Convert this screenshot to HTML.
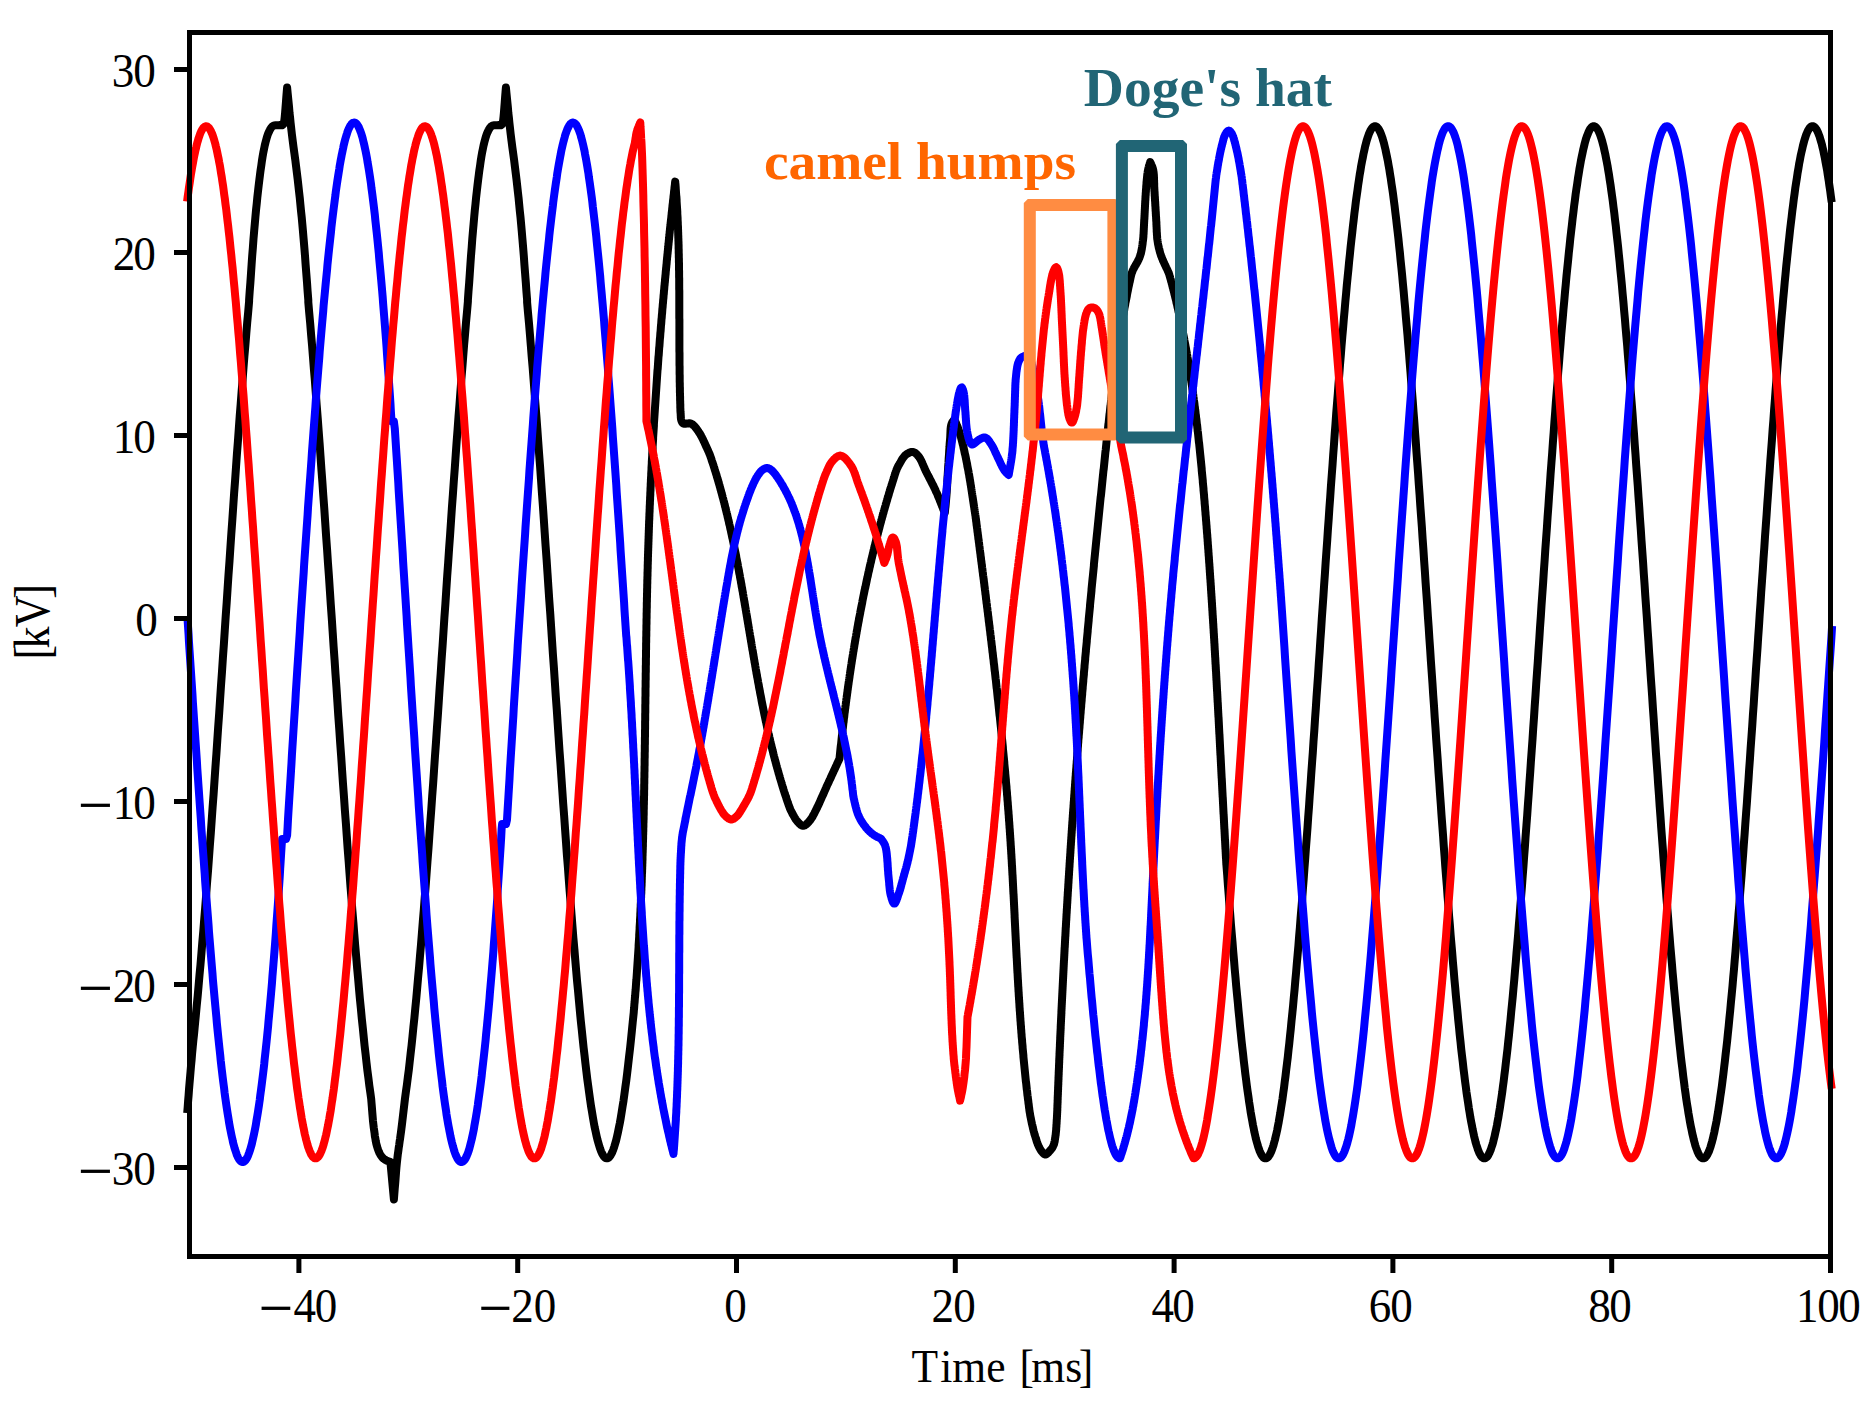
<!DOCTYPE html>
<html lang="en"><head><meta charset="utf-8"><title>Three-phase voltage transient</title>
<style>html,body{margin:0;padding:0;background:#fff}body{width:1875px;height:1412px;overflow:hidden}</style>
</head><body>
<svg width="1875" height="1412" viewBox="0 0 1875 1412" style="display:block">
<rect width="1875" height="1412" fill="#fff"/>
<defs><clipPath id="ax"><rect x="170" y="30" width="1680" height="1229"/></clipPath></defs>
<g clip-path="url(#ax)" fill="none" stroke-width="8.0" stroke-linejoin="round" stroke-linecap="butt">
<path stroke="#000" d="M187.2,1113.0 L187.7,1107.1 L188.1,1101.3 L188.6,1095.4 L189.0,1089.6 L189.5,1083.7 L190.0,1077.9 L190.5,1072.0 L191.0,1066.0 L191.6,1059.8 L192.1,1053.5 L192.7,1047.2 L193.3,1040.9 L194.0,1034.6 L194.6,1028.2 L195.2,1021.9 L195.8,1015.6 L196.7,1005.9 L197.7,995.9 L198.6,985.7 L199.5,975.2 L200.5,964.5 L201.4,953.6 L202.3,942.4 L203.3,931.1 L204.2,919.5 L205.2,907.7 L206.1,895.7 L207.0,883.5 L208.0,871.2 L208.9,858.7 L209.8,846.1 L210.8,833.3 L211.7,820.3 L212.6,807.2 L213.6,794.1 L214.5,780.8 L215.4,767.4 L216.4,753.9 L217.3,740.3 L218.2,726.7 L219.2,713.0 L220.1,699.2 L221.0,685.4 L222.0,671.6 L222.9,657.8 L223.9,643.9 L224.8,630.0 L225.7,616.2 L226.7,602.4 L227.6,588.6 L228.5,574.8 L229.5,561.1 L230.4,547.4 L231.3,533.9 L232.3,520.3 L233.2,506.9 L234.1,493.6 L235.1,480.4 L236.0,467.3 L236.9,454.3 L237.9,441.5 L238.8,428.8 L239.7,416.3 L240.7,403.9 L241.6,391.7 L242.6,379.7 L243.5,367.8 L244.4,356.2 L245.4,344.8 L246.3,333.5 L247.2,322.6 L248.2,311.8 L249.1,301.3 L249.1,300.0 L249.7,291.3 L250.4,282.4 L251.0,273.5 L251.6,264.6 L252.2,255.8 L252.9,247.2 L253.5,238.8 L254.2,230.6 L254.8,223.8 L255.4,217.0 L256.0,210.4 L256.7,203.9 L257.3,197.6 L258.0,191.4 L258.7,185.3 L259.4,179.5 L260.0,174.8 L260.6,170.1 L261.3,165.5 L261.9,161.0 L262.6,156.7 L263.3,152.6 L264.1,148.8 L264.8,145.3 L265.3,143.2 L265.8,141.3 L266.3,139.4 L266.8,137.7 L267.3,136.0 L267.8,134.5 L268.4,133.0 L269.0,131.7 L269.4,130.8 L269.9,129.9 L270.3,129.1 L270.8,128.3 L271.3,127.6 L271.8,127.0 L272.4,126.4 L273.0,126.0 L273.6,125.7 L274.1,125.5 L274.8,125.4 L275.4,125.3 L276.1,125.3 L276.7,125.3 L277.4,125.2 L278.0,125.2 L278.6,125.2 L279.2,125.1 L279.8,125.1 L281.0,125.2 L282.2,125.2 L282.9,124.9 L283.3,124.3 L283.7,123.4 L284.3,120.6 L284.7,117.1 L285.1,112.8 L285.5,107.9 L285.9,102.7 L286.3,97.4 L286.7,92.2 L287.1,87.5 L287.6,92.6 L288.1,97.6 L288.6,102.6 L289.1,107.6 L289.5,112.7 L290.1,117.8 L290.6,123.0 L291.2,128.3 L291.9,134.4 L292.7,140.7 L293.5,147.1 L294.4,153.5 L295.3,160.0 L296.1,166.6 L296.9,173.1 L297.7,179.5 L298.4,185.8 L299.1,192.1 L299.8,198.3 L300.4,204.6 L301.0,210.9 L301.7,217.3 L302.3,223.8 L302.9,230.6 L303.6,238.8 L304.3,247.2 L305.0,255.8 L305.6,264.6 L306.3,273.5 L307.0,282.4 L307.6,291.3 L308.3,300.0 L308.3,302.1 L309.2,312.7 L310.2,323.5 L311.1,334.6 L312.1,345.9 L313.0,357.4 L313.9,369.1 L314.9,381.0 L315.8,393.1 L316.7,405.3 L317.7,417.8 L318.6,430.4 L319.6,443.2 L320.5,456.1 L321.4,469.1 L322.4,482.3 L323.3,495.6 L324.3,508.9 L325.2,522.4 L326.1,536.0 L327.1,549.7 L328.0,563.4 L329.0,577.2 L329.9,591.0 L330.8,604.8 L331.8,618.7 L332.7,632.6 L333.6,646.5 L334.6,660.4 L335.5,674.3 L336.5,688.2 L337.4,702.1 L338.3,715.9 L339.3,729.6 L340.2,743.3 L341.2,756.9 L342.1,770.4 L343.0,783.8 L344.0,797.2 L344.9,810.4 L345.9,823.5 L346.8,836.4 L347.7,849.2 L348.7,861.9 L349.6,874.4 L350.5,886.8 L351.5,898.9 L352.4,910.9 L353.4,922.7 L354.3,934.2 L355.2,945.6 L356.2,956.8 L357.1,967.7 L358.1,978.4 L359.0,988.8 L359.9,999.0 L360.9,1008.9 L361.8,1018.6 L362.8,1027.9 L363.7,1037.0 L364.6,1045.9 L365.6,1054.4 L366.5,1062.6 L367.4,1070.5 L368.4,1078.1 L369.3,1085.4 L370.3,1092.4 L371.2,1099.0 L371.5,1102.7 L371.8,1106.4 L372.1,1110.1 L372.4,1113.9 L372.7,1117.5 L373.0,1121.1 L373.4,1124.6 L373.8,1128.0 L374.2,1130.7 L374.6,1133.5 L374.9,1136.2 L375.4,1138.8 L375.8,1141.3 L376.3,1143.7 L376.9,1145.9 L377.5,1148.0 L378.0,1149.4 L378.5,1150.7 L379.0,1151.9 L379.5,1153.1 L380.1,1154.2 L380.7,1155.2 L381.3,1156.1 L382.0,1157.0 L382.5,1157.6 L383.0,1158.1 L383.6,1158.6 L384.2,1159.0 L384.7,1159.5 L385.3,1159.8 L385.9,1160.2 L386.5,1160.5 L387.0,1160.8 L388.2,1161.2 L389.3,1161.5 L390.4,1161.8 L393.9,1199.5 L394.3,1194.2 L394.7,1188.9 L395.2,1183.5 L395.6,1178.1 L396.0,1172.8 L396.4,1167.7 L396.9,1162.7 L397.4,1158.0 L397.8,1154.5 L398.3,1151.1 L398.7,1147.9 L399.2,1144.8 L399.6,1141.7 L400.1,1138.6 L400.5,1135.4 L401.0,1132.0 L401.5,1128.0 L402.0,1123.9 L402.5,1119.7 L403.0,1115.5 L403.5,1111.2 L404.0,1107.0 L404.5,1102.7 L405.0,1098.5 L405.9,1091.8 L406.9,1084.8 L407.8,1077.5 L408.8,1069.9 L409.7,1061.9 L410.6,1053.7 L411.6,1045.1 L412.5,1036.3 L413.4,1027.2 L414.4,1017.8 L415.3,1008.1 L416.3,998.1 L417.2,987.9 L418.1,977.5 L419.1,966.8 L420.0,955.8 L421.0,944.7 L421.9,933.3 L422.8,921.7 L423.8,909.9 L424.7,897.9 L425.7,885.7 L426.6,873.4 L427.5,860.9 L428.5,848.2 L429.4,835.3 L430.3,822.4 L431.3,809.3 L432.2,796.1 L433.2,782.7 L434.1,769.3 L435.0,755.8 L436.0,742.1 L436.9,728.5 L437.9,714.7 L438.8,700.9 L439.7,687.1 L440.7,673.2 L441.6,659.3 L442.6,645.4 L443.5,631.5 L444.4,617.6 L445.4,603.7 L446.3,589.8 L447.2,576.0 L448.2,562.2 L449.1,548.5 L450.1,534.9 L451.0,521.3 L451.9,507.8 L452.9,494.4 L453.8,481.2 L454.8,468.0 L455.7,455.0 L456.6,442.1 L457.6,429.3 L458.5,416.7 L459.5,404.3 L460.4,392.1 L461.3,380.0 L462.3,368.1 L463.2,356.4 L464.1,344.9 L465.1,333.7 L466.0,322.6 L467.0,311.8 L467.9,301.3 L467.9,300.0 L468.5,291.3 L469.2,282.4 L469.8,273.5 L470.4,264.6 L471.0,255.8 L471.7,247.2 L472.3,238.8 L473.0,230.6 L473.6,223.8 L474.2,217.0 L474.8,210.4 L475.5,203.9 L476.1,197.6 L476.8,191.4 L477.5,185.3 L478.2,179.5 L478.8,174.8 L479.4,170.1 L480.1,165.5 L480.7,161.0 L481.4,156.7 L482.1,152.6 L482.9,148.8 L483.6,145.3 L484.1,143.2 L484.6,141.3 L485.1,139.4 L485.6,137.7 L486.1,136.0 L486.6,134.5 L487.2,133.0 L487.8,131.7 L488.2,130.8 L488.7,129.9 L489.1,129.1 L489.6,128.3 L490.1,127.6 L490.6,127.0 L491.2,126.4 L491.8,126.0 L492.4,125.7 L492.9,125.5 L493.6,125.4 L494.2,125.3 L494.9,125.3 L495.5,125.3 L496.2,125.2 L496.8,125.2 L497.4,125.2 L498.0,125.1 L498.6,125.1 L499.8,125.2 L501.0,125.2 L501.7,124.9 L502.1,124.3 L502.5,123.4 L503.1,120.6 L503.5,117.1 L503.9,112.8 L504.3,107.9 L504.7,102.7 L505.1,97.4 L505.5,92.2 L505.9,87.5 L506.4,92.6 L506.9,97.6 L507.4,102.6 L507.9,107.6 L508.3,112.7 L508.9,117.8 L509.4,123.0 L510.0,128.3 L510.7,134.4 L511.5,140.7 L512.3,147.1 L513.2,153.5 L514.1,160.0 L514.9,166.6 L515.7,173.1 L516.5,179.5 L517.2,185.8 L517.9,192.1 L518.6,198.3 L519.2,204.6 L519.8,210.9 L520.5,217.3 L521.1,223.8 L521.7,230.6 L522.4,238.8 L523.1,247.2 L523.8,255.8 L524.4,264.6 L525.1,273.5 L525.8,282.4 L526.4,291.3 L527.1,300.0 L527.1,302.1 L528.0,312.6 L529.0,323.3 L529.9,334.2 L530.8,345.3 L531.7,356.6 L532.7,368.2 L533.6,379.9 L534.5,391.8 L535.4,403.9 L536.4,416.2 L537.3,428.6 L538.2,441.2 L539.1,453.9 L540.1,466.7 L541.0,479.7 L541.9,492.8 L542.9,506.0 L543.8,519.3 L544.7,532.7 L545.6,546.1 L546.6,559.6 L547.5,573.2 L548.4,586.9 L549.3,600.5 L550.3,614.2 L551.2,627.9 L552.1,641.7 L553.0,655.4 L554.0,669.1 L554.9,682.8 L555.8,696.5 L556.8,710.1 L557.7,723.7 L558.6,737.3 L559.5,750.7 L560.5,764.1 L561.4,777.4 L562.3,790.6 L563.2,803.7 L564.2,816.7 L565.1,829.6 L566.0,842.3 L566.9,854.9 L567.9,867.3 L568.8,879.6 L569.7,891.7 L570.7,903.6 L571.6,915.4 L572.5,926.9 L573.4,938.3 L574.4,949.4 L575.3,960.3 L576.2,971.0 L577.1,981.5 L578.1,991.7 L579.0,1001.7 L579.9,1011.4 L580.8,1020.9 L581.8,1030.1 L582.7,1039.0 L583.6,1047.7 L584.6,1056.0 L585.5,1064.1 L586.4,1071.8 L587.3,1079.3 L588.3,1086.5 L589.2,1093.3 L590.1,1099.8 L591.0,1106.0 L592.0,1111.9 L592.9,1117.4 L593.8,1122.6 L594.7,1127.4 L595.7,1131.9 L596.6,1136.1 L597.5,1139.9 L598.5,1143.4 L599.4,1146.5 L600.3,1149.2 L601.2,1151.6 L602.2,1153.7 L603.1,1155.3 L604.0,1156.6 L604.9,1157.6 L605.9,1158.1 L606.8,1158.3 L607.7,1158.2 L608.6,1157.7 L609.6,1156.8 L610.5,1155.5 L611.4,1153.9 L612.4,1151.9 L613.3,1149.6 L614.2,1146.9 L615.1,1143.9 L616.1,1140.5 L617.0,1136.7 L617.9,1132.6 L618.8,1128.1 L619.8,1123.3 L620.7,1118.2 L621.6,1112.7 L622.5,1106.9 L623.5,1100.8 L624.4,1094.3 L625.3,1087.5 L626.3,1080.4 L627.2,1073.0 L628.1,1065.3 L629.0,1057.3 L630.0,1048.9 L630.9,1040.3 L631.8,1031.5 L632.7,1022.3 L633.7,1012.9 L633.8,1011.4 L633.9,1009.9 L634.1,1008.4 L634.2,1006.9 L634.3,1005.4 L634.4,1003.9 L634.6,1002.4 L634.7,1000.9 L634.8,999.4 L634.9,997.9 L635.1,996.4 L635.2,994.9 L635.3,993.4 L635.4,991.9 L635.6,990.4 L635.7,988.9 L635.8,987.4 L635.9,985.9 L636.0,984.4 L636.1,982.9 L636.2,981.4 L636.4,979.9 L636.5,978.4 L636.6,976.9 L636.7,975.4 L636.8,973.9 L636.9,972.4 L637.0,970.9 L637.1,969.4 L637.2,967.9 L637.3,966.4 L637.4,964.9 L637.5,963.4 L637.6,961.9 L637.7,960.4 L637.8,958.9 L637.9,957.4 L638.0,955.9 L638.1,954.4 L638.2,952.9 L638.3,951.4 L638.4,949.9 L638.5,948.4 L638.6,946.9 L638.6,945.4 L638.7,943.9 L638.8,942.4 L638.9,940.9 L639.0,939.4 L639.1,937.9 L639.2,936.4 L639.2,934.9 L639.3,933.4 L639.4,931.9 L639.5,930.4 L639.6,928.9 L639.6,927.4 L639.7,925.9 L639.8,924.4 L639.9,922.9 L640.0,921.4 L640.0,919.9 L640.1,918.4 L640.2,916.9 L640.3,915.4 L640.3,913.9 L640.4,912.4 L640.5,910.9 L640.5,909.4 L640.6,907.9 L640.7,906.4 L640.7,904.9 L640.8,903.4 L640.9,901.9 L640.9,900.4 L641.0,898.9 L641.1,897.4 L641.1,895.8 L641.2,894.3 L641.3,892.8 L641.3,891.3 L641.4,889.8 L641.4,888.3 L641.5,886.8 L641.6,885.3 L641.6,883.8 L641.7,882.3 L641.7,880.8 L641.8,879.3 L641.8,877.8 L641.9,876.3 L641.9,874.8 L642.0,873.3 L642.1,871.8 L642.1,870.3 L642.2,868.8 L642.2,867.3 L642.3,865.8 L642.3,864.3 L642.4,862.8 L642.4,861.3 L642.5,859.8 L642.5,858.3 L642.5,856.8 L642.6,855.3 L642.6,853.8 L642.7,852.3 L642.7,850.8 L642.8,849.3 L642.8,847.8 L642.9,846.3 L642.9,844.8 L642.9,843.3 L643.0,841.8 L643.0,840.3 L643.1,838.8 L643.1,837.3 L643.1,835.8 L643.2,834.3 L643.2,832.8 L643.3,831.3 L643.3,829.8 L643.3,828.3 L643.4,826.8 L643.4,825.3 L643.4,823.8 L643.5,822.3 L643.5,820.8 L643.6,819.3 L643.6,817.7 L643.6,816.2 L643.7,814.7 L643.7,813.2 L643.7,811.7 L643.7,810.2 L643.8,808.7 L643.8,807.2 L643.8,805.7 L643.9,804.2 L643.9,802.7 L643.9,801.2 L644.0,799.7 L644.0,798.2 L644.0,796.7 L644.1,795.2 L644.1,793.7 L644.1,792.2 L644.1,790.7 L644.2,789.2 L644.2,787.7 L644.2,786.2 L644.2,784.7 L644.3,783.2 L644.3,781.7 L644.3,780.2 L644.3,778.7 L644.4,777.2 L644.4,775.7 L644.4,774.2 L644.4,772.7 L644.5,771.2 L644.5,769.7 L644.5,768.2 L644.5,766.7 L644.6,765.2 L644.6,763.7 L644.6,762.2 L644.6,760.7 L644.6,759.1 L644.7,757.6 L644.7,756.1 L644.7,754.6 L644.7,753.1 L644.8,751.6 L644.8,750.1 L644.8,748.6 L644.8,747.1 L644.8,745.6 L644.9,744.1 L644.9,742.6 L644.9,741.1 L644.9,739.6 L644.9,738.1 L645.0,736.6 L645.0,735.1 L645.0,733.6 L645.0,732.1 L645.0,730.6 L645.1,729.1 L645.1,727.6 L645.1,726.1 L645.1,724.6 L645.1,723.1 L645.1,721.6 L645.2,720.1 L645.2,718.6 L645.2,717.1 L645.2,715.6 L645.2,714.1 L645.3,712.6 L645.3,711.1 L645.3,709.6 L645.3,708.1 L645.3,706.6 L645.3,705.0 L645.4,703.5 L645.4,702.0 L645.4,700.5 L645.4,699.0 L645.4,697.5 L645.5,696.0 L645.5,694.5 L645.5,693.0 L645.5,691.5 L645.5,690.0 L645.5,688.5 L645.6,687.0 L645.6,685.5 L645.6,684.0 L645.6,682.5 L645.6,681.0 L645.7,679.5 L645.7,678.0 L645.7,676.5 L645.7,675.0 L645.7,673.5 L645.8,672.0 L645.8,670.5 L645.8,669.0 L645.8,667.5 L645.8,666.0 L645.9,664.5 L645.9,663.0 L645.9,661.5 L645.9,660.0 L645.9,658.5 L646.0,657.0 L646.0,655.5 L646.0,654.0 L646.0,652.4 L646.0,650.9 L646.1,649.4 L646.1,647.9 L646.1,646.4 L646.1,644.9 L646.1,643.4 L646.2,641.9 L646.2,640.4 L646.2,638.9 L646.2,637.4 L646.3,635.9 L646.3,634.4 L646.3,632.9 L646.3,631.4 L646.4,629.9 L646.4,628.4 L646.4,626.9 L646.4,625.4 L646.5,623.9 L646.5,622.4 L646.5,620.9 L646.5,619.4 L646.6,617.9 L646.6,616.4 L646.6,614.9 L646.6,613.4 L646.7,611.9 L646.7,610.4 L646.7,608.9 L646.8,607.4 L646.8,605.9 L646.8,604.4 L646.8,602.9 L646.9,601.4 L646.9,599.9 L646.9,598.4 L647.0,596.8 L647.0,595.3 L647.0,593.8 L647.1,592.3 L647.1,590.8 L647.1,589.3 L647.2,587.8 L647.2,586.3 L647.2,584.8 L647.3,583.3 L647.3,581.8 L647.3,580.3 L647.4,578.8 L647.4,577.3 L647.5,575.8 L647.5,574.3 L647.5,572.8 L647.6,571.3 L647.6,569.8 L647.7,568.3 L647.7,566.8 L647.7,565.3 L647.8,563.8 L647.8,562.3 L647.9,560.8 L647.9,559.3 L647.9,557.8 L648.0,556.3 L648.0,554.8 L648.1,553.3 L648.1,551.8 L648.2,550.3 L648.2,548.8 L648.3,547.3 L648.3,545.8 L648.4,544.3 L648.4,542.8 L648.5,541.3 L648.5,539.8 L648.6,538.3 L648.6,536.8 L648.7,535.3 L648.7,533.8 L648.8,532.3 L648.8,530.7 L648.9,529.2 L648.9,527.7 L649.0,526.2 L649.0,524.7 L649.1,523.2 L649.1,521.7 L649.2,520.2 L649.3,518.7 L649.3,517.2 L649.4,515.7 L649.4,514.2 L649.5,512.7 L649.6,511.2 L649.6,509.7 L649.7,508.2 L649.7,506.7 L649.8,505.2 L649.9,503.7 L649.9,502.2 L650.0,500.7 L650.1,499.2 L650.1,497.7 L650.2,496.2 L650.3,494.7 L650.3,493.2 L650.4,491.7 L650.5,490.2 L650.5,488.7 L650.6,487.2 L650.7,485.7 L650.7,484.2 L650.8,482.7 L650.9,481.2 L650.9,479.7 L651.0,478.2 L651.1,476.7 L651.2,475.2 L651.2,473.7 L651.3,472.2 L651.4,470.7 L651.5,469.2 L651.5,467.7 L651.6,466.2 L651.7,464.7 L651.8,463.2 L651.8,461.7 L651.9,460.2 L652.0,458.7 L652.1,457.2 L652.2,455.7 L652.2,454.2 L652.3,452.7 L652.4,451.2 L652.5,449.7 L652.6,448.2 L652.6,446.7 L652.7,445.2 L652.8,443.7 L652.9,442.2 L653.0,440.7 L653.1,439.2 L653.1,437.7 L653.2,436.2 L653.3,434.7 L653.4,433.2 L653.5,431.7 L653.6,430.2 L653.7,428.7 L653.8,427.2 L653.9,425.7 L653.9,424.2 L654.0,422.7 L654.1,421.2 L654.2,419.7 L654.3,418.2 L654.4,416.7 L654.5,415.2 L654.6,413.7 L654.7,412.2 L654.8,410.7 L654.9,409.2 L655.0,407.7 L655.1,406.2 L655.2,404.7 L655.3,403.2 L655.4,401.7 L655.5,400.2 L655.6,398.7 L655.7,397.2 L655.8,395.7 L655.9,394.2 L656.0,392.7 L656.1,391.2 L656.2,389.7 L656.3,388.2 L656.4,386.7 L656.5,385.2 L656.6,383.7 L656.7,382.2 L656.8,380.7 L656.9,379.2 L657.0,377.7 L657.1,376.2 L657.2,374.7 L657.3,373.2 L657.4,371.7 L657.5,370.2 L657.7,368.7 L657.8,367.2 L657.9,365.7 L658.0,364.2 L658.1,362.7 L658.2,361.2 L658.3,359.7 L658.4,358.2 L658.5,356.7 L658.7,355.2 L658.8,353.7 L658.9,352.2 L659.0,350.7 L659.1,349.2 L659.2,347.7 L659.4,346.2 L659.5,344.7 L659.6,343.2 L659.7,341.7 L659.8,340.2 L659.9,338.7 L660.1,337.2 L660.2,335.7 L660.3,334.2 L660.4,332.7 L660.6,331.2 L660.7,329.7 L660.8,328.2 L660.9,326.7 L661.0,325.2 L661.2,323.7 L661.3,322.2 L661.4,320.7 L661.5,319.2 L661.7,317.7 L661.8,316.2 L661.9,314.7 L662.1,313.2 L662.2,311.7 L662.3,310.2 L662.4,308.7 L662.6,307.2 L662.7,305.7 L662.8,304.2 L663.0,302.7 L663.1,301.2 L663.2,299.8 L663.4,298.3 L663.5,296.8 L663.6,295.3 L663.8,293.8 L663.9,292.3 L664.0,290.8 L664.2,289.3 L664.3,287.8 L664.4,286.3 L664.6,284.8 L664.7,283.3 L664.9,281.8 L665.0,280.3 L665.1,278.8 L665.3,277.3 L665.4,275.8 L665.6,274.3 L665.7,272.8 L665.8,271.3 L666.0,269.8 L666.1,268.3 L666.3,266.8 L666.4,265.3 L666.6,263.8 L666.7,262.3 L666.8,260.8 L667.0,259.3 L667.1,257.8 L667.3,256.3 L667.4,254.8 L667.6,253.4 L667.7,251.9 L667.9,250.4 L668.0,248.9 L668.2,247.4 L668.3,245.9 L668.5,244.4 L668.6,242.9 L668.8,241.4 L668.9,239.9 L669.1,238.4 L669.2,236.9 L669.4,235.4 L669.5,233.9 L669.7,232.4 L669.8,230.9 L670.0,229.4 L670.1,227.9 L670.3,226.4 L670.5,224.9 L670.6,223.4 L670.8,221.9 L670.9,220.5 L671.1,219.0 L671.3,217.5 L671.4,216.0 L671.6,214.5 L671.7,213.0 L671.9,211.5 L672.1,210.0 L672.2,208.5 L672.4,207.0 L672.5,205.5 L672.7,204.0 L672.9,202.5 L673.0,201.0 L673.2,199.5 L673.4,198.0 L673.5,196.5 L673.7,195.0 L673.9,193.6 L674.0,192.1 L674.2,190.6 L674.4,189.1 L674.5,187.6 L674.7,186.1 L674.9,184.6 L675.0,183.1 L675.2,181.6 L675.3,183.1 L675.5,184.6 L675.6,186.1 L675.7,187.6 L675.8,189.2 L675.9,190.7 L676.0,192.2 L676.1,193.7 L676.2,195.2 L676.4,196.7 L676.5,198.2 L676.6,199.7 L676.6,201.3 L676.7,202.8 L676.8,204.3 L676.9,205.8 L677.0,207.3 L677.1,208.8 L677.2,210.3 L677.3,211.8 L677.3,213.4 L677.4,214.9 L677.5,216.4 L677.6,217.9 L677.6,219.4 L677.7,220.9 L677.8,222.4 L677.8,224.0 L677.9,225.5 L678.0,227.0 L678.0,228.5 L678.1,230.0 L678.1,231.5 L678.2,233.0 L678.2,234.6 L678.3,236.1 L678.3,237.6 L678.4,239.1 L678.4,240.6 L678.5,242.1 L678.5,243.6 L678.6,245.2 L678.6,246.7 L678.6,248.2 L678.7,249.7 L678.7,251.2 L678.7,252.7 L678.8,254.3 L678.8,255.8 L678.8,257.3 L678.9,258.8 L678.9,260.3 L678.9,261.8 L679.0,263.3 L679.0,264.9 L679.0,266.4 L679.0,267.9 L679.0,269.4 L679.1,270.9 L679.1,272.4 L679.1,274.0 L679.1,275.5 L679.1,277.0 L679.2,278.5 L679.2,280.0 L679.2,281.5 L679.2,283.1 L679.2,284.6 L679.2,286.1 L679.2,287.6 L679.2,289.1 L679.3,290.7 L679.3,292.2 L679.3,293.7 L679.3,295.2 L679.3,296.7 L679.3,298.2 L679.3,299.8 L679.3,301.3 L679.3,302.8 L679.3,304.3 L679.3,305.8 L679.3,307.3 L679.3,308.9 L679.3,310.4 L679.3,311.9 L679.3,313.4 L679.3,314.9 L679.3,316.4 L679.3,318.0 L679.4,319.5 L679.4,321.0 L679.4,322.5 L679.4,324.0 L679.4,325.6 L679.4,327.1 L679.4,328.6 L679.4,330.1 L679.4,331.6 L679.4,333.1 L679.4,334.7 L679.4,336.2 L679.4,337.7 L679.4,339.2 L679.4,340.7 L679.4,342.2 L679.4,343.8 L679.4,345.3 L679.4,346.8 L679.4,348.3 L679.4,349.8 L679.4,351.3 L679.5,352.9 L679.5,354.4 L679.5,355.9 L679.5,357.4 L679.5,358.9 L679.5,360.5 L679.5,362.0 L679.5,363.5 L679.5,365.0 L679.6,366.5 L679.6,368.0 L679.6,369.6 L679.6,371.1 L679.6,372.6 L679.6,374.1 L679.7,375.6 L679.7,377.1 L679.7,378.7 L679.7,380.2 L679.7,381.7 L679.8,383.2 L679.8,384.7 L679.8,386.2 L679.9,387.8 L679.9,389.3 L679.9,390.8 L679.9,392.3 L680.0,393.8 L680.0,395.3 L680.1,396.8 L680.1,398.4 L680.1,399.9 L680.2,401.4 L680.2,402.9 L680.3,404.4 L680.3,405.9 L680.3,407.5 L680.4,409.0 L680.4,410.5 L680.5,412.0 L680.6,413.0 L680.7,414.0 L680.7,415.0 L680.8,416.0 L680.8,417.0 L680.9,418.0 L681.0,419.0 L681.2,420.0 L681.5,420.9 L681.9,421.8 L682.4,422.7 L683.1,423.4 L684.0,423.7 L685.0,423.8 L686.0,423.7 L687.0,423.5 L688.0,423.4 L689.0,423.3 L690.0,423.3 L691.0,423.6 L691.8,424.1 L692.7,424.6 L693.4,425.3 L694.2,425.9 L694.8,426.7 L695.5,427.5 L696.1,428.2 L696.7,429.0 L697.3,429.8 L697.9,430.7 L698.4,431.5 L699.0,432.3 L699.5,433.2 L700.1,434.0 L700.6,434.9 L701.0,435.7 L701.5,436.6 L702.0,437.5 L702.4,438.4 L702.9,439.3 L703.3,440.2 L703.7,441.1 L704.2,442.0 L704.6,442.9 L705.0,443.8 L705.4,444.7 L705.8,445.7 L706.2,446.6 L706.7,447.5 L707.1,448.4 L707.5,449.3 L707.9,450.2 L708.3,451.1 L708.7,452.0 L709.1,452.9 L709.5,453.9 L709.9,454.8 L710.2,455.7 L710.5,456.7 L710.9,457.6 L711.2,458.6 L711.5,459.5 L711.8,460.5 L712.1,461.4 L712.5,462.4 L712.8,463.3 L713.1,464.3 L713.4,465.2 L713.7,466.2 L714.0,467.1 L714.3,468.1 L714.6,469.0 L714.9,470.0 L715.2,470.9 L715.5,471.9 L715.8,472.8 L716.1,473.8 L716.4,474.8 L716.7,475.7 L716.9,476.7 L717.2,477.6 L717.5,478.6 L717.8,479.5 L718.1,480.5 L718.4,481.5 L718.6,482.4 L718.9,483.4 L719.2,484.4 L719.5,485.3 L719.7,486.3 L720.0,487.2 L720.3,488.2 L720.5,489.2 L720.8,490.1 L721.1,491.1 L721.3,492.1 L721.6,493.0 L721.9,494.0 L722.1,495.0 L722.4,495.9 L722.6,496.9 L722.9,497.9 L723.2,498.8 L723.4,499.8 L723.7,500.8 L723.9,501.7 L724.2,502.7 L724.4,503.7 L724.7,504.6 L724.9,505.6 L725.1,506.6 L725.4,507.5 L725.6,508.5 L725.9,509.5 L726.1,510.5 L726.3,511.4 L726.6,512.4 L726.8,513.4 L727.1,514.3 L727.3,515.3 L727.5,516.3 L727.7,517.3 L728.0,518.2 L728.2,519.2 L728.4,520.2 L728.7,521.2 L728.9,522.1 L729.1,523.1 L729.3,524.1 L729.6,525.1 L729.8,526.0 L730.0,527.0 L730.2,528.0 L730.4,529.0 L730.7,529.9 L730.9,530.9 L731.1,531.9 L731.3,532.9 L731.5,533.8 L731.7,534.8 L731.9,535.8 L732.1,536.8 L732.3,537.8 L732.6,538.7 L732.8,539.7 L733.0,540.7 L733.2,541.7 L733.4,542.6 L733.6,543.6 L733.8,544.6 L734.0,545.6 L734.2,546.6 L734.4,547.5 L734.6,548.5 L734.8,549.5 L735.0,550.5 L735.2,551.5 L735.4,552.4 L735.6,553.4 L735.8,554.4 L736.0,555.4 L736.2,556.4 L736.3,557.4 L736.5,558.3 L736.7,559.3 L736.9,560.3 L737.1,561.3 L737.3,562.3 L737.5,563.2 L737.7,564.2 L737.9,565.2 L738.0,566.2 L738.2,567.2 L738.4,568.2 L738.6,569.1 L738.8,570.1 L739.0,571.1 L739.1,572.1 L739.3,573.1 L739.5,574.1 L739.7,575.0 L739.9,576.0 L740.0,577.0 L740.2,578.0 L740.4,579.0 L740.6,580.0 L740.8,580.9 L740.9,581.9 L741.1,582.9 L741.3,583.9 L741.5,584.9 L741.6,585.9 L741.8,586.9 L742.0,587.8 L742.2,588.8 L742.3,589.8 L742.5,590.8 L742.7,591.8 L742.9,592.8 L743.0,593.7 L743.2,594.7 L743.4,595.7 L743.5,596.7 L743.7,597.7 L743.9,598.7 L744.0,599.7 L744.2,600.6 L744.4,601.6 L744.6,602.6 L744.7,603.6 L744.9,604.6 L745.1,605.6 L745.2,606.6 L745.4,607.5 L745.6,608.5 L745.7,609.5 L745.9,610.5 L746.1,611.5 L746.2,612.5 L746.4,613.5 L746.6,614.5 L746.7,615.4 L746.9,616.4 L747.1,617.4 L747.2,618.4 L747.4,619.4 L747.6,620.4 L747.7,621.4 L747.9,622.3 L748.0,623.3 L748.2,624.3 L748.4,625.3 L748.5,626.3 L748.7,627.3 L748.9,628.3 L749.0,629.2 L749.2,630.2 L749.4,631.2 L749.5,632.2 L749.7,633.2 L749.9,634.2 L750.0,635.2 L750.2,636.2 L750.4,637.1 L750.5,638.1 L750.7,639.1 L750.9,640.1 L751.0,641.1 L751.2,642.1 L751.4,643.1 L751.5,644.0 L751.7,645.0 L751.8,646.0 L752.0,647.0 L752.2,648.0 L752.3,649.0 L752.5,650.0 L752.7,650.9 L752.9,651.9 L753.0,652.9 L753.2,653.9 L753.4,654.9 L753.5,655.9 L753.7,656.9 L753.9,657.8 L754.0,658.8 L754.2,659.8 L754.4,660.8 L754.5,661.8 L754.7,662.8 L754.9,663.8 L755.1,664.7 L755.2,665.7 L755.4,666.7 L755.6,667.7 L755.7,668.7 L755.9,669.7 L756.1,670.7 L756.3,671.6 L756.4,672.6 L756.6,673.6 L756.8,674.6 L757.0,675.6 L757.1,676.6 L757.3,677.5 L757.5,678.5 L757.7,679.5 L757.9,680.5 L758.0,681.5 L758.2,682.5 L758.4,683.5 L758.6,684.4 L758.8,685.4 L758.9,686.4 L759.1,687.4 L759.3,688.4 L759.5,689.4 L759.7,690.3 L759.9,691.3 L760.0,692.3 L760.2,693.3 L760.4,694.3 L760.6,695.3 L760.8,696.2 L761.0,697.2 L761.2,698.2 L761.4,699.2 L761.5,700.2 L761.7,701.1 L761.9,702.1 L762.1,703.1 L762.3,704.1 L762.5,705.1 L762.7,706.0 L762.9,707.0 L763.1,708.0 L763.3,709.0 L763.5,710.0 L763.7,711.0 L763.9,711.9 L764.1,712.9 L764.3,713.9 L764.5,714.9 L764.7,715.8 L764.9,716.8 L765.1,717.8 L765.3,718.8 L765.5,719.8 L765.7,720.7 L765.9,721.7 L766.2,722.7 L766.4,723.7 L766.6,724.7 L766.8,725.6 L767.0,726.6 L767.2,727.6 L767.4,728.6 L767.7,729.5 L767.9,730.5 L768.1,731.5 L768.3,732.5 L768.5,733.4 L768.8,734.4 L769.0,735.4 L769.2,736.4 L769.4,737.3 L769.7,738.3 L769.9,739.3 L770.1,740.3 L770.3,741.2 L770.6,742.2 L770.8,743.2 L771.0,744.2 L771.3,745.1 L771.5,746.1 L771.7,747.1 L772.0,748.0 L772.2,749.0 L772.5,750.0 L772.7,750.9 L773.0,751.9 L773.2,752.9 L773.4,753.9 L773.7,754.8 L773.9,755.8 L774.2,756.8 L774.4,757.7 L774.7,758.7 L774.9,759.7 L775.2,760.6 L775.5,761.6 L775.7,762.6 L776.0,763.5 L776.2,764.5 L776.5,765.5 L776.8,766.4 L777.0,767.4 L777.3,768.4 L777.6,769.3 L777.8,770.3 L778.1,771.2 L778.4,772.2 L778.6,773.2 L778.9,774.1 L779.2,775.1 L779.5,776.1 L779.7,777.0 L780.0,778.0 L780.3,778.9 L780.6,779.9 L780.9,780.9 L781.2,781.8 L781.5,782.8 L781.7,783.7 L782.0,784.7 L782.3,785.6 L782.6,786.6 L782.9,787.6 L783.2,788.5 L783.5,789.5 L783.8,790.4 L784.1,791.4 L784.4,792.3 L784.7,793.3 L785.0,794.2 L785.3,795.2 L785.7,796.1 L786.0,797.1 L786.3,798.0 L786.6,799.0 L786.9,799.9 L787.2,800.9 L787.6,801.8 L787.9,802.8 L788.2,803.7 L788.5,804.7 L788.9,805.6 L789.2,806.5 L789.6,807.5 L789.9,808.4 L790.3,809.3 L790.7,810.2 L791.2,811.1 L791.6,812.0 L792.1,812.9 L792.5,813.8 L793.0,814.7 L793.5,815.5 L794.0,816.4 L794.5,817.3 L795.0,818.1 L795.5,819.0 L796.1,819.8 L796.7,820.6 L797.3,821.4 L798.0,822.1 L798.7,822.9 L799.3,823.6 L800.1,824.3 L800.8,824.9 L801.7,825.5 L802.6,825.8 L803.6,825.8 L804.5,825.5 L805.4,825.1 L806.2,824.4 L806.9,823.8 L807.6,823.1 L808.3,822.3 L809.0,821.6 L809.6,820.8 L810.3,820.0 L810.9,819.2 L811.4,818.4 L812.0,817.6 L812.5,816.7 L813.0,815.8 L813.4,815.0 L813.9,814.1 L814.4,813.2 L814.8,812.3 L815.3,811.4 L815.7,810.5 L816.2,809.6 L816.6,808.7 L817.1,807.8 L817.5,806.9 L817.9,806.0 L818.4,805.1 L818.8,804.2 L819.2,803.3 L819.6,802.4 L820.0,801.5 L820.4,800.6 L820.8,799.7 L821.2,798.7 L821.6,797.8 L822.0,796.9 L822.4,796.0 L822.9,795.1 L823.3,794.2 L823.7,793.2 L824.1,792.3 L824.5,791.4 L824.9,790.5 L825.3,789.6 L825.7,788.7 L826.1,787.8 L826.5,786.8 L826.9,785.9 L827.3,785.0 L827.7,784.1 L828.2,783.2 L828.6,782.3 L829.0,781.4 L829.4,780.5 L829.8,779.6 L830.3,778.7 L830.7,777.8 L831.1,776.9 L831.5,775.9 L831.9,775.0 L832.4,774.1 L832.8,773.2 L833.2,772.3 L833.6,771.4 L834.0,770.5 L834.5,769.6 L834.9,768.7 L835.3,767.8 L835.7,766.9 L836.1,766.0 L836.6,765.1 L837.0,764.1 L837.4,763.2 L837.8,762.3 L838.2,761.4 L838.7,760.5 L839.1,759.6 L839.5,758.7 L839.6,757.7 L839.7,756.7 L839.8,755.7 L839.9,754.7 L840.0,753.7 L840.1,752.7 L840.2,751.7 L840.3,750.7 L840.4,749.7 L840.5,748.7 L840.6,747.7 L840.7,746.8 L840.8,745.8 L841.0,744.8 L841.1,743.8 L841.2,742.8 L841.3,741.8 L841.4,740.8 L841.5,739.8 L841.6,738.8 L841.7,737.8 L841.8,736.8 L841.9,735.8 L842.1,734.8 L842.2,733.8 L842.3,732.8 L842.4,731.8 L842.5,730.8 L842.6,729.8 L842.7,728.8 L842.9,727.8 L843.0,726.9 L843.1,725.9 L843.2,724.9 L843.3,723.9 L843.4,722.9 L843.6,721.9 L843.7,720.9 L843.8,719.9 L843.9,718.9 L844.0,717.9 L844.2,716.9 L844.3,715.9 L844.4,714.9 L844.5,713.9 L844.6,712.9 L844.8,711.9 L844.9,710.9 L845.0,710.0 L845.1,709.0 L845.3,708.0 L845.4,707.0 L845.5,706.0 L845.7,705.0 L845.8,704.0 L845.9,703.0 L846.0,702.0 L846.2,701.0 L846.3,700.0 L846.4,699.0 L846.6,698.0 L846.7,697.0 L846.8,696.1 L847.0,695.1 L847.1,694.1 L847.2,693.1 L847.4,692.1 L847.5,691.1 L847.6,690.1 L847.8,689.1 L847.9,688.1 L848.0,687.1 L848.2,686.1 L848.3,685.1 L848.5,684.2 L848.6,683.2 L848.7,682.2 L848.9,681.2 L849.0,680.2 L849.2,679.2 L849.3,678.2 L849.5,677.2 L849.6,676.2 L849.7,675.2 L849.9,674.2 L850.0,673.3 L850.2,672.3 L850.3,671.3 L850.5,670.3 L850.6,669.3 L850.8,668.3 L850.9,667.3 L851.1,666.3 L851.2,665.3 L851.4,664.3 L851.5,663.4 L851.7,662.4 L851.8,661.4 L852.0,660.4 L852.1,659.4 L852.3,658.4 L852.5,657.4 L852.6,656.4 L852.8,655.4 L852.9,654.5 L853.1,653.5 L853.2,652.5 L853.4,651.5 L853.6,650.5 L853.7,649.5 L853.9,648.5 L854.1,647.5 L854.2,646.5 L854.4,645.6 L854.5,644.6 L854.7,643.6 L854.9,642.6 L855.0,641.6 L855.2,640.6 L855.4,639.6 L855.5,638.6 L855.7,637.7 L855.9,636.7 L856.1,635.7 L856.2,634.7 L856.4,633.7 L856.6,632.7 L856.7,631.7 L856.9,630.8 L857.1,629.8 L857.3,628.8 L857.4,627.8 L857.6,626.8 L857.8,625.8 L858.0,624.8 L858.1,623.9 L858.3,622.9 L858.5,621.9 L858.7,620.9 L858.9,619.9 L859.0,618.9 L859.2,617.9 L859.4,617.0 L859.6,616.0 L859.8,615.0 L860.0,614.0 L860.2,613.0 L860.3,612.0 L860.5,611.1 L860.7,610.1 L860.9,609.1 L861.1,608.1 L861.3,607.1 L861.5,606.1 L861.7,605.2 L861.9,604.2 L862.1,603.2 L862.3,602.2 L862.4,601.2 L862.6,600.3 L862.8,599.3 L863.0,598.3 L863.2,597.3 L863.4,596.3 L863.6,595.3 L863.8,594.4 L864.0,593.4 L864.2,592.4 L864.4,591.4 L864.6,590.4 L864.8,589.5 L865.0,588.5 L865.3,587.5 L865.5,586.5 L865.7,585.5 L865.9,584.6 L866.1,583.6 L866.3,582.6 L866.5,581.6 L866.7,580.6 L866.9,579.7 L867.1,578.7 L867.3,577.7 L867.6,576.7 L867.8,575.8 L868.0,574.8 L868.2,573.8 L868.4,572.8 L868.6,571.8 L868.9,570.9 L869.1,569.9 L869.3,568.9 L869.5,567.9 L869.7,567.0 L870.0,566.0 L870.2,565.0 L870.4,564.0 L870.6,563.1 L870.9,562.1 L871.1,561.1 L871.3,560.1 L871.5,559.2 L871.8,558.2 L872.0,557.2 L872.2,556.2 L872.5,555.3 L872.7,554.3 L872.9,553.3 L873.2,552.3 L873.4,551.4 L873.6,550.4 L873.9,549.4 L874.1,548.4 L874.3,547.5 L874.6,546.5 L874.8,545.5 L875.1,544.6 L875.3,543.6 L875.5,542.6 L875.8,541.6 L876.0,540.7 L876.3,539.7 L876.5,538.7 L876.8,537.8 L877.0,536.8 L877.3,535.8 L877.5,534.9 L877.8,533.9 L878.0,532.9 L878.3,531.9 L878.5,531.0 L878.8,530.0 L879.0,529.0 L879.3,528.1 L879.5,527.1 L879.8,526.1 L880.0,525.2 L880.3,524.2 L880.6,523.2 L880.8,522.3 L881.1,521.3 L881.3,520.3 L881.6,519.4 L881.9,518.4 L882.1,517.4 L882.4,516.5 L882.7,515.5 L882.9,514.5 L883.2,513.6 L883.5,512.6 L883.7,511.6 L884.0,510.7 L884.3,509.7 L884.6,508.8 L884.8,507.8 L885.1,506.8 L885.4,505.9 L885.7,504.9 L885.9,503.9 L886.2,503.0 L886.5,502.0 L886.8,501.1 L887.1,500.1 L887.3,499.1 L887.6,498.2 L887.9,497.2 L888.2,496.3 L888.5,495.3 L888.8,494.3 L889.0,493.4 L889.3,492.4 L889.6,491.5 L889.9,490.5 L890.2,489.5 L890.5,488.6 L890.8,487.6 L891.1,486.7 L891.4,485.7 L891.7,484.8 L892.0,483.8 L892.3,482.8 L892.6,481.9 L892.9,480.9 L893.2,480.0 L893.5,479.0 L893.8,478.1 L894.1,477.1 L894.4,476.2 L894.7,475.2 L895.0,474.2 L895.3,473.3 L895.6,472.3 L895.9,471.4 L896.3,470.5 L896.6,469.5 L897.0,468.6 L897.4,467.7 L897.9,466.8 L898.3,465.9 L898.8,465.1 L899.3,464.2 L899.8,463.3 L900.3,462.5 L900.8,461.6 L901.3,460.7 L901.8,459.9 L902.3,459.0 L902.9,458.2 L903.5,457.4 L904.1,456.6 L904.7,455.8 L905.5,455.1 L906.2,454.5 L907.1,453.9 L907.9,453.4 L908.8,452.9 L909.7,452.5 L910.7,452.2 L911.6,452.0 L912.6,452.0 L913.6,452.2 L914.5,452.6 L915.4,453.1 L916.1,453.7 L916.8,454.4 L917.5,455.2 L918.2,456.0 L918.8,456.7 L919.4,457.5 L919.9,458.4 L920.4,459.2 L920.9,460.1 L921.4,461.0 L921.8,461.9 L922.2,462.8 L922.6,463.8 L923.0,464.7 L923.4,465.6 L923.8,466.5 L924.2,467.4 L924.6,468.4 L925.0,469.3 L925.4,470.2 L925.8,471.1 L926.3,472.0 L926.7,472.9 L927.2,473.8 L927.6,474.6 L928.1,475.5 L928.6,476.4 L929.0,477.3 L929.5,478.2 L929.9,479.1 L930.4,480.0 L930.9,480.9 L931.3,481.8 L931.8,482.7 L932.2,483.6 L932.7,484.5 L933.1,485.3 L933.6,486.2 L934.0,487.1 L934.4,488.0 L934.9,488.9 L935.3,489.8 L935.7,490.8 L936.1,491.7 L936.6,492.6 L937.0,493.5 L937.4,494.4 L937.8,495.3 L938.1,496.3 L938.5,497.2 L938.9,498.1 L939.3,499.0 L939.7,500.0 L940.0,500.9 L940.4,501.8 L940.8,502.8 L941.1,503.7 L941.5,504.6 L941.9,505.5 L942.2,506.5 L942.6,507.4 L943.0,508.3 L943.3,509.3 L943.7,510.2 L944.1,511.1 L944.4,512.1 L944.8,513.0 L945.0,510.8 L945.2,508.6 L945.5,506.4 L945.7,504.2 L945.9,502.0 L946.1,499.7 L946.3,497.4 L946.5,495.0 L946.7,492.1 L946.9,489.1 L947.1,486.0 L947.3,482.9 L947.4,479.7 L947.6,476.5 L947.8,473.3 L948.0,470.0 L948.2,466.3 L948.5,462.5 L948.7,458.5 L949.0,454.6 L949.2,450.7 L949.5,446.9 L949.7,443.3 L950.0,440.0 L950.2,437.7 L950.3,435.4 L950.4,433.2 L950.5,431.0 L950.6,429.0 L950.8,427.2 L951.1,425.5 L951.5,424.0 L951.8,423.3 L952.1,422.6 L952.5,422.1 L952.9,421.5 L953.2,421.0 L953.6,420.5 L954.0,420.0 L954.4,419.5 L954.8,420.4 L955.2,421.3 L955.6,422.2 L956.0,423.2 L956.4,424.1 L956.8,425.0 L957.2,425.9 L957.6,426.8 L957.9,427.8 L958.3,428.7 L958.6,429.7 L958.9,430.6 L959.2,431.6 L959.5,432.5 L959.8,433.5 L960.1,434.4 L960.4,435.4 L960.7,436.3 L961.0,437.3 L961.2,438.3 L961.5,439.2 L961.7,440.2 L962.0,441.2 L962.2,442.1 L962.5,443.1 L962.7,444.1 L963.0,445.1 L963.2,446.0 L963.4,447.0 L963.6,448.0 L963.9,449.0 L964.1,449.9 L964.3,450.9 L964.5,451.9 L964.7,452.9 L964.9,453.8 L965.2,454.8 L965.4,455.8 L965.6,456.8 L965.8,457.7 L966.0,458.7 L966.2,459.7 L966.4,460.7 L966.6,461.7 L966.8,462.6 L967.0,463.6 L967.2,464.6 L967.3,465.6 L967.5,466.6 L967.7,467.6 L967.9,468.5 L968.1,469.5 L968.3,470.5 L968.5,471.5 L968.6,472.5 L968.8,473.5 L969.0,474.4 L969.2,475.4 L969.3,476.4 L969.5,477.4 L969.7,478.4 L969.8,479.4 L970.0,480.4 L970.2,481.3 L970.3,482.3 L970.5,483.3 L970.6,484.3 L970.8,485.3 L971.0,486.3 L971.1,487.3 L971.3,488.3 L971.4,489.2 L971.6,490.2 L971.7,491.2 L971.9,492.2 L972.0,493.2 L972.2,494.2 L972.3,495.2 L972.5,496.2 L972.6,497.2 L972.8,498.1 L972.9,499.1 L973.1,500.1 L973.2,501.1 L973.4,502.1 L973.5,503.1 L973.7,504.1 L973.8,505.1 L974.0,506.1 L974.1,507.0 L974.3,508.0 L974.4,509.0 L974.6,510.0 L974.7,511.0 L974.9,512.0 L975.0,513.0 L975.2,514.0 L975.3,515.0 L975.5,515.9 L975.6,516.9 L975.7,517.9 L975.9,518.9 L976.0,519.9 L976.1,520.9 L976.3,521.9 L976.4,522.9 L976.5,523.9 L976.6,524.9 L976.8,525.9 L976.9,526.9 L977.0,527.8 L977.2,528.8 L977.3,529.8 L977.4,530.8 L977.5,531.8 L977.7,532.8 L977.8,533.8 L977.9,534.8 L978.1,535.8 L978.2,536.8 L978.3,537.8 L978.4,538.8 L978.6,539.7 L978.7,540.7 L978.8,541.7 L979.0,542.7 L979.1,543.7 L979.2,544.7 L979.3,545.7 L979.5,546.7 L979.6,547.7 L979.7,548.7 L979.8,549.7 L980.0,550.7 L980.1,551.7 L980.2,552.6 L980.4,553.6 L980.5,554.6 L980.6,555.6 L980.7,556.6 L980.9,557.6 L981.0,558.6 L981.1,559.6 L981.2,560.6 L981.4,561.6 L981.5,562.6 L981.6,563.6 L981.8,564.5 L981.9,565.5 L982.0,566.5 L982.1,567.5 L982.3,568.5 L982.4,569.5 L982.5,570.5 L982.6,571.5 L982.8,572.5 L982.9,573.5 L983.0,574.5 L983.1,575.5 L983.3,576.5 L983.4,577.4 L983.5,578.4 L983.7,579.4 L983.8,580.4 L983.9,581.4 L984.0,582.4 L984.2,583.4 L984.3,584.4 L984.4,585.4 L984.5,586.4 L984.7,587.4 L984.8,588.4 L984.9,589.4 L985.0,590.3 L985.2,591.3 L985.3,592.3 L985.4,593.3 L985.5,594.3 L985.7,595.3 L985.8,596.3 L985.9,597.3 L986.0,598.3 L986.1,599.3 L986.3,600.3 L986.4,601.3 L986.5,602.3 L986.6,603.2 L986.8,604.2 L986.9,605.2 L987.0,606.2 L987.1,607.2 L987.3,608.2 L987.4,609.2 L987.5,610.2 L987.6,611.2 L987.8,612.2 L987.9,613.2 L988.0,614.2 L988.1,615.2 L988.2,616.2 L988.4,617.1 L988.5,618.1 L988.6,619.1 L988.7,620.1 L988.8,621.1 L989.0,622.1 L989.1,623.1 L989.2,624.1 L989.3,625.1 L989.5,626.1 L989.6,627.1 L989.7,628.1 L989.8,629.1 L989.9,630.0 L990.1,631.0 L990.2,632.0 L990.3,633.0 L990.4,634.0 L990.5,635.0 L990.7,636.0 L990.8,637.0 L990.9,638.0 L991.0,639.0 L991.1,640.0 L991.3,641.0 L991.4,642.0 L991.5,643.0 L991.6,644.0 L991.7,644.9 L991.8,645.9 L992.0,646.9 L992.1,647.9 L992.2,648.9 L992.3,649.9 L992.4,650.9 L992.5,651.9 L992.7,652.9 L992.8,653.9 L992.9,654.9 L993.0,655.9 L993.1,656.9 L993.2,657.9 L993.4,658.9 L993.5,659.8 L993.6,660.8 L993.7,661.8 L993.8,662.8 L993.9,663.8 L994.1,664.8 L994.2,665.8 L994.3,666.8 L994.4,667.8 L994.5,668.8 L994.6,669.8 L994.7,670.8 L994.9,671.8 L995.0,672.8 L995.1,673.8 L995.2,674.7 L995.3,675.7 L995.4,676.7 L995.5,677.7 L995.6,678.7 L995.8,679.7 L995.9,680.7 L996.0,681.7 L996.1,682.7 L996.2,683.7 L996.3,684.7 L996.4,685.7 L996.5,686.7 L996.6,687.7 L996.8,688.7 L996.9,689.7 L997.0,690.7 L997.1,691.6 L997.2,692.6 L997.3,693.6 L997.4,694.6 L997.5,695.6 L997.6,696.6 L997.7,697.6 L997.8,698.6 L998.0,699.6 L998.1,700.6 L998.2,701.6 L998.3,702.6 L998.4,703.6 L998.5,704.6 L998.6,705.6 L998.7,706.6 L998.8,707.6 L998.9,708.5 L999.0,709.5 L999.1,710.5 L999.2,711.5 L999.3,712.5 L999.4,713.5 L999.5,714.5 L999.6,715.5 L999.8,716.5 L999.9,717.5 L1000.0,718.5 L1000.1,719.5 L1000.2,720.5 L1000.3,721.5 L1000.4,722.5 L1000.5,723.5 L1000.6,724.5 L1000.7,725.5 L1000.8,726.5 L1000.9,727.4 L1001.0,728.4 L1001.1,729.4 L1001.2,730.4 L1001.3,731.4 L1001.4,732.4 L1001.5,733.4 L1001.6,734.4 L1001.7,735.4 L1001.8,736.4 L1001.9,737.4 L1002.0,738.4 L1002.1,739.4 L1002.2,740.4 L1002.3,741.4 L1002.4,742.4 L1002.5,743.4 L1002.6,744.4 L1002.7,745.4 L1002.8,746.4 L1002.9,747.4 L1002.9,748.4 L1003.0,749.3 L1003.1,750.3 L1003.2,751.3 L1003.3,752.3 L1003.4,753.3 L1003.5,754.3 L1003.6,755.3 L1003.7,756.3 L1003.8,757.3 L1003.9,758.3 L1004.0,759.3 L1004.1,760.3 L1004.2,761.3 L1004.3,762.3 L1004.3,763.3 L1004.4,764.3 L1004.5,765.3 L1004.6,766.3 L1004.7,767.3 L1004.8,768.3 L1004.9,769.3 L1005.0,770.3 L1005.1,771.3 L1005.2,772.3 L1005.2,773.2 L1005.3,774.2 L1005.4,775.2 L1005.5,776.2 L1005.6,777.2 L1005.7,778.2 L1005.8,779.2 L1005.9,780.2 L1005.9,781.2 L1006.0,782.2 L1006.1,783.2 L1006.2,784.2 L1006.3,785.2 L1006.4,786.2 L1006.5,787.2 L1006.5,788.2 L1006.6,789.2 L1006.7,790.2 L1006.8,791.2 L1006.9,792.2 L1007.0,793.2 L1007.0,794.2 L1007.1,795.2 L1007.2,796.2 L1007.3,797.2 L1007.4,798.2 L1007.4,799.2 L1007.5,800.2 L1007.6,801.2 L1007.7,802.2 L1007.8,803.1 L1007.8,804.1 L1007.9,805.1 L1008.0,806.1 L1008.1,807.1 L1008.1,808.1 L1008.2,809.1 L1008.3,810.1 L1008.4,811.1 L1008.5,812.1 L1008.5,813.1 L1008.6,814.1 L1008.7,815.1 L1008.8,816.1 L1008.8,817.1 L1008.9,818.1 L1009.0,819.1 L1009.0,820.1 L1009.1,821.1 L1009.2,822.1 L1009.3,823.1 L1009.3,824.1 L1009.4,825.1 L1009.5,826.1 L1009.5,827.1 L1009.6,828.1 L1009.7,829.1 L1009.8,830.1 L1009.8,831.1 L1009.9,832.1 L1010.0,833.1 L1010.0,834.1 L1010.1,835.1 L1010.2,836.1 L1010.2,837.1 L1010.3,838.1 L1010.4,839.1 L1010.4,840.1 L1010.5,841.1 L1010.6,842.1 L1010.6,843.1 L1010.7,844.0 L1010.7,845.0 L1010.8,846.0 L1010.9,847.0 L1010.9,848.0 L1011.0,849.0 L1011.1,850.0 L1011.1,851.0 L1011.2,852.0 L1011.2,853.0 L1011.3,854.0 L1011.4,855.0 L1011.4,856.0 L1011.5,857.0 L1011.5,858.0 L1011.6,859.0 L1011.7,860.0 L1011.7,861.0 L1011.8,862.0 L1011.8,863.0 L1011.9,864.0 L1011.9,865.0 L1012.0,866.0 L1012.1,867.0 L1012.1,868.0 L1012.2,869.0 L1012.2,870.0 L1012.3,871.0 L1012.3,872.0 L1012.4,873.0 L1012.4,874.0 L1012.5,875.0 L1012.6,876.0 L1012.6,877.0 L1012.7,878.0 L1012.7,879.0 L1012.8,880.0 L1012.8,881.0 L1012.9,882.0 L1012.9,883.0 L1013.0,884.0 L1013.0,885.0 L1013.1,886.0 L1013.1,887.0 L1013.2,888.0 L1013.2,889.0 L1013.3,890.0 L1013.3,891.0 L1013.4,892.0 L1013.4,893.0 L1013.5,894.0 L1013.6,895.0 L1013.6,896.0 L1013.7,897.0 L1013.7,898.0 L1013.8,899.0 L1013.8,900.0 L1013.9,901.0 L1013.9,902.0 L1014.0,903.0 L1014.0,904.0 L1014.1,905.0 L1014.1,906.0 L1014.2,907.0 L1014.2,908.0 L1014.3,909.0 L1014.3,910.0 L1014.4,911.0 L1014.4,912.0 L1014.5,913.0 L1014.5,914.0 L1014.6,915.0 L1014.6,916.0 L1014.6,917.0 L1014.7,918.0 L1014.7,918.9 L1014.8,919.9 L1014.8,920.9 L1014.9,921.9 L1014.9,922.9 L1015.0,923.9 L1015.0,924.9 L1015.1,925.9 L1015.1,926.9 L1015.2,927.9 L1015.2,928.9 L1015.3,929.9 L1015.3,930.9 L1015.4,931.9 L1015.4,932.9 L1015.5,933.9 L1015.5,934.9 L1015.6,935.9 L1015.6,936.9 L1015.7,937.9 L1015.7,938.9 L1015.8,939.9 L1015.8,940.9 L1015.9,941.9 L1015.9,942.9 L1016.0,943.9 L1016.0,944.9 L1016.1,945.9 L1016.1,946.9 L1016.2,947.9 L1016.2,948.9 L1016.3,949.9 L1016.3,950.9 L1016.4,951.9 L1016.4,952.9 L1016.5,953.9 L1016.5,954.9 L1016.6,955.9 L1016.6,956.9 L1016.7,957.9 L1016.8,958.9 L1016.8,959.9 L1016.9,960.9 L1016.9,961.9 L1017.0,962.9 L1017.0,963.9 L1017.1,964.9 L1017.1,965.9 L1017.2,966.9 L1017.2,967.9 L1017.3,968.9 L1017.3,969.9 L1017.4,970.9 L1017.4,971.9 L1017.5,972.9 L1017.6,973.9 L1017.6,974.9 L1017.7,975.9 L1017.7,976.9 L1017.8,977.9 L1017.8,978.9 L1017.9,979.9 L1018.0,980.9 L1018.0,981.9 L1018.1,982.9 L1018.1,983.9 L1018.2,984.9 L1018.2,985.9 L1018.3,986.9 L1018.4,987.9 L1018.4,988.9 L1018.5,989.9 L1018.5,990.9 L1018.6,991.9 L1018.7,992.9 L1018.7,993.9 L1018.8,994.9 L1018.8,995.9 L1018.9,996.8 L1019.0,997.8 L1019.0,998.8 L1019.1,999.8 L1019.2,1000.8 L1019.2,1001.8 L1019.3,1002.8 L1019.4,1003.8 L1019.4,1004.8 L1019.5,1005.8 L1019.5,1006.8 L1019.6,1007.8 L1019.7,1008.8 L1019.7,1009.8 L1019.8,1010.8 L1019.9,1011.8 L1020.0,1012.8 L1020.0,1013.8 L1020.1,1014.8 L1020.2,1015.8 L1020.2,1016.8 L1020.3,1017.8 L1020.4,1018.8 L1020.4,1019.8 L1020.5,1020.8 L1020.6,1021.8 L1020.7,1022.8 L1020.7,1023.8 L1020.8,1024.8 L1020.9,1025.8 L1021.0,1026.8 L1021.0,1027.8 L1021.1,1028.8 L1021.2,1029.8 L1021.3,1030.8 L1021.3,1031.8 L1021.4,1032.8 L1021.5,1033.8 L1021.6,1034.8 L1021.6,1035.8 L1021.7,1036.8 L1021.8,1037.8 L1021.9,1038.7 L1022.0,1039.7 L1022.1,1040.7 L1022.1,1041.7 L1022.2,1042.7 L1022.3,1043.7 L1022.4,1044.7 L1022.5,1045.7 L1022.6,1046.7 L1022.6,1047.7 L1022.7,1048.7 L1022.8,1049.7 L1022.9,1050.7 L1023.0,1051.7 L1023.1,1052.7 L1023.2,1053.7 L1023.3,1054.7 L1023.4,1055.7 L1023.4,1056.7 L1023.5,1057.7 L1023.6,1058.7 L1023.7,1059.7 L1023.8,1060.7 L1023.9,1061.7 L1024.0,1062.7 L1024.1,1063.7 L1024.2,1064.7 L1024.3,1065.6 L1024.4,1066.6 L1024.5,1067.6 L1024.6,1068.6 L1024.7,1069.6 L1024.8,1070.6 L1024.9,1071.6 L1025.0,1072.6 L1025.1,1073.6 L1025.2,1074.6 L1025.3,1075.6 L1025.4,1076.6 L1025.5,1077.6 L1025.6,1078.6 L1025.7,1079.6 L1025.8,1080.6 L1025.9,1081.6 L1026.1,1082.6 L1026.2,1083.6 L1026.3,1084.5 L1026.4,1085.5 L1026.5,1086.5 L1026.6,1087.5 L1026.7,1088.5 L1026.8,1089.5 L1027.0,1090.5 L1027.1,1091.5 L1027.2,1092.5 L1027.3,1093.5 L1027.4,1094.5 L1027.5,1095.5 L1027.7,1096.5 L1027.8,1097.5 L1027.9,1098.5 L1028.0,1099.4 L1028.2,1100.4 L1028.3,1101.4 L1028.4,1102.4 L1028.5,1103.4 L1028.7,1104.4 L1028.8,1105.4 L1028.9,1106.4 L1029.0,1107.4 L1029.2,1108.4 L1029.3,1109.4 L1029.4,1110.4 L1029.6,1111.3 L1029.7,1112.3 L1029.9,1113.3 L1030.1,1114.3 L1030.2,1115.3 L1030.4,1116.3 L1030.6,1117.3 L1030.8,1118.2 L1031.0,1119.2 L1031.2,1120.2 L1031.4,1121.2 L1031.6,1122.1 L1031.8,1123.1 L1032.0,1124.1 L1032.3,1125.1 L1032.5,1126.1 L1032.7,1127.0 L1032.9,1128.0 L1033.2,1129.0 L1033.4,1130.0 L1033.6,1130.9 L1033.9,1131.9 L1034.2,1132.9 L1034.4,1133.8 L1034.7,1134.8 L1035.0,1135.7 L1035.3,1136.7 L1035.6,1137.6 L1035.9,1138.6 L1036.2,1139.5 L1036.5,1140.5 L1036.8,1141.5 L1037.1,1142.4 L1037.5,1143.3 L1037.8,1144.3 L1038.2,1145.2 L1038.6,1146.1 L1039.0,1147.0 L1039.5,1147.9 L1040.0,1148.8 L1040.5,1149.6 L1041.0,1150.5 L1041.6,1151.3 L1042.3,1152.1 L1042.9,1152.8 L1043.6,1153.6 L1044.4,1154.2 L1045.3,1154.6 L1046.2,1154.4 L1047.0,1153.8 L1047.8,1153.1 L1048.5,1152.4 L1049.1,1151.7 L1049.8,1150.9 L1050.5,1150.2 L1051.1,1149.4 L1051.7,1148.6 L1052.3,1147.8 L1052.8,1146.9 L1053.2,1146.0 L1053.6,1145.1 L1054.0,1144.2 L1054.2,1143.2 L1054.5,1142.2 L1054.7,1141.2 L1054.8,1140.3 L1055.0,1139.3 L1055.1,1138.3 L1055.3,1137.3 L1055.4,1136.3 L1055.6,1135.3 L1055.7,1134.3 L1055.8,1133.3 L1055.9,1132.3 L1056.0,1131.3 L1056.1,1130.3 L1056.2,1129.3 L1056.2,1128.3 L1056.3,1127.3 L1056.4,1126.3 L1056.4,1125.3 L1056.5,1124.4 L1056.6,1123.4 L1056.6,1122.4 L1056.7,1121.4 L1056.7,1120.4 L1056.8,1119.4 L1056.9,1118.4 L1056.9,1117.4 L1057.0,1116.4 L1057.0,1115.4 L1057.1,1114.4 L1057.1,1113.4 L1057.2,1112.4 L1057.2,1111.4 L1057.3,1110.4 L1057.3,1109.4 L1057.3,1108.4 L1057.4,1107.4 L1057.4,1106.4 L1057.4,1105.4 L1057.5,1104.4 L1057.5,1103.4 L1057.6,1102.4 L1057.6,1101.4 L1057.6,1100.4 L1057.7,1099.4 L1057.7,1098.4 L1057.7,1097.4 L1057.8,1096.4 L1057.8,1095.4 L1057.9,1094.4 L1057.9,1093.4 L1057.9,1092.4 L1058.0,1091.4 L1058.0,1090.4 L1058.1,1089.4 L1058.1,1088.4 L1058.1,1087.4 L1058.2,1086.4 L1058.2,1085.4 L1058.3,1084.4 L1058.3,1083.4 L1058.3,1082.4 L1058.4,1081.4 L1058.4,1080.4 L1058.5,1079.4 L1058.5,1078.4 L1058.5,1077.4 L1058.6,1076.4 L1058.6,1075.4 L1058.7,1074.4 L1058.7,1073.4 L1058.7,1072.4 L1058.8,1071.4 L1058.8,1070.4 L1058.9,1069.4 L1058.9,1068.4 L1059.0,1067.4 L1059.0,1066.4 L1059.0,1065.4 L1059.1,1064.4 L1059.1,1063.4 L1059.2,1062.4 L1059.2,1061.4 L1059.2,1060.4 L1059.3,1059.4 L1059.3,1058.4 L1059.4,1057.4 L1059.4,1056.4 L1059.5,1055.4 L1059.5,1054.4 L1059.5,1053.4 L1059.6,1052.4 L1059.6,1051.4 L1059.7,1050.4 L1059.7,1049.4 L1059.8,1048.4 L1059.8,1047.4 L1059.9,1046.4 L1059.9,1045.4 L1059.9,1044.4 L1060.0,1043.4 L1060.0,1042.4 L1060.1,1041.4 L1060.1,1040.4 L1060.2,1039.4 L1060.2,1038.4 L1060.2,1037.4 L1060.3,1036.4 L1060.3,1035.4 L1060.4,1034.4 L1060.4,1033.4 L1060.5,1032.4 L1060.5,1031.4 L1060.6,1030.4 L1060.6,1029.4 L1060.7,1028.4 L1060.7,1027.4 L1060.7,1026.4 L1060.8,1025.4 L1060.8,1024.4 L1060.9,1023.4 L1060.9,1022.4 L1061.0,1021.4 L1061.0,1020.4 L1061.1,1019.4 L1061.1,1018.4 L1061.2,1017.4 L1061.2,1016.4 L1061.3,1015.4 L1061.3,1014.4 L1061.4,1013.4 L1061.4,1012.4 L1061.4,1011.4 L1061.5,1010.4 L1061.5,1009.4 L1061.6,1008.4 L1061.6,1007.4 L1061.7,1006.4 L1061.7,1005.4 L1061.8,1004.4 L1061.8,1003.5 L1061.9,1002.5 L1061.9,1001.5 L1062.0,1000.5 L1062.0,999.5 L1062.1,998.5 L1062.1,997.5 L1062.2,996.5 L1062.2,995.5 L1062.3,994.5 L1062.3,993.5 L1062.4,992.5 L1062.4,991.5 L1062.5,990.5 L1062.5,989.5 L1062.6,988.5 L1062.6,987.5 L1062.7,986.5 L1062.7,985.5 L1062.8,984.5 L1062.8,983.5 L1062.9,982.5 L1062.9,981.5 L1063.0,980.5 L1063.0,979.5 L1063.1,978.5 L1063.1,977.5 L1063.2,976.5 L1063.2,975.5 L1063.3,974.5 L1063.3,973.5 L1063.4,972.5 L1063.4,971.5 L1063.5,970.5 L1063.5,969.5 L1063.6,968.5 L1063.6,967.5 L1063.7,966.5 L1063.7,965.5 L1063.8,964.5 L1063.8,963.5 L1063.9,962.5 L1063.9,961.5 L1064.0,960.5 L1064.1,959.5 L1064.1,958.5 L1064.2,957.5 L1064.2,956.5 L1064.3,955.5 L1064.3,954.5 L1064.4,953.5 L1064.4,952.5 L1064.5,951.5 L1064.5,950.5 L1064.6,949.5 L1064.6,948.5 L1064.7,947.5 L1064.8,946.5 L1064.8,945.5 L1064.9,944.5 L1064.9,943.5 L1065.0,942.5 L1065.0,941.5 L1065.1,940.5 L1065.1,939.5 L1065.2,938.5 L1065.2,937.5 L1065.3,936.5 L1065.4,935.5 L1065.4,934.5 L1065.5,933.5 L1065.5,932.5 L1065.6,931.5 L1065.6,930.5 L1065.7,929.5 L1065.7,928.5 L1065.8,927.5 L1065.9,926.5 L1065.9,925.5 L1066.0,924.5 L1066.0,923.5 L1066.1,922.6 L1066.1,921.6 L1066.2,920.6 L1066.3,919.6 L1066.3,918.6 L1066.4,917.6 L1066.4,916.6 L1066.5,915.6 L1066.5,914.6 L1066.6,913.6 L1066.7,912.6 L1066.7,911.6 L1066.8,910.6 L1066.8,909.6 L1066.9,908.6 L1067.0,907.6 L1067.0,906.6 L1067.1,905.6 L1067.1,904.6 L1067.2,903.6 L1067.3,902.6 L1067.3,901.6 L1067.4,900.6 L1067.4,899.6 L1067.5,898.6 L1067.5,897.6 L1067.6,896.6 L1067.7,895.6 L1067.7,894.6 L1067.8,893.6 L1067.8,892.6 L1067.9,891.6 L1068.0,890.6 L1068.0,889.6 L1068.1,888.6 L1068.2,887.6 L1068.2,886.6 L1068.3,885.6 L1068.3,884.6 L1068.4,883.6 L1068.5,882.6 L1068.5,881.6 L1068.6,880.6 L1068.6,879.6 L1068.7,878.6 L1068.8,877.6 L1068.8,876.6 L1068.9,875.6 L1069.0,874.6 L1069.0,873.6 L1069.1,872.6 L1069.1,871.6 L1069.2,870.6 L1069.3,869.6 L1069.3,868.6 L1069.4,867.6 L1069.5,866.6 L1069.5,865.6 L1069.6,864.6 L1069.6,863.6 L1069.7,862.7 L1069.8,861.7 L1069.8,860.7 L1069.9,859.7 L1070.0,858.7 L1070.0,857.7 L1070.1,856.7 L1070.2,855.7 L1070.2,854.7 L1070.3,853.7 L1070.4,852.7 L1070.4,851.7 L1070.5,850.7 L1070.5,849.7 L1070.6,848.7 L1070.7,847.7 L1070.7,846.7 L1070.8,845.7 L1070.9,844.7 L1070.9,843.7 L1071.0,842.7 L1071.1,841.7 L1071.1,840.7 L1071.2,839.7 L1071.3,838.7 L1071.3,837.7 L1071.4,836.7 L1071.5,835.7 L1071.5,834.7 L1071.6,833.7 L1071.7,832.7 L1071.7,831.7 L1071.8,830.7 L1071.9,829.7 L1071.9,828.7 L1072.0,827.7 L1072.1,826.7 L1072.1,825.7 L1072.2,824.7 L1072.3,823.7 L1072.3,822.7 L1072.4,821.7 L1072.5,820.7 L1072.6,819.7 L1072.6,818.7 L1072.7,817.7 L1072.8,816.7 L1072.8,815.7 L1072.9,814.7 L1073.0,813.8 L1073.0,812.8 L1073.1,811.8 L1073.2,810.8 L1073.2,809.8 L1073.3,808.8 L1073.4,807.8 L1073.5,806.8 L1073.5,805.8 L1073.6,804.8 L1073.7,803.8 L1073.7,802.8 L1073.8,801.8 L1073.9,800.8 L1074.0,799.8 L1074.0,798.8 L1074.1,797.8 L1074.2,796.8 L1074.2,795.8 L1074.3,794.8 L1074.4,793.8 L1074.5,792.8 L1074.5,791.8 L1074.6,790.8 L1074.7,789.8 L1074.7,788.8 L1074.8,787.8 L1074.9,786.8 L1075.0,785.8 L1075.0,784.8 L1075.1,783.8 L1075.2,782.8 L1075.2,781.8 L1075.3,780.8 L1075.4,779.8 L1075.5,778.8 L1075.5,777.8 L1075.6,776.8 L1075.7,775.8 L1075.8,774.8 L1075.8,773.8 L1075.9,772.9 L1076.0,771.9 L1076.1,770.9 L1076.1,769.9 L1076.2,768.9 L1076.3,767.9 L1076.4,766.9 L1076.4,765.9 L1076.5,764.9 L1076.6,763.9 L1076.7,762.9 L1076.7,761.9 L1076.8,760.9 L1076.9,759.9 L1077.0,758.9 L1077.0,757.9 L1077.1,756.9 L1077.2,755.9 L1077.3,754.9 L1077.3,753.9 L1077.4,752.9 L1077.5,751.9 L1077.6,750.9 L1077.7,749.9 L1077.7,748.9 L1077.8,747.9 L1077.9,746.9 L1078.0,745.9 L1078.0,744.9 L1078.1,743.9 L1078.2,742.9 L1078.3,741.9 L1078.3,740.9 L1078.4,739.9 L1078.5,738.9 L1078.6,737.9 L1078.7,737.0 L1078.7,736.0 L1078.8,735.0 L1078.9,734.0 L1079.0,733.0 L1079.1,732.0 L1079.1,731.0 L1079.2,730.0 L1079.3,729.0 L1079.4,728.0 L1079.5,727.0 L1079.5,726.0 L1079.6,725.0 L1079.7,724.0 L1079.8,723.0 L1079.9,722.0 L1079.9,721.0 L1080.0,720.0 L1080.1,719.0 L1080.2,718.0 L1080.3,717.0 L1080.3,716.0 L1080.4,715.0 L1080.5,714.0 L1080.6,713.0 L1080.7,712.0 L1080.7,711.0 L1080.8,710.0 L1080.9,709.0 L1081.0,708.0 L1081.1,707.0 L1081.2,706.0 L1081.2,705.1 L1081.3,704.1 L1081.4,703.1 L1081.5,702.1 L1081.6,701.1 L1081.7,700.1 L1081.7,699.1 L1081.8,698.1 L1081.9,697.1 L1082.0,696.1 L1082.1,695.1 L1082.2,694.1 L1082.2,693.1 L1082.3,692.1 L1082.4,691.1 L1082.5,690.1 L1082.6,689.1 L1082.7,688.1 L1082.7,687.1 L1082.8,686.1 L1082.9,685.1 L1083.0,684.1 L1083.1,683.1 L1083.2,682.1 L1083.3,681.1 L1083.3,680.1 L1083.4,679.1 L1083.5,678.1 L1083.6,677.1 L1083.7,676.1 L1083.8,675.2 L1083.9,674.2 L1083.9,673.2 L1084.0,672.2 L1084.1,671.2 L1084.2,670.2 L1084.3,669.2 L1084.4,668.2 L1084.5,667.2 L1084.5,666.2 L1084.6,665.2 L1084.7,664.2 L1084.8,663.2 L1084.9,662.2 L1085.0,661.2 L1085.1,660.2 L1085.2,659.2 L1085.2,658.2 L1085.3,657.2 L1085.4,656.2 L1085.5,655.2 L1085.6,654.2 L1085.7,653.2 L1085.8,652.2 L1085.9,651.2 L1085.9,650.2 L1086.0,649.2 L1086.1,648.3 L1086.2,647.3 L1086.3,646.3 L1086.4,645.3 L1086.5,644.3 L1086.6,643.3 L1086.7,642.3 L1086.8,641.3 L1086.8,640.3 L1086.9,639.3 L1087.0,638.3 L1087.1,637.3 L1087.2,636.3 L1087.3,635.3 L1087.4,634.3 L1087.5,633.3 L1087.6,632.3 L1087.7,631.3 L1087.7,630.3 L1087.8,629.3 L1087.9,628.3 L1088.0,627.3 L1088.1,626.3 L1088.2,625.3 L1088.3,624.3 L1088.4,623.4 L1088.5,622.4 L1088.6,621.4 L1088.7,620.4 L1088.7,619.4 L1088.8,618.4 L1088.9,617.4 L1089.0,616.4 L1089.1,615.4 L1089.2,614.4 L1089.3,613.4 L1089.4,612.4 L1089.5,611.4 L1089.6,610.4 L1089.7,609.4 L1089.8,608.4 L1089.9,607.4 L1090.0,606.4 L1090.0,605.4 L1090.1,604.4 L1090.2,603.4 L1090.3,602.4 L1090.4,601.4 L1090.5,600.4 L1090.6,599.4 L1090.7,598.5 L1090.8,597.5 L1090.9,596.5 L1091.0,595.5 L1091.1,594.5 L1091.2,593.5 L1091.3,592.5 L1091.4,591.5 L1091.5,590.5 L1091.5,589.5 L1091.6,588.5 L1091.7,587.5 L1091.8,586.5 L1091.9,585.5 L1092.0,584.5 L1092.1,583.5 L1092.2,582.5 L1092.3,581.5 L1092.4,580.5 L1092.5,579.5 L1092.6,578.5 L1092.7,577.5 L1092.8,576.6 L1092.9,575.6 L1093.0,574.6 L1093.1,573.6 L1093.2,572.6 L1093.3,571.6 L1093.4,570.6 L1093.5,569.6 L1093.6,568.6 L1093.7,567.6 L1093.8,566.6 L1093.9,565.6 L1093.9,564.6 L1094.0,563.6 L1094.1,562.6 L1094.2,561.6 L1094.3,560.6 L1094.4,559.6 L1094.5,558.6 L1094.6,557.6 L1094.7,556.6 L1094.8,555.6 L1094.9,554.7 L1095.0,553.7 L1095.1,552.7 L1095.2,551.7 L1095.3,550.7 L1095.4,549.7 L1095.5,548.7 L1095.6,547.7 L1095.7,546.7 L1095.8,545.7 L1095.9,544.7 L1096.0,543.7 L1096.1,542.7 L1096.2,541.7 L1096.3,540.7 L1096.4,539.7 L1096.5,538.7 L1096.6,537.7 L1096.7,536.7 L1096.8,535.7 L1096.9,534.7 L1097.0,533.8 L1097.1,532.8 L1097.2,531.8 L1097.3,530.8 L1097.4,529.8 L1097.5,528.8 L1097.6,527.8 L1097.7,526.8 L1097.8,525.8 L1097.9,524.8 L1098.0,523.8 L1098.1,522.8 L1098.2,521.8 L1098.3,520.8 L1098.4,519.8 L1098.5,518.8 L1098.6,517.8 L1098.7,516.8 L1098.8,515.8 L1098.9,514.8 L1099.0,513.8 L1099.1,512.9 L1099.2,511.9 L1099.3,510.9 L1099.4,509.9 L1099.5,508.9 L1099.6,507.9 L1099.7,506.9 L1099.8,505.9 L1099.9,504.9 L1100.0,503.9 L1100.1,502.9 L1100.2,501.9 L1100.3,500.9 L1100.4,499.9 L1100.5,498.9 L1100.6,497.9 L1100.7,496.9 L1100.9,495.9 L1101.0,494.9 L1101.1,494.0 L1101.2,493.0 L1101.3,492.0 L1101.4,491.0 L1101.5,490.0 L1101.6,489.0 L1101.7,488.0 L1101.8,487.0 L1101.9,486.0 L1102.0,485.0 L1102.1,484.0 L1102.2,483.0 L1102.3,482.0 L1102.4,481.0 L1102.5,480.0 L1102.6,479.0 L1102.7,478.0 L1102.8,477.0 L1102.9,476.0 L1103.0,475.0 L1103.1,474.1 L1103.2,473.1 L1103.3,472.1 L1103.4,471.1 L1103.5,470.1 L1103.7,469.1 L1103.8,468.1 L1103.9,467.1 L1104.0,466.1 L1104.1,465.1 L1104.2,464.1 L1104.3,463.1 L1104.4,462.1 L1104.5,461.1 L1104.6,460.1 L1104.7,459.1 L1104.8,458.1 L1104.9,457.1 L1105.0,456.2 L1105.1,455.2 L1105.2,454.2 L1105.3,453.2 L1105.4,452.2 L1105.5,451.2 L1105.7,450.2 L1105.8,449.2 L1105.9,448.2 L1106.0,447.2 L1106.1,446.2 L1106.2,445.2 L1106.3,444.2 L1106.4,443.2 L1106.5,442.2 L1106.6,441.2 L1106.7,440.2 L1106.8,439.2 L1106.9,438.3 L1107.0,437.3 L1107.1,436.3 L1107.3,435.3 L1107.4,434.3 L1107.5,433.3 L1107.6,432.3 L1107.7,431.3 L1107.8,430.3 L1107.9,429.3 L1108.0,428.3 L1108.1,427.3 L1108.2,426.3 L1108.3,425.3 L1108.4,424.3 L1108.6,423.3 L1108.7,422.3 L1108.8,421.3 L1108.9,420.4 L1109.0,419.4 L1109.1,418.4 L1109.2,417.4 L1109.3,416.4 L1109.4,415.4 L1109.5,414.4 L1109.7,413.4 L1109.8,412.4 L1109.9,411.4 L1110.0,410.4 L1110.1,409.4 L1110.2,408.4 L1110.3,407.4 L1110.4,406.4 L1110.6,405.4 L1110.7,404.5 L1110.8,403.5 L1110.9,402.5 L1111.0,401.5 L1111.1,400.5 L1111.3,399.5 L1111.4,398.5 L1111.5,397.5 L1111.6,396.5 L1111.7,395.5 L1111.8,394.5 L1112.0,393.5 L1112.1,392.5 L1112.2,391.5 L1112.3,390.5 L1112.4,389.6 L1112.6,388.6 L1112.7,387.6 L1112.8,386.6 L1112.9,385.6 L1113.0,384.6 L1113.2,383.6 L1113.3,382.6 L1113.4,381.6 L1113.5,380.6 L1113.7,379.6 L1113.8,378.6 L1113.9,377.6 L1114.0,376.7 L1114.2,375.7 L1114.3,374.7 L1114.4,373.7 L1114.6,372.7 L1114.7,371.7 L1114.8,370.7 L1114.9,369.7 L1115.1,368.7 L1115.2,367.7 L1115.3,366.7 L1115.5,365.7 L1115.6,364.8 L1115.7,363.8 L1115.9,362.8 L1116.0,361.8 L1116.1,360.8 L1116.3,359.8 L1116.4,358.8 L1116.6,357.8 L1116.7,356.8 L1116.8,355.8 L1117.0,354.8 L1117.1,353.9 L1117.3,352.9 L1117.4,351.9 L1117.5,350.9 L1117.7,349.9 L1117.8,348.9 L1118.0,347.9 L1118.1,346.9 L1118.3,345.9 L1118.4,344.9 L1118.6,344.0 L1118.7,343.0 L1118.9,342.0 L1119.0,341.0 L1119.2,340.0 L1119.3,339.0 L1119.5,338.0 L1119.6,337.0 L1119.8,336.0 L1119.9,335.1 L1120.1,334.1 L1120.2,333.1 L1120.4,332.1 L1120.6,331.1 L1120.7,330.1 L1120.9,329.1 L1121.0,328.1 L1121.2,327.2 L1121.4,326.2 L1121.5,325.2 L1121.7,324.2 L1121.9,323.2 L1122.0,322.2 L1122.2,321.2 L1122.4,320.3 L1122.5,319.3 L1122.7,318.3 L1122.9,317.3 L1123.0,316.3 L1123.2,315.3 L1123.4,314.3 L1123.6,313.4 L1123.7,312.4 L1123.9,311.4 L1124.1,310.4 L1124.3,309.4 L1124.4,308.4 L1124.6,307.5 L1124.8,306.5 L1125.0,305.5 L1125.2,304.5 L1125.3,303.5 L1125.5,302.5 L1125.7,301.6 L1125.9,300.6 L1126.1,299.6 L1126.3,298.6 L1126.5,297.6 L1126.7,296.6 L1126.9,295.7 L1127.0,294.7 L1127.2,293.7 L1127.4,292.7 L1127.6,291.7 L1127.8,290.8 L1128.0,289.8 L1128.2,288.8 L1128.4,287.8 L1128.6,286.8 L1128.8,285.9 L1129.0,284.9 L1129.2,283.9 L1129.4,282.9 L1129.7,281.9 L1129.9,281.0 L1130.1,280.0 L1130.3,279.0 L1130.5,278.0 L1130.7,277.1 L1130.9,276.1 L1131.2,275.1 L1131.4,274.2 L1131.7,273.2 L1132.1,272.3 L1132.4,271.3 L1132.8,270.4 L1133.2,269.5 L1133.7,268.7 L1134.1,267.8 L1134.6,266.9 L1135.1,266.0 L1135.6,265.2 L1136.1,264.3 L1136.6,263.4 L1137.1,262.6 L1137.6,261.7 L1138.0,260.8 L1138.5,259.9 L1138.9,259.0 L1139.3,258.1 L1139.7,257.1 L1140.0,256.2 L1140.3,255.2 L1140.6,254.3 L1140.9,253.3 L1141.1,252.4 L1141.3,251.4 L1141.5,250.4 L1141.7,249.4 L1141.9,248.4 L1142.0,247.4 L1142.2,246.5 L1142.3,245.5 L1142.5,244.5 L1142.6,243.5 L1142.7,242.5 L1142.8,241.5 L1143.0,240.5 L1143.1,239.5 L1143.2,238.5 L1143.3,237.5 L1143.4,236.5 L1143.4,235.5 L1143.5,234.5 L1143.6,233.5 L1143.6,232.5 L1143.7,231.5 L1143.7,230.5 L1143.8,229.5 L1143.8,228.5 L1143.9,227.5 L1143.9,226.5 L1144.0,225.5 L1144.0,224.5 L1144.1,223.5 L1144.1,222.5 L1144.2,221.5 L1144.2,220.5 L1144.3,219.5 L1144.4,218.5 L1144.4,217.6 L1144.5,216.6 L1144.5,215.6 L1144.6,214.6 L1144.6,213.6 L1144.7,212.6 L1144.7,211.6 L1144.8,210.6 L1144.8,209.6 L1144.9,208.6 L1144.9,207.6 L1145.0,206.6 L1145.0,205.6 L1145.1,204.6 L1145.1,203.6 L1145.2,202.6 L1145.2,201.6 L1145.3,200.6 L1145.4,199.6 L1145.4,198.6 L1145.5,197.6 L1145.5,196.6 L1145.6,195.6 L1145.7,194.6 L1145.7,193.6 L1145.8,192.6 L1145.9,191.6 L1145.9,190.6 L1146.0,189.6 L1146.1,188.6 L1146.2,187.6 L1146.2,186.6 L1146.3,185.6 L1146.4,184.6 L1146.5,183.6 L1146.5,182.6 L1146.6,181.6 L1146.7,180.6 L1146.8,179.6 L1146.9,178.6 L1147.0,177.6 L1147.1,176.6 L1147.2,175.6 L1147.3,174.6 L1147.4,173.7 L1147.6,172.7 L1147.7,171.7 L1147.9,170.7 L1148.1,169.7 L1148.3,168.7 L1148.5,167.8 L1148.8,166.8 L1149.0,165.8 L1149.3,164.9 L1149.6,163.9 L1149.9,163.0 L1150.2,162.0 L1150.6,162.9 L1151.0,163.8 L1151.4,164.8 L1151.8,165.7 L1152.2,166.6 L1152.5,167.5 L1152.8,168.5 L1153.1,169.5 L1153.3,170.4 L1153.4,171.4 L1153.6,172.4 L1153.7,173.4 L1153.8,174.4 L1153.9,175.4 L1153.9,176.4 L1154.0,177.4 L1154.0,178.4 L1154.0,179.4 L1154.1,180.4 L1154.1,181.4 L1154.1,182.4 L1154.2,183.4 L1154.2,184.4 L1154.2,185.4 L1154.2,186.4 L1154.3,187.4 L1154.3,188.4 L1154.4,189.4 L1154.4,190.4 L1154.5,191.4 L1154.6,192.4 L1154.6,193.4 L1154.7,194.4 L1154.7,195.4 L1154.8,196.4 L1154.9,197.3 L1154.9,198.3 L1155.0,199.3 L1155.0,200.3 L1155.1,201.3 L1155.2,202.3 L1155.2,203.3 L1155.3,204.3 L1155.3,205.3 L1155.4,206.3 L1155.5,207.3 L1155.5,208.3 L1155.6,209.3 L1155.6,210.3 L1155.7,211.3 L1155.8,212.3 L1155.8,213.3 L1155.9,214.3 L1155.9,215.3 L1156.0,216.3 L1156.1,217.3 L1156.1,218.3 L1156.2,219.3 L1156.2,220.3 L1156.3,221.3 L1156.4,222.3 L1156.4,223.3 L1156.4,224.3 L1156.5,225.3 L1156.5,226.3 L1156.6,227.3 L1156.6,228.3 L1156.7,229.3 L1156.7,230.3 L1156.7,231.3 L1156.8,232.3 L1156.9,233.3 L1156.9,234.3 L1157.0,235.3 L1157.1,236.3 L1157.1,237.3 L1157.2,238.3 L1157.3,239.2 L1157.5,240.2 L1157.6,241.2 L1157.8,242.2 L1157.9,243.2 L1158.1,244.2 L1158.3,245.2 L1158.5,246.1 L1158.7,247.1 L1158.9,248.1 L1159.2,249.1 L1159.4,250.0 L1159.7,251.0 L1159.9,252.0 L1160.2,252.9 L1160.5,253.9 L1160.8,254.8 L1161.1,255.8 L1161.5,256.7 L1161.8,257.7 L1162.2,258.6 L1162.6,259.5 L1162.9,260.4 L1163.3,261.3 L1163.8,262.3 L1164.2,263.2 L1164.6,264.1 L1165.0,265.0 L1165.5,265.9 L1165.9,266.8 L1166.3,267.7 L1166.8,268.6 L1167.2,269.5 L1167.6,270.4 L1168.0,271.3 L1168.4,272.2 L1168.7,273.1 L1169.1,274.1 L1169.4,275.0 L1169.7,276.0 L1170.0,276.9 L1170.2,277.9 L1170.5,278.9 L1170.8,279.8 L1171.0,280.8 L1171.3,281.8 L1171.6,282.7 L1171.8,283.7 L1172.1,284.7 L1172.3,285.6 L1172.6,286.6 L1172.8,287.6 L1173.1,288.5 L1173.3,289.5 L1173.6,290.5 L1173.8,291.4 L1174.1,292.4 L1174.3,293.4 L1174.5,294.3 L1174.8,295.3 L1175.0,296.3 L1175.2,297.3 L1175.5,298.2 L1175.7,299.2 L1176.0,300.2 L1176.2,301.1 L1176.4,302.1 L1176.6,303.1 L1176.9,304.1 L1177.1,305.0 L1177.3,306.0 L1177.5,307.0 L1177.8,308.0 L1178.0,308.9 L1178.2,309.9 L1178.4,310.9 L1178.6,311.9 L1178.9,312.8 L1179.1,313.8 L1179.3,314.8 L1179.5,315.8 L1179.7,316.7 L1179.9,317.7 L1180.1,318.7 L1180.3,319.7 L1180.6,320.6 L1180.8,321.6 L1181.0,322.6 L1181.2,323.6 L1181.4,324.6 L1181.6,325.5 L1181.8,326.5 L1182.0,327.5 L1182.2,328.5 L1182.4,329.5 L1182.6,330.4 L1182.7,331.4 L1182.9,332.4 L1183.1,333.4 L1183.3,334.4 L1183.5,335.3 L1183.7,336.3 L1183.9,337.3 L1184.1,338.3 L1184.3,339.3 L1184.4,340.2 L1184.6,341.2 L1184.8,342.2 L1185.0,343.2 L1185.2,344.2 L1185.4,345.2 L1185.5,346.1 L1185.7,347.1 L1185.9,348.1 L1186.1,349.1 L1186.2,350.1 L1186.4,351.1 L1186.6,352.0 L1186.8,353.0 L1186.9,354.0 L1187.1,355.0 L1187.3,356.0 L1187.4,357.0 L1187.6,358.0 L1187.8,358.9 L1187.9,359.9 L1188.1,360.9 L1188.3,361.9 L1188.4,362.9 L1188.6,363.9 L1188.7,364.9 L1188.9,365.8 L1189.1,366.8 L1189.2,367.8 L1189.4,368.8 L1189.5,369.8 L1189.7,370.8 L1189.8,371.8 L1190.0,372.8 L1190.1,373.7 L1190.3,374.7 L1190.4,375.7 L1190.6,376.7 L1190.7,377.7 L1190.9,378.7 L1191.0,379.7 L1191.2,380.7 L1191.3,381.6 L1191.5,382.6 L1191.6,383.6 L1191.8,384.6 L1191.9,385.6 L1192.1,386.6 L1192.2,387.6 L1192.3,388.6 L1192.5,389.6 L1192.6,390.6 L1192.8,391.5 L1192.9,392.5 L1193.0,393.5 L1193.2,394.5 L1193.3,395.5 L1193.4,396.5 L1193.6,397.5 L1193.7,398.5 L1193.8,399.5 L1194.0,400.5 L1194.1,401.4 L1194.2,402.4 L1194.4,403.4 L1194.5,404.4 L1194.6,405.4 L1194.7,406.4 L1194.9,407.4 L1195.0,408.4 L1195.1,409.4 L1195.3,410.4 L1195.4,411.4 L1195.5,412.3 L1195.6,413.3 L1195.7,414.3 L1195.9,415.3 L1196.0,416.3 L1196.1,417.3 L1196.2,418.3 L1196.4,419.3 L1196.5,420.3 L1196.6,421.3 L1196.7,422.3 L1196.8,423.3 L1196.9,424.3 L1197.1,425.2 L1197.2,426.2 L1197.3,427.2 L1197.4,428.2 L1197.5,429.2 L1197.6,430.2 L1197.7,431.2 L1197.9,432.2 L1198.0,433.2 L1198.1,434.2 L1198.2,435.2 L1198.3,436.2 L1198.4,437.2 L1198.5,438.2 L1198.6,439.2 L1198.7,440.1 L1198.8,441.1 L1198.9,442.1 L1199.1,443.1 L1199.2,444.1 L1199.3,445.1 L1199.4,446.1 L1199.5,447.1 L1199.6,448.1 L1199.7,449.1 L1199.8,450.1 L1199.9,451.1 L1200.0,452.1 L1200.1,453.1 L1200.2,454.1 L1200.3,455.1 L1200.4,456.0 L1200.5,457.0 L1200.6,458.0 L1200.7,459.0 L1200.8,460.0 L1200.9,461.0 L1201.0,462.0 L1201.1,463.0 L1201.2,464.0 L1201.3,465.0 L1201.4,466.0 L1201.5,467.0 L1201.6,468.0 L1201.7,469.0 L1201.7,470.0 L1201.8,471.0 L1201.9,472.0 L1202.0,473.0 L1202.1,474.0 L1202.2,475.0 L1202.3,475.9 L1202.4,476.9 L1202.5,477.9 L1202.6,478.9 L1202.7,479.9 L1202.8,480.9 L1202.8,481.9 L1202.9,482.9 L1203.0,483.9 L1203.1,484.9 L1203.2,485.9 L1203.3,486.9 L1203.4,487.9 L1203.5,488.9 L1203.5,489.9 L1203.6,490.9 L1203.7,491.9 L1203.8,492.9 L1203.9,493.9 L1204.0,494.9 L1204.1,495.9 L1204.1,496.9 L1204.2,497.8 L1204.3,498.8 L1204.4,499.8 L1204.5,500.8 L1204.6,501.8 L1204.6,502.8 L1204.7,503.8 L1204.8,504.8 L1204.9,505.8 L1205.0,506.8 L1205.1,507.8 L1205.1,508.8 L1205.2,509.8 L1205.3,510.8 L1205.4,511.8 L1205.5,512.8 L1205.5,513.8 L1205.6,514.8 L1205.7,515.8 L1205.8,516.8 L1205.9,517.8 L1205.9,518.8 L1206.0,519.8 L1206.1,520.8 L1206.2,521.8 L1206.3,522.8 L1206.3,523.7 L1206.4,524.7 L1206.5,525.7 L1206.6,526.7 L1206.6,527.7 L1206.7,528.7 L1206.8,529.7 L1206.9,530.7 L1206.9,531.7 L1207.0,532.7 L1207.1,533.7 L1207.2,534.7 L1207.3,535.7 L1207.3,536.7 L1207.4,537.7 L1207.5,538.7 L1207.6,539.7 L1207.6,540.7 L1207.7,541.7 L1207.8,542.7 L1207.8,543.7 L1207.9,544.7 L1208.0,545.7 L1208.1,546.7 L1208.1,547.7 L1208.2,548.7 L1208.3,549.7 L1208.4,550.7 L1208.4,551.7 L1208.5,552.6 L1208.6,553.6 L1208.6,554.6 L1208.7,555.6 L1208.8,556.6 L1208.9,557.6 L1208.9,558.6 L1209.0,559.6 L1209.1,560.6 L1209.1,561.6 L1209.2,562.6 L1209.3,563.6 L1209.4,564.6 L1209.4,565.6 L1209.5,566.6 L1209.6,567.6 L1209.6,568.6 L1209.7,569.6 L1209.8,570.6 L1209.8,571.6 L1209.9,572.6 L1210.0,573.6 L1210.0,574.6 L1210.1,575.6 L1210.2,576.6 L1210.2,577.6 L1210.3,578.6 L1210.4,579.6 L1210.5,580.6 L1210.5,581.6 L1210.6,582.6 L1210.7,583.6 L1210.7,584.6 L1210.8,585.6 L1210.9,586.5 L1210.9,587.5 L1211.0,588.5 L1211.0,589.5 L1211.1,590.5 L1211.2,591.5 L1211.2,592.5 L1211.3,593.5 L1211.4,594.5 L1211.4,595.5 L1211.5,596.5 L1211.6,597.5 L1211.6,598.5 L1211.7,599.5 L1211.8,600.5 L1211.8,601.5 L1211.9,602.5 L1212.0,603.5 L1212.0,604.5 L1212.1,605.5 L1212.1,606.5 L1212.2,607.5 L1212.3,608.5 L1212.3,609.5 L1212.4,610.5 L1212.5,611.5 L1212.5,612.5 L1212.6,613.5 L1212.6,614.5 L1212.7,615.5 L1212.8,616.5 L1212.8,617.5 L1212.9,618.5 L1213.0,619.5 L1213.0,620.5 L1213.1,621.5 L1213.1,622.5 L1213.2,623.5 L1213.3,624.4 L1213.3,625.4 L1213.4,626.4 L1213.4,627.4 L1213.5,628.4 L1213.6,629.4 L1213.6,630.4 L1213.7,631.4 L1213.7,632.4 L1213.8,633.4 L1213.9,634.4 L1213.9,635.4 L1214.0,636.4 L1214.0,637.4 L1214.1,638.4 L1214.2,639.4 L1214.2,640.4 L1214.3,641.4 L1214.3,642.4 L1214.4,643.4 L1214.5,644.4 L1214.5,645.4 L1214.6,646.4 L1214.6,647.4 L1214.7,648.4 L1214.7,649.4 L1214.8,650.4 L1214.9,651.4 L1214.9,652.4 L1215.0,653.4 L1215.0,654.4 L1215.1,655.4 L1215.1,656.4 L1215.2,657.4 L1215.3,658.4 L1215.3,659.4 L1215.4,660.4 L1215.4,661.4 L1215.5,662.4 L1215.5,663.4 L1215.6,664.4 L1215.7,665.4 L1215.7,666.4 L1215.8,667.3 L1215.8,668.3 L1215.9,669.3 L1215.9,670.3 L1216.0,671.3 L1216.1,672.3 L1216.1,673.3 L1216.2,674.3 L1216.2,675.3 L1216.3,676.3 L1216.3,677.3 L1216.4,678.3 L1216.4,679.3 L1216.5,680.3 L1216.6,681.3 L1216.6,682.3 L1216.7,683.3 L1216.7,684.3 L1216.8,685.3 L1216.8,686.3 L1216.9,687.3 L1216.9,688.3 L1217.0,689.3 L1217.0,690.3 L1217.1,691.3 L1217.2,692.3 L1217.2,693.3 L1217.3,694.3 L1217.3,695.3 L1217.4,696.3 L1217.4,697.3 L1217.5,698.3 L1217.5,699.3 L1217.6,700.3 L1217.6,701.3 L1217.7,702.3 L1217.8,703.3 L1217.8,704.3 L1217.9,705.3 L1217.9,706.3 L1218.0,707.3 L1218.0,708.3 L1218.1,709.3 L1218.1,710.3 L1218.2,711.3 L1218.2,712.3 L1218.3,713.3 L1218.3,714.3 L1218.4,715.2 L1218.4,716.2 L1218.5,717.2 L1218.6,718.2 L1218.6,719.2 L1218.7,720.2 L1218.7,721.2 L1218.8,722.2 L1218.8,723.2 L1218.9,724.2 L1218.9,725.2 L1219.0,726.2 L1219.0,727.2 L1219.1,728.2 L1219.1,729.2 L1219.2,730.2 L1219.2,731.2 L1219.3,732.2 L1219.3,733.2 L1219.4,734.2 L1219.5,735.2 L1219.5,736.2 L1219.6,737.2 L1219.6,738.2 L1219.7,739.2 L1219.7,740.2 L1219.8,741.2 L1219.8,742.2 L1219.9,743.2 L1219.9,744.2 L1220.0,745.2 L1220.0,746.2 L1220.1,747.2 L1220.1,748.2 L1220.2,749.2 L1220.2,750.2 L1220.3,751.2 L1220.3,752.2 L1220.4,753.2 L1220.4,754.2 L1220.5,755.2 L1220.6,756.2 L1220.6,757.2 L1220.7,758.2 L1220.7,759.2 L1220.8,760.2 L1220.8,761.2 L1220.9,762.2 L1220.9,763.2 L1221.0,764.2 L1221.0,765.2 L1221.1,766.1 L1221.1,767.1 L1221.2,768.1 L1221.2,769.1 L1221.3,770.1 L1221.3,771.1 L1221.4,772.1 L1221.4,773.1 L1221.5,774.1 L1221.5,775.1 L1221.6,776.1 L1221.6,777.1 L1221.7,778.1 L1221.8,779.1 L1221.8,780.1 L1221.9,781.1 L1221.9,782.1 L1222.0,783.1 L1222.0,784.1 L1222.1,785.1 L1222.1,786.1 L1222.2,787.1 L1222.2,788.1 L1222.3,789.1 L1222.3,790.1 L1222.4,791.1 L1222.4,792.1 L1222.5,793.1 L1222.5,794.1 L1222.6,795.1 L1222.6,796.1 L1222.7,797.1 L1222.8,798.1 L1222.8,799.1 L1222.9,800.1 L1222.9,801.1 L1223.0,802.1 L1223.0,803.1 L1223.1,804.1 L1223.1,805.1 L1223.2,806.1 L1223.2,807.1 L1223.3,808.1 L1223.3,809.1 L1223.4,810.1 L1223.4,811.1 L1223.5,812.1 L1223.5,813.1 L1223.6,814.1 L1223.7,815.1 L1223.7,816.1 L1223.8,817.0 L1223.8,818.0 L1223.9,819.0 L1223.9,820.0 L1224.0,821.0 L1224.0,822.0 L1224.1,823.0 L1224.1,824.0 L1224.2,825.0 L1224.2,826.0 L1224.3,827.0 L1224.3,828.0 L1224.4,829.0 L1224.5,830.0 L1224.5,831.0 L1224.6,832.0 L1224.6,833.0 L1224.7,834.0 L1224.7,835.0 L1224.8,836.0 L1224.8,837.0 L1224.9,838.0 L1224.9,839.0 L1225.0,840.0 L1225.1,841.0 L1225.1,842.0 L1225.2,843.0 L1225.2,844.0 L1225.3,845.0 L1225.3,846.0 L1225.4,847.0 L1225.4,848.0 L1225.5,849.0 L1225.6,850.0 L1225.6,851.0 L1225.7,852.0 L1225.7,853.0 L1225.8,854.0 L1225.8,855.0 L1225.9,856.0 L1225.9,857.0 L1226.0,858.0 L1226.1,859.0 L1226.1,860.0 L1226.2,861.0 L1226.2,862.0 L1226.3,863.0 L1226.3,863.9 L1226.4,864.9 L1227.2,875.0 L1227.9,885.0 L1228.7,894.8 L1229.4,904.6 L1230.2,914.2 L1230.9,923.7 L1231.7,933.0 L1232.5,942.2 L1233.2,951.3 L1234.0,960.2 L1234.7,969.0 L1235.5,977.6 L1236.2,986.0 L1237.0,994.3 L1237.8,1002.4 L1238.5,1010.4 L1239.3,1018.2 L1240.0,1025.8 L1240.8,1033.2 L1241.5,1040.4 L1242.3,1047.5 L1243.1,1054.3 L1243.8,1061.0 L1244.6,1067.5 L1245.3,1073.7 L1246.1,1079.8 L1246.8,1085.6 L1247.6,1091.3 L1248.4,1096.7 L1249.1,1101.9 L1249.9,1106.9 L1250.6,1111.7 L1251.4,1116.2 L1252.2,1120.6 L1252.9,1124.7 L1253.7,1128.5 L1254.4,1132.2 L1255.2,1135.6 L1255.9,1138.8 L1256.7,1141.7 L1257.5,1144.4 L1258.2,1146.9 L1259.0,1149.1 L1259.7,1151.1 L1260.5,1152.9 L1261.2,1154.4 L1262.0,1155.7 L1262.8,1156.7 L1263.5,1157.5 L1264.3,1158.0 L1265.0,1158.3 L1265.8,1158.3 L1266.5,1158.1 L1267.3,1157.7 L1268.1,1157.0 L1268.8,1156.1 L1269.6,1154.9 L1270.3,1153.5 L1271.1,1151.9 L1271.8,1150.0 L1272.6,1147.8 L1273.4,1145.4 L1274.1,1142.8 L1274.9,1140.0 L1275.6,1136.9 L1276.4,1133.6 L1277.2,1130.0 L1277.9,1126.2 L1278.7,1122.2 L1279.4,1118.0 L1280.2,1113.5 L1280.9,1108.8 L1281.7,1103.9 L1282.5,1098.8 L1283.2,1093.4 L1284.0,1087.9 L1284.7,1082.1 L1285.5,1076.1 L1286.2,1070.0 L1287.0,1063.6 L1287.8,1057.0 L1288.5,1050.2 L1289.3,1043.2 L1290.0,1036.1 L1290.8,1028.7 L1291.5,1021.2 L1292.3,1013.5 L1293.1,1005.6 L1293.8,997.5 L1294.6,989.3 L1295.3,980.9 L1296.1,972.4 L1296.8,963.7 L1297.6,954.8 L1298.4,945.8 L1299.1,936.6 L1299.9,927.4 L1300.6,917.9 L1301.4,908.4 L1302.2,898.7 L1302.9,888.9 L1303.7,879.0 L1304.4,868.9 L1305.2,858.8 L1305.9,848.6 L1306.7,838.2 L1307.5,827.8 L1308.2,817.3 L1309.0,806.7 L1309.7,796.0 L1310.5,785.2 L1311.2,774.4 L1312.0,763.5 L1312.8,752.6 L1313.5,741.6 L1314.3,730.6 L1315.0,719.5 L1315.8,708.4 L1316.5,697.2 L1317.3,686.0 L1318.1,674.8 L1318.8,663.6 L1319.6,652.4 L1320.3,641.2 L1321.1,629.9 L1321.8,618.7 L1322.6,607.5 L1323.4,596.3 L1324.1,585.2 L1324.9,574.0 L1325.6,562.9 L1326.4,551.8 L1327.2,540.8 L1327.9,529.8 L1328.7,518.9 L1329.4,508.0 L1330.2,497.2 L1330.9,486.5 L1331.7,475.8 L1332.5,465.2 L1333.2,454.7 L1334.0,444.3 L1334.7,434.0 L1335.5,423.8 L1336.2,413.6 L1337.0,403.6 L1337.8,393.7 L1338.5,384.0 L1339.3,374.3 L1340.0,364.8 L1340.8,355.4 L1341.5,346.1 L1342.3,337.0 L1343.1,328.0 L1343.8,319.2 L1344.6,310.5 L1345.3,302.0 L1346.1,293.6 L1346.8,285.4 L1347.6,277.4 L1348.4,269.5 L1349.1,261.9 L1349.9,254.4 L1350.6,247.1 L1351.4,239.9 L1352.2,233.0 L1352.9,226.3 L1353.7,219.7 L1354.4,213.4 L1355.2,207.2 L1355.9,201.3 L1356.7,195.6 L1357.5,190.1 L1358.2,184.8 L1359.0,179.7 L1359.7,174.8 L1360.5,170.2 L1361.2,165.7 L1362.0,161.5 L1362.8,157.6 L1363.5,153.8 L1364.3,150.3 L1365.0,147.1 L1365.8,144.0 L1366.5,141.2 L1367.3,138.6 L1368.1,136.3 L1368.8,134.2 L1369.6,132.4 L1370.3,130.8 L1371.1,129.4 L1371.8,128.3 L1372.6,127.4 L1373.4,126.8 L1374.1,126.4 L1374.9,126.2 L1375.6,126.3 L1376.4,126.7 L1377.2,127.3 L1377.9,128.1 L1378.7,129.2 L1379.4,130.5 L1380.2,132.0 L1380.9,133.8 L1381.7,135.9 L1382.5,138.1 L1383.2,140.7 L1384.0,143.4 L1384.7,146.4 L1385.5,149.6 L1386.2,153.1 L1387.0,156.8 L1387.8,160.7 L1388.5,164.9 L1389.3,169.2 L1390.0,173.8 L1390.8,178.6 L1391.5,183.7 L1392.3,188.9 L1393.1,194.4 L1393.8,200.1 L1394.6,206.0 L1395.3,212.1 L1396.1,218.4 L1396.8,224.9 L1397.6,231.6 L1398.4,238.5 L1399.1,245.6 L1399.9,252.8 L1400.6,260.3 L1401.4,267.9 L1402.2,275.8 L1402.9,283.7 L1403.7,291.9 L1404.4,300.2 L1405.2,308.7 L1405.9,317.4 L1406.7,326.2 L1407.5,335.1 L1408.2,344.2 L1409.0,353.4 L1409.7,362.8 L1410.5,372.3 L1411.2,381.9 L1412.0,391.7 L1412.8,401.6 L1413.5,411.6 L1414.3,421.6 L1415.0,431.8 L1415.8,442.1 L1416.5,452.5 L1417.3,463.0 L1418.1,473.6 L1418.8,484.2 L1419.6,495.0 L1420.3,505.8 L1421.1,516.6 L1421.9,527.5 L1422.6,538.5 L1423.4,549.5 L1424.1,560.6 L1424.9,571.7 L1425.6,582.8 L1426.4,594.0 L1427.2,605.2 L1427.9,616.4 L1428.7,627.6 L1429.4,638.8 L1430.2,650.1 L1430.9,661.3 L1431.7,672.5 L1432.5,683.7 L1433.2,694.9 L1434.0,706.0 L1434.7,717.2 L1435.5,728.3 L1436.2,739.3 L1437.0,750.3 L1437.8,761.3 L1438.5,772.2 L1439.3,783.0 L1440.0,793.8 L1440.8,804.5 L1441.5,815.1 L1442.3,825.6 L1443.1,836.1 L1443.8,846.4 L1444.6,856.7 L1445.3,866.8 L1446.1,876.9 L1446.9,886.8 L1447.6,896.7 L1448.4,906.4 L1449.1,916.0 L1449.9,925.4 L1450.6,934.7 L1451.4,943.9 L1452.2,952.9 L1452.9,961.8 L1453.7,970.6 L1454.4,979.2 L1455.2,987.6 L1455.9,995.8 L1456.7,1003.9 L1457.5,1011.9 L1458.2,1019.6 L1459.0,1027.2 L1459.7,1034.6 L1460.5,1041.8 L1461.2,1048.8 L1462.0,1055.6 L1462.8,1062.2 L1463.5,1068.7 L1464.3,1074.9 L1465.0,1080.9 L1465.8,1086.7 L1466.5,1092.3 L1467.3,1097.7 L1468.1,1102.9 L1468.8,1107.8 L1469.6,1112.6 L1470.3,1117.1 L1471.1,1121.4 L1471.9,1125.4 L1472.6,1129.2 L1473.4,1132.9 L1474.1,1136.2 L1474.9,1139.4 L1475.6,1142.3 L1476.4,1144.9 L1477.2,1147.3 L1477.9,1149.5 L1478.7,1151.5 L1479.4,1153.2 L1480.2,1154.6 L1480.9,1155.9 L1481.7,1156.8 L1482.5,1157.6 L1483.2,1158.1 L1484.0,1158.3 L1484.7,1158.3 L1485.5,1158.1 L1486.2,1157.6 L1487.0,1156.9 L1487.8,1155.9 L1488.5,1154.7 L1489.3,1153.2 L1490.0,1151.5 L1490.8,1149.6 L1491.5,1147.4 L1492.3,1145.0 L1493.1,1142.3 L1493.8,1139.4 L1494.6,1136.3 L1495.3,1132.9 L1496.1,1129.3 L1496.9,1125.5 L1497.6,1121.4 L1498.4,1117.2 L1499.1,1112.7 L1499.9,1107.9 L1500.6,1103.0 L1501.4,1097.8 L1502.2,1092.4 L1502.9,1086.8 L1503.7,1081.0 L1504.4,1075.0 L1505.2,1068.8 L1505.9,1062.4 L1506.7,1055.7 L1507.5,1048.9 L1508.2,1041.9 L1509.0,1034.7 L1509.7,1027.3 L1510.5,1019.8 L1511.2,1012.0 L1512.0,1004.1 L1512.8,996.0 L1513.5,987.8 L1514.3,979.3 L1515.0,970.8 L1515.8,962.0 L1516.5,953.1 L1517.3,944.1 L1518.1,934.9 L1518.8,925.6 L1519.6,916.1 L1520.3,906.6 L1521.1,896.9 L1521.9,887.0 L1522.6,877.1 L1523.4,867.0 L1524.1,856.9 L1524.9,846.6 L1525.6,836.3 L1526.4,825.8 L1527.2,815.3 L1527.9,804.7 L1528.7,794.0 L1529.4,783.2 L1530.2,772.4 L1530.9,761.5 L1531.7,750.5 L1532.5,739.5 L1533.2,728.5 L1534.0,717.4 L1534.7,706.3 L1535.5,695.1 L1536.2,683.9 L1537.0,672.7 L1537.8,661.5 L1538.5,650.3 L1539.3,639.1 L1540.0,627.8 L1540.8,616.6 L1541.5,605.4 L1542.3,594.2 L1543.1,583.1 L1543.8,571.9 L1544.6,560.8 L1545.3,549.8 L1546.1,538.7 L1546.9,527.8 L1547.6,516.8 L1548.4,506.0 L1549.1,495.2 L1549.9,484.5 L1550.6,473.8 L1551.4,463.2 L1552.2,452.8 L1552.9,442.4 L1553.7,432.1 L1554.4,421.9 L1555.2,411.8 L1555.9,401.8 L1556.7,391.9 L1557.5,382.1 L1558.2,372.5 L1559.0,363.0 L1559.7,353.6 L1560.5,344.4 L1561.2,335.3 L1562.0,326.3 L1562.8,317.5 L1563.5,308.9 L1564.3,300.4 L1565.0,292.1 L1565.8,283.9 L1566.5,275.9 L1567.3,268.1 L1568.1,260.5 L1568.8,253.0 L1569.6,245.7 L1570.3,238.6 L1571.1,231.7 L1571.9,225.0 L1572.6,218.5 L1573.4,212.2 L1574.1,206.1 L1574.9,200.2 L1575.6,194.5 L1576.4,189.0 L1577.2,183.8 L1577.9,178.7 L1578.7,173.9 L1579.4,169.3 L1580.2,164.9 L1580.9,160.8 L1581.7,156.9 L1582.5,153.2 L1583.2,149.7 L1584.0,146.5 L1584.7,143.5 L1585.5,140.7 L1586.2,138.2 L1587.0,135.9 L1587.8,133.9 L1588.5,132.1 L1589.3,130.5 L1590.0,129.2 L1590.8,128.1 L1591.5,127.3 L1592.3,126.7 L1593.1,126.3 L1593.8,126.2 L1594.6,126.4 L1595.3,126.8 L1596.1,127.4 L1596.9,128.3 L1597.6,129.4 L1598.4,130.7 L1599.1,132.3 L1599.9,134.2 L1600.6,136.3 L1601.4,138.6 L1602.2,141.2 L1602.9,144.0 L1603.7,147.0 L1604.4,150.3 L1605.2,153.8 L1605.9,157.5 L1606.7,161.5 L1607.5,165.7 L1608.2,170.1 L1609.0,174.7 L1609.7,179.6 L1610.5,184.7 L1611.2,189.9 L1612.0,195.5 L1612.8,201.2 L1613.5,207.1 L1614.3,213.2 L1615.0,219.6 L1615.8,226.1 L1616.5,232.9 L1617.3,239.8 L1618.1,246.9 L1618.8,254.2 L1619.6,261.7 L1620.3,269.4 L1621.1,277.2 L1621.9,285.3 L1622.6,293.5 L1623.4,301.8 L1624.1,310.3 L1624.9,319.0 L1625.6,327.8 L1626.4,336.8 L1627.2,345.9 L1627.9,355.2 L1628.7,364.6 L1629.4,374.1 L1630.2,383.8 L1630.9,393.5 L1631.7,403.4 L1632.5,413.4 L1633.2,423.6 L1634.0,433.8 L1634.7,444.1 L1635.5,454.5 L1636.2,465.0 L1637.0,475.6 L1637.8,486.3 L1638.5,497.0 L1639.3,507.8 L1640.0,518.7 L1640.8,529.6 L1641.5,540.6 L1642.3,551.6 L1643.1,562.7 L1643.8,573.8 L1644.6,584.9 L1645.3,596.1 L1646.1,607.3 L1646.9,618.5 L1647.6,629.7 L1648.4,640.9 L1649.1,652.2 L1649.9,663.4 L1650.6,674.6 L1651.4,685.8 L1652.2,697.0 L1652.9,708.1 L1653.7,719.2 L1654.4,730.3 L1655.2,741.4 L1655.9,752.4 L1656.7,763.3 L1657.5,774.2 L1658.2,785.0 L1659.0,795.8 L1659.7,806.5 L1660.5,817.1 L1661.2,827.6 L1662.0,838.0 L1662.8,848.4 L1663.5,858.6 L1664.3,868.7 L1665.0,878.8 L1665.8,888.7 L1666.5,898.5 L1667.3,908.2 L1668.1,917.7 L1668.8,927.2 L1669.6,936.5 L1670.3,945.6 L1671.1,954.6 L1671.9,963.5 L1672.6,972.2 L1673.4,980.8 L1674.1,989.1 L1674.9,997.4 L1675.6,1005.4 L1676.4,1013.3 L1677.2,1021.0 L1677.9,1028.6 L1678.7,1035.9 L1679.4,1043.1 L1680.2,1050.1 L1680.9,1056.9 L1681.7,1063.4 L1682.5,1069.8 L1683.2,1076.0 L1684.0,1082.0 L1684.7,1087.8 L1685.5,1093.3 L1686.2,1098.7 L1687.0,1103.8 L1687.8,1108.7 L1688.5,1113.4 L1689.3,1117.9 L1690.0,1122.1 L1690.8,1126.2 L1691.6,1129.9 L1692.3,1133.5 L1693.1,1136.8 L1693.8,1139.9 L1694.6,1142.8 L1695.3,1145.4 L1696.1,1147.8 L1696.9,1149.9 L1697.6,1151.8 L1698.4,1153.5 L1699.1,1154.9 L1699.9,1156.1 L1700.6,1157.0 L1701.4,1157.7 L1702.2,1158.1 L1702.9,1158.3 L1703.7,1158.3 L1704.4,1158.0 L1705.2,1157.5 L1705.9,1156.7 L1706.7,1155.7 L1707.5,1154.4 L1708.2,1152.9 L1709.0,1151.2 L1709.7,1149.2 L1710.5,1147.0 L1711.2,1144.5 L1712.0,1141.8 L1712.8,1138.8 L1713.5,1135.7 L1714.3,1132.3 L1715.0,1128.6 L1715.8,1124.8 L1716.6,1120.7 L1717.3,1116.3 L1718.1,1111.8 L1718.8,1107.0 L1719.6,1102.0 L1720.3,1096.8 L1721.1,1091.4 L1721.9,1085.7 L1722.6,1079.9 L1723.4,1073.8 L1724.1,1067.6 L1724.9,1061.1 L1725.6,1054.5 L1726.4,1047.6 L1727.2,1040.6 L1727.9,1033.3 L1728.7,1025.9 L1729.4,1018.3 L1730.2,1010.6 L1730.9,1002.6 L1731.7,994.5 L1732.5,986.2 L1733.2,977.7 L1734.0,969.1 L1734.7,960.4 L1735.5,951.4 L1736.2,942.4 L1737.0,933.2 L1737.8,923.8 L1738.5,914.4 L1739.3,904.8 L1740.0,895.0 L1740.8,885.2 L1741.6,875.2 L1742.3,865.2 L1743.1,855.0 L1743.8,844.7 L1744.6,834.3 L1745.3,823.9 L1746.1,813.3 L1746.9,802.7 L1747.6,792.0 L1748.4,781.2 L1749.1,770.3 L1749.9,759.4 L1750.6,748.5 L1751.4,737.5 L1752.2,726.4 L1752.9,715.3 L1753.7,704.2 L1754.4,693.0 L1755.2,681.8 L1755.9,670.6 L1756.7,659.4 L1757.5,648.2 L1758.2,637.0 L1759.0,625.7 L1759.7,614.5 L1760.5,603.3 L1761.2,592.1 L1762.0,581.0 L1762.8,569.8 L1763.5,558.7 L1764.3,547.7 L1765.0,536.7 L1765.8,525.7 L1766.6,514.8 L1767.3,504.0 L1768.1,493.2 L1768.8,482.5 L1769.6,471.8 L1770.3,461.3 L1771.1,450.8 L1771.9,440.4 L1772.6,430.1 L1773.4,420.0 L1774.1,409.9 L1774.9,399.9 L1775.6,390.1 L1776.4,380.3 L1777.2,370.7 L1777.9,361.2 L1778.7,351.9 L1779.4,342.7 L1780.2,333.6 L1780.9,324.7 L1781.7,315.9 L1782.5,307.3 L1783.2,298.8 L1784.0,290.5 L1784.7,282.4 L1785.5,274.4 L1786.2,266.6 L1787.0,259.0 L1787.8,251.6 L1788.5,244.4 L1789.3,237.3 L1790.0,230.5 L1790.8,223.8 L1791.6,217.3 L1792.3,211.0 L1793.1,205.0 L1793.8,199.1 L1794.6,193.5 L1795.3,188.0 L1796.1,182.8 L1796.9,177.8 L1797.6,173.0 L1798.4,168.5 L1799.1,164.1 L1799.9,160.0 L1800.6,156.1 L1801.4,152.5 L1802.2,149.1 L1802.9,145.9 L1803.7,142.9 L1804.4,140.2 L1805.2,137.7 L1805.9,135.5 L1806.7,133.5 L1807.5,131.7 L1808.2,130.2 L1809.0,129.0 L1809.7,127.9 L1810.5,127.1 L1811.2,126.6 L1812.0,126.3 L1812.8,126.2 L1813.5,126.4 L1814.3,126.9 L1815.0,127.5 L1815.8,128.5 L1816.6,129.6 L1817.3,131.0 L1818.1,132.7 L1818.8,134.6 L1819.6,136.7 L1820.3,139.1 L1821.1,141.7 L1821.9,144.5 L1822.6,147.6 L1823.4,150.9 L1824.1,154.4 L1824.9,158.2 L1825.6,162.2 L1826.4,166.5 L1827.2,170.9 L1827.9,175.6 L1828.7,180.5 L1829.4,185.6 L1830.2,191.0 L1830.9,196.5 L1831.7,202.3"/>
<path stroke="#0000ff" d="M187.6,620.1 L188.1,627.5 L188.6,635.0 L189.0,642.5 L189.5,650.0 L190.0,657.5 L190.5,665.0 L191.0,672.5 L191.5,680.0 L192.0,687.5 L192.5,694.9 L192.9,702.4 L193.4,709.8 L193.9,717.2 L194.4,724.6 L194.9,732.0 L195.4,739.4 L195.9,746.8 L196.4,754.1 L196.9,761.4 L197.3,768.7 L197.8,775.9 L198.3,783.2 L198.8,790.4 L199.3,797.5 L199.8,804.6 L200.3,811.7 L200.8,818.8 L201.2,825.8 L201.7,832.8 L202.2,839.8 L202.7,846.7 L203.2,853.5 L203.7,860.3 L204.2,867.1 L204.7,873.8 L205.1,880.5 L205.6,887.1 L206.1,893.7 L206.6,900.2 L207.1,906.7 L207.6,913.1 L208.1,919.4 L208.6,925.7 L209.0,931.9 L209.5,938.1 L210.0,944.2 L210.5,950.2 L211.0,956.2 L211.5,962.1 L212.0,968.0 L212.5,973.8 L212.9,979.5 L213.4,985.1 L213.9,990.7 L214.4,996.1 L214.9,1001.6 L215.4,1006.9 L215.9,1012.2 L216.4,1017.4 L216.8,1022.5 L217.3,1027.5 L217.8,1032.5 L218.3,1037.3 L218.8,1042.1 L219.3,1046.8 L219.8,1051.4 L220.3,1056.0 L220.7,1060.4 L221.2,1064.8 L221.7,1069.1 L222.2,1073.3 L222.7,1077.4 L223.2,1081.4 L223.7,1085.3 L224.2,1089.1 L224.6,1092.8 L225.1,1096.5 L225.6,1100.0 L226.1,1103.5 L226.6,1106.9 L227.1,1110.1 L227.6,1113.3 L228.1,1116.4 L228.6,1119.4 L229.0,1122.2 L229.5,1125.0 L230.0,1127.7 L230.5,1130.3 L231.0,1132.8 L231.5,1135.2 L232.0,1137.5 L232.5,1139.6 L232.9,1141.7 L233.4,1143.7 L233.9,1145.6 L234.4,1147.4 L234.9,1149.1 L235.4,1150.6 L235.9,1152.1 L236.4,1153.5 L236.8,1154.8 L237.3,1155.9 L237.8,1157.0 L238.3,1158.0 L238.8,1158.8 L239.3,1159.6 L239.8,1160.2 L240.3,1160.8 L240.7,1161.2 L241.7,1161.8 L242.7,1162.0 L243.7,1161.8 L244.6,1161.1 L245.1,1160.6 L245.6,1160.1 L246.1,1159.4 L246.6,1158.6 L247.1,1157.7 L247.6,1156.7 L248.1,1155.6 L248.5,1154.4 L249.0,1153.1 L249.5,1151.7 L250.0,1150.2 L250.5,1148.6 L251.0,1146.9 L251.5,1145.1 L252.0,1143.2 L252.4,1141.2 L252.9,1139.1 L253.4,1136.9 L253.9,1134.6 L254.4,1132.2 L254.9,1129.7 L255.4,1127.2 L255.9,1124.5 L256.3,1121.7 L256.8,1118.8 L257.3,1115.8 L257.8,1112.8 L258.3,1109.6 L258.8,1106.3 L259.3,1103.0 L259.8,1099.5 L260.2,1095.9 L260.7,1092.3 L261.2,1088.6 L261.7,1084.7 L262.2,1080.8 L262.7,1076.8 L263.2,1072.7 L263.7,1068.5 L264.2,1064.2 L264.6,1059.8 L265.1,1055.3 L265.6,1050.7 L266.1,1046.0 L266.6,1041.3 L267.1,1036.4 L267.6,1031.4 L268.1,1026.4 L268.5,1021.3 L269.0,1016.0 L269.5,1010.7 L270.0,1005.3 L270.5,999.7 L271.0,994.1 L271.5,988.4 L272.0,982.6 L272.4,976.7 L272.9,970.7 L273.4,964.6 L273.9,958.4 L274.4,952.1 L274.9,945.7 L275.4,939.2 L275.9,932.6 L276.3,925.9 L276.8,919.1 L277.3,912.2 L277.8,905.1 L278.3,898.0 L278.8,890.7 L279.3,883.3 L279.8,875.8 L280.2,868.2 L280.7,860.5 L281.2,852.6 L281.7,844.6 L282.2,838.9 L283.2,838.9 L284.1,838.9 L285.1,838.9 L286.1,838.9 L287.1,835.4 L287.6,827.3 L288.0,819.2 L288.5,811.1 L289.0,803.0 L289.5,795.0 L290.0,787.0 L290.5,779.0 L291.0,771.0 L291.5,763.1 L291.9,755.2 L292.4,747.3 L292.9,739.4 L293.4,731.6 L293.9,723.8 L294.4,716.0 L294.9,708.2 L295.4,700.4 L295.8,692.7 L296.3,685.0 L296.8,677.3 L297.3,669.6 L297.8,662.0 L298.3,654.4 L298.8,646.8 L299.3,639.2 L299.8,631.7 L300.2,624.2 L300.7,616.7 L301.2,609.3 L301.7,601.8 L302.2,594.4 L302.7,587.0 L303.2,579.7 L303.7,572.4 L304.1,565.1 L304.6,557.8 L305.1,550.6 L305.6,543.4 L306.1,536.2 L306.6,529.1 L307.1,522.0 L307.6,514.9 L308.0,507.8 L308.5,500.8 L309.0,493.9 L309.5,486.9 L310.0,480.1 L310.5,473.2 L311.0,466.4 L311.5,459.6 L311.9,452.9 L312.4,446.2 L312.9,439.5 L313.4,432.9 L313.9,426.4 L314.4,419.8 L314.9,413.4 L315.4,406.9 L315.8,400.6 L316.3,394.2 L316.8,388.0 L317.3,381.7 L317.8,375.6 L318.3,369.4 L318.8,363.4 L319.3,357.4 L319.7,351.4 L320.2,345.5 L320.7,339.6 L321.2,333.9 L321.7,328.1 L322.2,322.5 L322.7,316.9 L323.2,311.3 L323.6,305.8 L324.1,300.4 L324.6,295.1 L325.1,289.8 L325.6,284.5 L326.1,279.4 L326.6,274.3 L327.1,269.3 L327.5,264.3 L328.0,259.5 L328.5,254.7 L329.0,249.9 L329.5,245.3 L330.0,240.7 L330.5,236.2 L331.0,231.7 L331.4,227.4 L331.9,223.1 L332.4,218.9 L332.9,214.8 L333.4,210.7 L333.9,206.8 L334.4,202.9 L334.9,199.1 L335.4,195.4 L335.8,191.8 L336.3,188.3 L336.8,184.8 L337.3,181.4 L337.8,178.1 L338.3,175.0 L338.8,171.9 L339.3,168.8 L339.7,165.9 L340.2,163.1 L340.7,160.3 L341.2,157.7 L341.7,155.1 L342.2,152.7 L342.7,150.3 L343.2,148.0 L343.6,145.8 L344.1,143.7 L344.6,141.7 L345.1,139.8 L345.6,138.0 L346.1,136.3 L346.6,134.7 L347.1,133.2 L347.5,131.8 L348.0,130.5 L348.5,129.3 L349.0,128.2 L349.5,127.2 L350.0,126.2 L350.5,125.4 L351.0,124.7 L351.4,124.1 L351.9,123.6 L352.4,123.2 L353.4,122.7 L354.4,122.6 L355.3,122.9 L356.3,123.6 L356.8,124.1 L357.3,124.8 L357.8,125.5 L358.3,126.3 L358.8,127.2 L359.2,128.3 L359.7,129.4 L360.2,130.7 L360.7,132.0 L361.2,133.4 L361.7,135.0 L362.2,136.7 L362.7,138.4 L363.1,140.3 L363.6,142.2 L364.1,144.3 L364.6,146.5 L365.1,148.8 L365.6,151.1 L366.1,153.6 L366.6,156.2 L367.1,158.9 L367.5,161.7 L368.0,164.5 L368.5,167.5 L369.0,170.6 L369.5,173.8 L370.0,177.1 L370.5,180.5 L371.0,184.0 L371.4,187.6 L371.9,191.3 L372.4,195.1 L372.9,199.0 L373.4,203.0 L373.9,207.0 L374.4,211.2 L374.9,215.5 L375.3,219.9 L375.8,224.4 L376.3,229.0 L376.8,233.6 L377.3,238.4 L377.8,243.3 L378.3,248.3 L378.8,253.3 L379.2,258.5 L379.7,263.8 L380.2,269.1 L380.7,274.6 L381.2,280.1 L381.7,285.8 L382.2,291.5 L382.7,297.4 L383.1,303.3 L383.6,309.3 L384.1,315.5 L384.6,321.7 L385.1,328.0 L385.6,334.5 L386.1,341.0 L386.6,347.6 L387.0,354.3 L387.5,361.2 L388.0,368.1 L388.5,375.1 L389.0,382.3 L389.5,389.5 L390.0,396.8 L390.5,404.3 L390.9,411.8 L391.4,419.5 L391.9,421.5 L392.9,421.5 L393.9,421.5 L394.8,428.5 L395.3,436.3 L395.8,444.1 L396.3,451.9 L396.8,459.6 L397.3,467.4 L397.8,475.3 L398.3,483.1 L398.7,490.9 L399.2,498.7 L399.7,506.6 L400.2,514.4 L400.7,522.2 L401.2,530.1 L401.7,537.9 L402.2,545.8 L402.7,553.6 L403.1,561.5 L403.6,569.3 L404.1,577.1 L404.6,585.0 L405.1,592.8 L405.6,600.6 L406.1,608.4 L406.6,616.2 L407.0,624.0 L407.5,631.8 L408.0,639.6 L408.5,647.4 L409.0,655.1 L409.5,662.8 L410.0,670.6 L410.5,678.3 L410.9,685.9 L411.4,693.6 L411.9,701.2 L412.4,708.9 L412.9,716.5 L413.4,724.0 L413.9,731.6 L414.4,739.1 L414.8,746.6 L415.3,754.0 L415.8,761.5 L416.3,768.9 L416.8,776.2 L417.3,783.6 L417.8,790.9 L418.3,798.1 L418.7,805.3 L419.2,812.5 L419.7,819.6 L420.2,826.7 L420.7,833.8 L421.2,840.8 L421.7,847.7 L422.2,854.7 L422.6,861.5 L423.1,868.3 L423.6,875.1 L424.1,881.8 L424.6,888.5 L425.1,895.1 L425.6,901.6 L426.1,908.1 L426.5,914.5 L427.0,920.9 L427.5,927.2 L428.0,933.4 L428.5,939.6 L429.0,945.7 L429.5,951.8 L430.0,957.8 L430.4,963.7 L430.9,969.5 L431.4,975.3 L431.9,981.0 L432.4,986.7 L432.9,992.2 L433.4,997.7 L433.9,1003.1 L434.3,1008.4 L434.8,1013.7 L435.3,1018.9 L435.8,1024.0 L436.3,1029.0 L436.8,1033.9 L437.3,1038.8 L437.8,1043.6 L438.3,1048.2 L438.7,1052.8 L439.2,1057.4 L439.7,1061.8 L440.2,1066.1 L440.7,1070.4 L441.2,1074.6 L441.7,1078.6 L442.2,1082.6 L442.6,1086.5 L443.1,1090.3 L443.6,1094.0 L444.1,1097.6 L444.6,1101.2 L445.1,1104.6 L445.6,1107.9 L446.1,1111.2 L446.5,1114.3 L447.0,1117.4 L447.5,1120.3 L448.0,1123.2 L448.5,1125.9 L449.0,1128.6 L449.5,1131.1 L450.0,1133.6 L450.4,1135.9 L450.9,1138.2 L451.4,1140.3 L451.9,1142.4 L452.4,1144.3 L452.9,1146.2 L453.4,1147.9 L453.9,1149.6 L454.3,1151.1 L454.8,1152.6 L455.3,1153.9 L455.8,1155.2 L456.3,1156.3 L456.8,1157.3 L457.3,1158.3 L457.8,1159.1 L458.2,1159.8 L458.7,1160.4 L459.2,1161.0 L459.7,1161.4 L460.7,1161.9 L461.7,1162.0 L462.6,1161.7 L463.6,1161.0 L464.1,1160.5 L464.6,1159.8 L465.1,1159.1 L465.6,1158.3 L466.0,1157.4 L466.5,1156.4 L467.0,1155.2 L467.5,1154.0 L468.0,1152.7 L468.5,1151.3 L469.0,1149.7 L469.5,1148.1 L469.9,1146.4 L470.4,1144.5 L470.9,1142.6 L471.4,1140.6 L471.9,1138.5 L472.4,1136.2 L472.9,1133.9 L473.4,1131.5 L473.9,1129.0 L474.3,1126.3 L474.8,1123.6 L475.3,1120.8 L475.8,1117.9 L476.3,1114.9 L476.8,1111.8 L477.3,1108.6 L477.8,1105.3 L478.2,1102.0 L478.7,1098.5 L479.2,1094.9 L479.7,1091.3 L480.2,1087.5 L480.7,1083.7 L481.2,1079.7 L481.7,1075.7 L482.1,1071.6 L482.6,1067.3 L483.1,1063.0 L483.6,1058.6 L484.1,1054.1 L484.6,1049.6 L485.1,1044.9 L485.6,1040.1 L486.0,1035.3 L486.5,1030.3 L487.0,1025.3 L487.5,1020.1 L488.0,1014.9 L488.5,1009.6 L489.0,1004.2 L489.5,998.7 L489.9,993.1 L490.4,987.4 L490.9,981.6 L491.4,975.8 L491.9,969.8 L492.4,963.7 L492.9,957.6 L493.4,951.3 L493.8,945.0 L494.3,938.5 L494.8,932.0 L495.3,925.4 L495.8,918.6 L496.3,911.8 L496.8,904.8 L497.3,897.7 L497.7,890.6 L498.2,883.3 L498.7,875.9 L499.2,868.4 L499.7,860.8 L500.2,853.0 L500.7,845.2 L501.2,837.2 L501.6,829.1 L502.1,824.1 L503.1,824.1 L504.1,824.1 L505.1,824.1 L506.0,824.1 L507.0,819.8 L507.5,811.6 L508.0,803.4 L508.5,795.2 L509.0,787.1 L509.5,779.0 L509.9,770.9 L510.4,762.9 L510.9,754.8 L511.4,746.9 L511.9,738.9 L512.4,731.0 L512.9,723.0 L513.4,715.2 L513.8,707.3 L514.3,699.5 L514.8,691.7 L515.3,683.9 L515.8,676.2 L516.3,668.4 L516.8,660.7 L517.3,653.1 L517.7,645.4 L518.2,637.8 L518.7,630.2 L519.2,622.7 L519.7,615.2 L520.2,607.7 L520.7,600.2 L521.2,592.7 L521.6,585.3 L522.1,577.9 L522.6,570.6 L523.1,563.3 L523.6,556.0 L524.1,548.7 L524.6,541.5 L525.1,534.3 L525.5,527.2 L526.0,520.0 L526.5,513.0 L527.0,505.9 L527.5,498.9 L528.0,491.9 L528.5,485.0 L529.0,478.1 L529.4,471.2 L529.9,464.4 L530.4,457.6 L530.9,450.9 L531.4,444.2 L531.9,437.5 L532.4,430.9 L532.9,424.4 L533.3,417.9 L533.8,411.4 L534.3,405.0 L534.8,398.6 L535.3,392.3 L535.8,386.0 L536.3,379.8 L536.8,373.6 L537.2,367.5 L537.7,361.5 L538.2,355.5 L538.7,349.5 L539.2,343.6 L539.7,337.8 L540.2,332.0 L540.7,326.3 L541.2,320.6 L541.6,315.1 L542.1,309.5 L542.6,304.1 L543.1,298.7 L543.6,293.3 L544.1,288.1 L544.6,282.8 L545.1,277.7 L545.5,272.6 L546.0,267.7 L546.5,262.7 L547.0,257.9 L547.5,253.1 L548.0,248.4 L548.5,243.7 L549.0,239.2 L549.4,234.7 L549.9,230.3 L550.4,226.0 L550.9,221.7 L551.4,217.5 L551.9,213.5 L552.4,209.4 L552.9,205.5 L553.3,201.7 L553.8,197.9 L554.3,194.2 L554.8,190.6 L555.3,187.1 L555.8,183.7 L556.3,180.4 L556.8,177.1 L557.2,173.9 L557.7,170.9 L558.2,167.9 L558.7,165.0 L559.2,162.2 L559.7,159.5 L560.2,156.8 L560.7,154.3 L561.1,151.9 L561.6,149.5 L562.1,147.3 L562.6,145.1 L563.1,143.1 L563.6,141.1 L564.1,139.3 L564.6,137.5 L565.0,135.8 L565.5,134.2 L566.0,132.8 L566.5,131.4 L567.0,130.1 L567.5,128.9 L568.0,127.9 L568.5,126.9 L568.9,126.0 L569.4,125.2 L569.9,124.5 L570.4,123.9 L570.9,123.5 L571.4,123.1 L572.4,122.6 L573.3,122.6 L574.3,123.0 L575.3,123.7 L575.8,124.3 L576.3,124.9 L576.8,125.7 L577.2,126.5 L577.7,127.5 L578.2,128.5 L578.7,129.7 L579.2,130.9 L579.7,132.3 L580.2,133.8 L580.7,135.3 L581.1,137.0 L581.6,138.7 L582.1,140.6 L582.6,142.6 L583.1,144.6 L583.6,146.8 L584.1,149.1 L584.6,151.4 L585.0,153.9 L585.5,156.5 L586.0,159.1 L586.5,161.9 L587.0,164.8 L587.5,167.7 L588.0,170.8 L588.5,173.9 L588.9,177.2 L589.4,180.5 L589.9,183.9 L590.4,187.5 L590.9,191.1 L591.4,194.8 L591.9,198.6 L592.4,202.5 L592.8,206.5 L593.3,210.5 L593.8,214.7 L594.3,219.0 L594.8,223.3 L595.3,227.7 L595.8,232.2 L596.3,236.8 L596.7,241.5 L597.2,246.3 L597.7,251.1 L598.2,256.0 L598.7,261.0 L599.2,266.1 L599.7,271.3 L600.2,276.5 L600.6,281.9 L601.1,287.3 L601.6,292.7 L602.1,298.3 L602.6,303.9 L603.1,309.6 L603.6,315.3 L604.1,321.1 L604.5,327.0 L605.0,333.0 L605.5,339.0 L606.0,345.1 L606.5,351.2 L607.0,357.4 L607.5,363.7 L608.0,370.0 L608.4,376.4 L608.9,382.9 L609.4,389.4 L609.9,395.9 L610.4,402.5 L610.9,409.2 L611.4,415.9 L611.9,422.6 L612.4,429.4 L612.8,436.3 L613.3,443.1 L613.8,450.1 L614.3,457.0 L614.8,464.1 L615.3,471.1 L615.8,478.2 L616.3,485.3 L616.7,492.5 L617.2,499.6 L617.7,506.9 L618.2,514.1 L618.7,521.4 L619.2,528.7 L619.7,536.0 L620.2,543.3 L620.6,550.7 L621.1,558.1 L621.6,565.5 L622.1,572.9 L622.6,580.3 L623.1,587.8 L623.6,595.2 L624.1,602.7 L624.5,610.2 L625.0,617.7 L625.5,625.2 L626.0,632.7 L626.1,634.2 L626.2,635.6 L626.4,637.1 L626.5,638.6 L626.6,640.1 L626.7,641.6 L626.8,643.1 L626.9,644.6 L627.1,646.1 L627.2,647.6 L627.3,649.1 L627.4,650.6 L627.5,652.1 L627.6,653.6 L627.7,655.1 L627.8,656.6 L627.9,658.1 L628.0,659.6 L628.2,661.1 L628.3,662.6 L628.4,664.1 L628.5,665.6 L628.6,667.1 L628.7,668.6 L628.8,670.1 L628.9,671.6 L629.0,673.1 L629.1,674.6 L629.2,676.1 L629.3,677.6 L629.4,679.1 L629.5,680.6 L629.6,682.1 L629.7,683.6 L629.8,685.1 L629.9,686.6 L629.9,688.1 L630.0,689.6 L630.1,691.1 L630.2,692.6 L630.3,694.1 L630.4,695.6 L630.5,697.1 L630.6,698.6 L630.7,700.1 L630.8,701.6 L630.9,703.1 L630.9,704.6 L631.0,706.1 L631.1,707.6 L631.2,709.1 L631.3,710.6 L631.4,712.1 L631.5,713.6 L631.6,715.2 L631.6,716.7 L631.7,718.2 L631.8,719.7 L631.9,721.2 L632.0,722.7 L632.1,724.2 L632.1,725.7 L632.2,727.2 L632.3,728.7 L632.4,730.2 L632.5,731.7 L632.5,733.2 L632.6,734.7 L632.7,736.2 L632.8,737.7 L632.9,739.2 L632.9,740.8 L633.0,742.3 L633.1,743.8 L633.2,745.3 L633.2,746.8 L633.3,748.3 L633.4,749.8 L633.5,751.3 L633.6,752.8 L633.6,754.3 L633.7,755.8 L633.8,757.3 L633.9,758.9 L633.9,760.4 L634.0,761.9 L634.1,763.4 L634.2,764.9 L634.2,766.4 L634.3,767.9 L634.4,769.4 L634.5,770.9 L634.5,772.4 L634.6,773.9 L634.7,775.4 L634.7,777.0 L634.8,778.5 L634.9,780.0 L635.0,781.5 L635.0,783.0 L635.1,784.5 L635.2,786.0 L635.3,787.5 L635.3,789.0 L635.4,790.5 L635.5,792.1 L635.5,793.6 L635.6,795.1 L635.7,796.6 L635.8,798.1 L635.8,799.6 L635.9,801.1 L636.0,802.6 L636.1,804.1 L636.1,805.6 L636.2,807.2 L636.3,808.7 L636.3,810.2 L636.4,811.7 L636.5,813.2 L636.6,814.7 L636.6,816.2 L636.7,817.7 L636.8,819.2 L636.8,820.7 L636.9,822.3 L637.0,823.8 L637.1,825.3 L637.1,826.8 L637.2,828.3 L637.3,829.8 L637.4,831.3 L637.4,832.8 L637.5,834.3 L637.6,835.9 L637.7,837.4 L637.7,838.9 L637.8,840.4 L637.9,841.9 L638.0,843.4 L638.0,844.9 L638.1,846.4 L638.2,847.9 L638.3,849.4 L638.3,851.0 L638.4,852.5 L638.5,854.0 L638.6,855.5 L638.6,857.0 L638.7,858.5 L638.8,860.0 L638.9,861.5 L638.9,863.0 L639.0,864.5 L639.1,866.1 L639.2,867.6 L639.3,869.1 L639.3,870.6 L639.4,872.1 L639.5,873.6 L639.6,875.1 L639.7,876.6 L639.8,878.1 L639.8,879.6 L639.9,881.1 L640.0,882.7 L640.1,884.2 L640.2,885.7 L640.2,887.2 L640.3,888.7 L640.4,890.2 L640.5,891.7 L640.6,893.2 L640.7,894.7 L640.8,896.2 L640.9,897.7 L640.9,899.2 L641.0,900.8 L641.1,902.3 L641.2,903.8 L641.3,905.3 L641.4,906.8 L641.5,908.3 L641.6,909.8 L641.7,911.3 L641.8,912.8 L641.8,914.3 L641.9,915.8 L642.0,917.3 L642.1,918.8 L642.2,920.3 L642.3,921.9 L642.4,923.4 L642.5,924.9 L642.6,926.4 L642.7,927.9 L642.8,929.4 L642.9,930.9 L643.0,932.4 L643.1,933.9 L643.2,935.4 L643.3,936.9 L643.4,938.4 L643.5,939.9 L643.6,941.4 L643.7,942.9 L643.8,944.4 L643.9,945.9 L644.1,947.4 L644.2,948.9 L644.3,950.4 L644.4,952.0 L644.5,953.5 L644.6,955.0 L644.7,956.5 L644.8,958.0 L644.9,959.5 L645.1,961.0 L645.2,962.5 L645.3,964.0 L645.4,965.5 L645.5,967.0 L645.6,968.5 L645.8,970.0 L645.9,971.5 L646.0,973.0 L646.1,974.5 L646.2,976.0 L646.4,977.5 L646.5,979.0 L646.6,980.5 L646.7,982.0 L646.9,983.5 L647.0,985.0 L647.1,986.5 L647.3,988.0 L647.4,989.5 L647.5,991.0 L647.7,992.5 L647.8,994.0 L647.9,995.5 L648.1,997.0 L648.2,998.5 L648.4,1000.0 L648.5,1001.5 L648.6,1003.0 L648.8,1004.5 L648.9,1005.9 L649.1,1007.4 L649.2,1008.9 L649.4,1010.4 L649.5,1011.9 L649.7,1013.4 L649.8,1014.9 L650.0,1016.4 L650.2,1017.9 L650.3,1019.4 L650.5,1020.9 L650.6,1022.4 L650.8,1023.9 L651.0,1025.4 L651.1,1026.9 L651.3,1028.4 L651.5,1029.9 L651.6,1031.3 L651.8,1032.8 L652.0,1034.3 L652.2,1035.8 L652.4,1037.3 L652.5,1038.8 L652.7,1040.3 L652.9,1041.8 L653.1,1043.3 L653.3,1044.8 L653.5,1046.2 L653.7,1047.7 L653.8,1049.2 L654.0,1050.7 L654.2,1052.2 L654.4,1053.7 L654.6,1055.2 L654.8,1056.7 L655.0,1058.1 L655.3,1059.6 L655.5,1061.1 L655.7,1062.6 L655.9,1064.1 L656.1,1065.6 L656.3,1067.1 L656.5,1068.5 L656.8,1070.0 L657.0,1071.5 L657.2,1073.0 L657.4,1074.5 L657.7,1076.0 L657.9,1077.4 L658.1,1078.9 L658.4,1080.4 L658.6,1081.9 L658.8,1083.4 L659.1,1084.8 L659.3,1086.3 L659.6,1087.8 L659.8,1089.3 L660.1,1090.8 L660.3,1092.2 L660.6,1093.7 L660.9,1095.2 L661.1,1096.7 L661.4,1098.2 L661.7,1099.6 L661.9,1101.1 L662.2,1102.6 L662.5,1104.1 L662.8,1105.5 L663.0,1107.0 L663.3,1108.5 L663.6,1110.0 L663.9,1111.4 L664.2,1112.9 L664.5,1114.4 L664.8,1115.9 L665.1,1117.3 L665.4,1118.8 L665.7,1120.3 L666.0,1121.7 L666.3,1123.2 L666.6,1124.7 L666.9,1126.2 L667.2,1127.6 L667.6,1129.1 L667.9,1130.6 L668.2,1132.0 L668.6,1133.5 L668.9,1135.0 L669.2,1136.4 L669.6,1137.9 L669.9,1139.4 L670.2,1140.8 L670.6,1142.3 L670.9,1143.8 L671.3,1145.2 L671.7,1146.7 L672.0,1148.2 L672.4,1149.6 L672.8,1151.1 L673.1,1152.5 L673.5,1154.0 L673.6,1152.5 L673.7,1151.0 L673.9,1149.5 L674.0,1148.0 L674.1,1146.5 L674.2,1145.0 L674.3,1143.5 L674.4,1142.0 L674.5,1140.5 L674.6,1139.0 L674.7,1137.5 L674.8,1136.0 L674.9,1134.5 L675.0,1133.0 L675.1,1131.4 L675.2,1129.9 L675.3,1128.4 L675.4,1126.9 L675.5,1125.4 L675.6,1123.9 L675.7,1122.4 L675.8,1120.9 L675.9,1119.4 L675.9,1117.9 L676.0,1116.4 L676.1,1114.9 L676.2,1113.4 L676.3,1111.9 L676.3,1110.4 L676.4,1108.9 L676.5,1107.4 L676.6,1105.9 L676.6,1104.4 L676.7,1102.8 L676.8,1101.3 L676.8,1099.8 L676.9,1098.3 L677.0,1096.8 L677.0,1095.3 L677.1,1093.8 L677.1,1092.3 L677.2,1090.8 L677.3,1089.3 L677.3,1087.8 L677.4,1086.3 L677.4,1084.8 L677.5,1083.3 L677.5,1081.8 L677.6,1080.3 L677.6,1078.7 L677.7,1077.2 L677.7,1075.7 L677.8,1074.2 L677.8,1072.7 L677.9,1071.2 L677.9,1069.7 L677.9,1068.2 L678.0,1066.7 L678.0,1065.2 L678.1,1063.7 L678.1,1062.2 L678.1,1060.7 L678.2,1059.1 L678.2,1057.6 L678.2,1056.1 L678.3,1054.6 L678.3,1053.1 L678.3,1051.6 L678.4,1050.1 L678.4,1048.6 L678.4,1047.1 L678.5,1045.6 L678.5,1044.1 L678.5,1042.6 L678.5,1041.0 L678.6,1039.5 L678.6,1038.0 L678.6,1036.5 L678.6,1035.0 L678.7,1033.5 L678.7,1032.0 L678.7,1030.5 L678.7,1029.0 L678.7,1027.5 L678.8,1026.0 L678.8,1024.5 L678.8,1022.9 L678.8,1021.4 L678.8,1019.9 L678.8,1018.4 L678.9,1016.9 L678.9,1015.4 L678.9,1013.9 L678.9,1012.4 L678.9,1010.9 L678.9,1009.4 L678.9,1007.9 L679.0,1006.3 L679.0,1004.8 L679.0,1003.3 L679.0,1001.8 L679.0,1000.3 L679.0,998.8 L679.0,997.3 L679.0,995.8 L679.0,994.3 L679.1,992.8 L679.1,991.3 L679.1,989.7 L679.1,988.2 L679.1,986.7 L679.1,985.2 L679.1,983.7 L679.1,982.2 L679.1,980.7 L679.1,979.2 L679.1,977.7 L679.1,976.2 L679.1,974.7 L679.2,973.1 L679.2,971.6 L679.2,970.1 L679.2,968.6 L679.2,967.1 L679.2,965.6 L679.2,964.1 L679.2,962.6 L679.2,961.1 L679.2,959.6 L679.2,958.0 L679.2,956.5 L679.2,955.0 L679.2,953.5 L679.3,952.0 L679.3,950.5 L679.3,949.0 L679.3,947.5 L679.3,946.0 L679.3,944.5 L679.3,943.0 L679.3,941.4 L679.3,939.9 L679.3,938.4 L679.3,936.9 L679.3,935.4 L679.4,933.9 L679.4,932.4 L679.4,930.9 L679.4,929.4 L679.4,927.9 L679.4,926.4 L679.4,924.8 L679.4,923.3 L679.4,921.8 L679.5,920.3 L679.5,918.8 L679.5,917.3 L679.5,915.8 L679.5,914.3 L679.5,912.8 L679.6,911.3 L679.6,909.8 L679.6,908.3 L679.6,906.7 L679.6,905.2 L679.6,903.7 L679.7,902.2 L679.7,900.7 L679.7,899.2 L679.7,897.7 L679.7,896.2 L679.8,894.7 L679.8,893.2 L679.8,891.7 L679.8,890.2 L679.9,888.6 L679.9,887.1 L679.9,885.6 L679.9,884.1 L680.0,882.6 L680.0,881.1 L680.0,879.6 L680.1,878.1 L680.1,876.6 L680.1,875.1 L680.2,873.6 L680.2,872.1 L680.2,870.6 L680.3,869.0 L680.3,867.5 L680.3,866.0 L680.4,864.5 L680.4,863.0 L680.5,861.5 L680.5,860.0 L680.6,859.0 L680.6,858.0 L680.7,857.0 L680.7,856.0 L680.8,855.0 L680.8,854.0 L680.9,853.0 L681.0,852.0 L681.0,851.0 L681.1,850.0 L681.1,849.0 L681.2,848.0 L681.2,847.0 L681.3,846.0 L681.4,845.0 L681.4,844.0 L681.5,843.0 L681.6,842.0 L681.7,841.0 L681.8,840.1 L681.9,839.1 L682.0,838.1 L682.1,837.1 L682.3,836.1 L682.4,835.1 L682.6,834.1 L682.7,833.1 L682.9,832.1 L683.1,831.2 L683.3,830.2 L683.5,829.2 L683.7,828.2 L683.9,827.2 L684.1,826.3 L684.3,825.3 L684.5,824.3 L684.7,823.3 L684.9,822.3 L685.1,821.4 L685.3,820.4 L685.4,819.4 L685.6,818.4 L685.8,817.4 L686.0,816.5 L686.2,815.5 L686.4,814.5 L686.6,813.5 L686.8,812.5 L687.0,811.6 L687.2,810.6 L687.4,809.6 L687.6,808.6 L687.8,807.6 L688.0,806.7 L688.2,805.7 L688.4,804.7 L688.6,803.7 L688.8,802.7 L689.0,801.8 L689.2,800.8 L689.4,799.8 L689.6,798.8 L689.8,797.8 L690.0,796.9 L690.2,795.9 L690.5,794.9 L690.7,793.9 L690.9,793.0 L691.1,792.0 L691.3,791.0 L691.5,790.0 L691.7,789.0 L691.9,788.1 L692.1,787.1 L692.3,786.1 L692.5,785.1 L692.7,784.2 L692.9,783.2 L693.1,782.2 L693.3,781.2 L693.5,780.2 L693.7,779.3 L693.9,778.3 L694.1,777.3 L694.3,776.3 L694.5,775.3 L694.7,774.4 L694.9,773.4 L695.1,772.4 L695.3,771.4 L695.5,770.4 L695.7,769.5 L695.9,768.5 L696.1,767.5 L696.3,766.5 L696.5,765.5 L696.6,764.6 L696.8,763.6 L697.0,762.6 L697.2,761.6 L697.4,760.6 L697.6,759.6 L697.8,758.7 L698.0,757.7 L698.1,756.7 L698.3,755.7 L698.5,754.7 L698.7,753.8 L698.9,752.8 L699.1,751.8 L699.2,750.8 L699.4,749.8 L699.6,748.8 L699.8,747.9 L700.0,746.9 L700.1,745.9 L700.3,744.9 L700.5,743.9 L700.7,742.9 L700.9,742.0 L701.0,741.0 L701.2,740.0 L701.4,739.0 L701.6,738.0 L701.7,737.0 L701.9,736.1 L702.1,735.1 L702.3,734.1 L702.4,733.1 L702.6,732.1 L702.8,731.1 L703.0,730.1 L703.1,729.2 L703.3,728.2 L703.5,727.2 L703.7,726.2 L703.8,725.2 L704.0,724.2 L704.2,723.3 L704.3,722.3 L704.5,721.3 L704.7,720.3 L704.8,719.3 L705.0,718.3 L705.2,717.3 L705.3,716.4 L705.5,715.4 L705.7,714.4 L705.8,713.4 L706.0,712.4 L706.2,711.4 L706.3,710.4 L706.5,709.5 L706.7,708.5 L706.8,707.5 L707.0,706.5 L707.2,705.5 L707.3,704.5 L707.5,703.5 L707.7,702.6 L707.8,701.6 L708.0,700.6 L708.2,699.6 L708.3,698.6 L708.5,697.6 L708.6,696.6 L708.8,695.7 L709.0,694.7 L709.1,693.7 L709.3,692.7 L709.5,691.7 L709.6,690.7 L709.8,689.7 L709.9,688.7 L710.1,687.8 L710.3,686.8 L710.4,685.8 L710.6,684.8 L710.7,683.8 L710.9,682.8 L711.1,681.8 L711.2,680.9 L711.4,679.9 L711.5,678.9 L711.7,677.9 L711.9,676.9 L712.0,675.9 L712.2,674.9 L712.3,673.9 L712.5,673.0 L712.6,672.0 L712.8,671.0 L713.0,670.0 L713.1,669.0 L713.3,668.0 L713.4,667.0 L713.6,666.0 L713.8,665.1 L713.9,664.1 L714.1,663.1 L714.2,662.1 L714.4,661.1 L714.5,660.1 L714.7,659.1 L714.9,658.2 L715.0,657.2 L715.2,656.2 L715.3,655.2 L715.5,654.2 L715.6,653.2 L715.8,652.2 L716.0,651.2 L716.1,650.3 L716.3,649.3 L716.4,648.3 L716.6,647.3 L716.7,646.3 L716.9,645.3 L717.1,644.3 L717.2,643.3 L717.4,642.4 L717.5,641.4 L717.7,640.4 L717.8,639.4 L718.0,638.4 L718.2,637.4 L718.3,636.4 L718.5,635.5 L718.6,634.5 L718.8,633.5 L718.9,632.5 L719.1,631.5 L719.3,630.5 L719.4,629.5 L719.6,628.5 L719.7,627.6 L719.9,626.6 L720.1,625.6 L720.2,624.6 L720.4,623.6 L720.5,622.6 L720.7,621.6 L720.9,620.6 L721.0,619.7 L721.2,618.7 L721.3,617.7 L721.5,616.7 L721.7,615.7 L721.8,614.7 L722.0,613.7 L722.1,612.8 L722.3,611.8 L722.5,610.8 L722.6,609.8 L722.8,608.8 L722.9,607.8 L723.1,606.8 L723.3,605.9 L723.4,604.9 L723.6,603.9 L723.8,602.9 L723.9,601.9 L724.1,600.9 L724.3,599.9 L724.4,598.9 L724.6,598.0 L724.7,597.0 L724.9,596.0 L725.1,595.0 L725.2,594.0 L725.4,593.0 L725.6,592.0 L725.7,591.1 L725.9,590.1 L726.1,589.1 L726.2,588.1 L726.4,587.1 L726.6,586.1 L726.8,585.2 L726.9,584.2 L727.1,583.2 L727.3,582.2 L727.4,581.2 L727.6,580.2 L727.8,579.2 L727.9,578.3 L728.1,577.3 L728.3,576.3 L728.5,575.3 L728.6,574.3 L728.8,573.3 L729.0,572.4 L729.2,571.4 L729.3,570.4 L729.5,569.4 L729.7,568.4 L729.9,567.4 L730.0,566.4 L730.2,565.5 L730.4,564.5 L730.6,563.5 L730.8,562.5 L731.0,561.5 L731.1,560.6 L731.3,559.6 L731.5,558.6 L731.7,557.6 L731.9,556.6 L732.1,555.6 L732.3,554.7 L732.5,553.7 L732.7,552.7 L732.9,551.7 L733.1,550.7 L733.3,549.8 L733.5,548.8 L733.7,547.8 L733.9,546.8 L734.1,545.9 L734.3,544.9 L734.5,543.9 L734.8,542.9 L735.0,542.0 L735.2,541.0 L735.4,540.0 L735.6,539.0 L735.9,538.1 L736.1,537.1 L736.3,536.1 L736.6,535.1 L736.8,534.2 L737.0,533.2 L737.3,532.2 L737.5,531.3 L737.8,530.3 L738.0,529.3 L738.3,528.4 L738.5,527.4 L738.8,526.4 L739.0,525.5 L739.3,524.5 L739.6,523.5 L739.8,522.6 L740.1,521.6 L740.4,520.6 L740.7,519.7 L740.9,518.7 L741.2,517.8 L741.5,516.8 L741.8,515.8 L742.1,514.9 L742.4,513.9 L742.7,513.0 L743.0,512.0 L743.3,511.1 L743.6,510.1 L743.9,509.2 L744.2,508.2 L744.5,507.3 L744.8,506.3 L745.1,505.4 L745.4,504.4 L745.8,503.5 L746.1,502.5 L746.4,501.6 L746.8,500.6 L747.1,499.7 L747.4,498.8 L747.8,497.8 L748.1,496.9 L748.4,495.9 L748.8,495.0 L749.1,494.1 L749.5,493.1 L749.8,492.2 L750.2,491.3 L750.6,490.3 L750.9,489.4 L751.3,488.5 L751.7,487.6 L752.1,486.6 L752.5,485.7 L752.9,484.8 L753.3,483.9 L753.7,483.0 L754.1,482.1 L754.6,481.2 L755.0,480.3 L755.5,479.4 L756.0,478.5 L756.4,477.6 L757.0,476.8 L757.5,475.9 L758.0,475.1 L758.6,474.3 L759.2,473.5 L759.8,472.7 L760.4,471.9 L761.1,471.2 L761.8,470.5 L762.6,469.8 L763.4,469.3 L764.3,468.8 L765.2,468.4 L766.2,468.1 L767.2,468.1 L768.1,468.2 L769.1,468.5 L770.0,469.0 L770.8,469.6 L771.6,470.2 L772.3,470.9 L773.0,471.6 L773.7,472.3 L774.3,473.1 L774.9,473.9 L775.6,474.7 L776.1,475.5 L776.7,476.3 L777.3,477.1 L777.9,477.9 L778.4,478.8 L779.0,479.6 L779.5,480.4 L780.1,481.3 L780.6,482.1 L781.1,483.0 L781.6,483.8 L782.1,484.7 L782.7,485.5 L783.2,486.4 L783.6,487.3 L784.1,488.1 L784.6,489.0 L785.1,489.9 L785.6,490.8 L786.0,491.7 L786.5,492.6 L787.0,493.4 L787.4,494.3 L787.8,495.2 L788.3,496.1 L788.7,497.0 L789.1,497.9 L789.6,498.8 L790.0,499.8 L790.4,500.7 L790.8,501.6 L791.2,502.5 L791.6,503.4 L791.9,504.3 L792.3,505.3 L792.7,506.2 L793.1,507.1 L793.4,508.1 L793.8,509.0 L794.1,509.9 L794.5,510.9 L794.8,511.8 L795.2,512.7 L795.5,513.7 L795.8,514.6 L796.2,515.6 L796.5,516.5 L796.8,517.5 L797.1,518.4 L797.4,519.4 L797.7,520.3 L798.0,521.3 L798.3,522.2 L798.6,523.2 L798.9,524.1 L799.2,525.1 L799.4,526.1 L799.7,527.0 L800.0,528.0 L800.3,528.9 L800.5,529.9 L800.8,530.9 L801.0,531.8 L801.3,532.8 L801.5,533.8 L801.8,534.8 L802.0,535.7 L802.3,536.7 L802.5,537.7 L802.7,538.6 L802.9,539.6 L803.2,540.6 L803.4,541.6 L803.6,542.5 L803.8,543.5 L804.0,544.5 L804.3,545.5 L804.5,546.4 L804.7,547.4 L804.9,548.4 L805.1,549.4 L805.3,550.4 L805.5,551.3 L805.7,552.3 L805.9,553.3 L806.1,554.3 L806.2,555.3 L806.4,556.2 L806.6,557.2 L806.8,558.2 L807.0,559.2 L807.2,560.2 L807.3,561.2 L807.5,562.1 L807.7,563.1 L807.9,564.1 L808.0,565.1 L808.2,566.1 L808.4,567.1 L808.6,568.0 L808.7,569.0 L808.9,570.0 L809.1,571.0 L809.2,572.0 L809.4,573.0 L809.6,574.0 L809.7,574.9 L809.9,575.9 L810.0,576.9 L810.2,577.9 L810.4,578.9 L810.5,579.9 L810.7,580.9 L810.8,581.9 L811.0,582.8 L811.1,583.8 L811.3,584.8 L811.4,585.8 L811.6,586.8 L811.7,587.8 L811.9,588.8 L812.1,589.8 L812.2,590.7 L812.4,591.7 L812.5,592.7 L812.7,593.7 L812.8,594.7 L813.0,595.7 L813.1,596.7 L813.3,597.7 L813.4,598.6 L813.6,599.6 L813.7,600.6 L813.9,601.6 L814.0,602.6 L814.2,603.6 L814.4,604.6 L814.5,605.6 L814.7,606.5 L814.8,607.5 L815.0,608.5 L815.1,609.5 L815.3,610.5 L815.5,611.5 L815.6,612.5 L815.8,613.5 L815.9,614.4 L816.1,615.4 L816.3,616.4 L816.4,617.4 L816.6,618.4 L816.8,619.4 L816.9,620.4 L817.1,621.3 L817.3,622.3 L817.4,623.3 L817.6,624.3 L817.8,625.3 L818.0,626.3 L818.1,627.2 L818.3,628.2 L818.5,629.2 L818.7,630.2 L818.9,631.2 L819.1,632.2 L819.2,633.1 L819.4,634.1 L819.6,635.1 L819.8,636.1 L820.0,637.1 L820.2,638.0 L820.4,639.0 L820.6,640.0 L820.8,641.0 L821.0,642.0 L821.2,642.9 L821.4,643.9 L821.6,644.9 L821.8,645.9 L822.0,646.8 L822.3,647.8 L822.5,648.8 L822.7,649.8 L822.9,650.8 L823.1,651.7 L823.3,652.7 L823.6,653.7 L823.8,654.7 L824.0,655.6 L824.2,656.6 L824.4,657.6 L824.7,658.6 L824.9,659.5 L825.1,660.5 L825.3,661.5 L825.6,662.4 L825.8,663.4 L826.0,664.4 L826.3,665.4 L826.5,666.3 L826.7,667.3 L827.0,668.3 L827.2,669.3 L827.4,670.2 L827.7,671.2 L827.9,672.2 L828.1,673.1 L828.4,674.1 L828.6,675.1 L828.8,676.1 L829.1,677.0 L829.3,678.0 L829.6,679.0 L829.8,679.9 L830.0,680.9 L830.3,681.9 L830.5,682.8 L830.8,683.8 L831.0,684.8 L831.2,685.8 L831.5,686.7 L831.7,687.7 L832.0,688.7 L832.2,689.6 L832.5,690.6 L832.7,691.6 L832.9,692.5 L833.2,693.5 L833.4,694.5 L833.7,695.5 L833.9,696.4 L834.1,697.4 L834.4,698.4 L834.6,699.3 L834.9,700.3 L835.1,701.3 L835.4,702.2 L835.6,703.2 L835.8,704.2 L836.1,705.2 L836.3,706.1 L836.6,707.1 L836.8,708.1 L837.0,709.0 L837.3,710.0 L837.5,711.0 L837.8,711.9 L838.0,712.9 L838.2,713.9 L838.5,714.9 L838.7,715.8 L838.9,716.8 L839.2,717.8 L839.4,718.7 L839.6,719.7 L839.9,720.7 L840.1,721.7 L840.3,722.6 L840.6,723.6 L840.8,724.6 L841.0,725.6 L841.2,726.5 L841.5,727.5 L841.7,728.5 L841.9,729.4 L842.1,730.4 L842.4,731.4 L842.6,732.4 L842.8,733.3 L843.0,734.3 L843.2,735.3 L843.5,736.3 L843.7,737.3 L843.9,738.2 L844.1,739.2 L844.3,740.2 L844.5,741.2 L844.7,742.1 L844.9,743.1 L845.1,744.1 L845.3,745.1 L845.5,746.1 L845.7,747.0 L845.9,748.0 L846.1,749.0 L846.3,750.0 L846.5,751.0 L846.7,751.9 L846.9,752.9 L847.1,753.9 L847.3,754.9 L847.5,755.9 L847.7,756.8 L847.8,757.8 L848.0,758.8 L848.2,759.8 L848.4,760.8 L848.5,761.8 L848.7,762.7 L848.9,763.7 L849.1,764.7 L849.2,765.7 L849.4,766.7 L849.6,767.7 L849.7,768.7 L849.9,769.6 L850.0,770.6 L850.2,771.6 L850.3,772.6 L850.5,773.6 L850.6,774.6 L850.8,775.6 L850.9,776.6 L851.1,777.6 L851.2,778.5 L851.3,779.5 L851.5,780.5 L851.6,781.5 L851.7,782.5 L851.8,783.5 L852.0,784.5 L852.1,785.5 L852.2,786.5 L852.3,787.5 L852.4,788.5 L852.5,789.5 L852.7,790.4 L852.8,791.4 L852.9,792.4 L853.0,793.4 L853.1,794.4 L853.2,795.4 L853.4,796.4 L853.6,797.4 L853.7,798.3 L854.0,799.3 L854.2,800.3 L854.4,801.3 L854.6,802.2 L854.9,803.2 L855.1,804.2 L855.3,805.2 L855.6,806.1 L855.8,807.1 L856.1,808.1 L856.3,809.0 L856.6,810.0 L856.9,811.0 L857.2,811.9 L857.5,812.9 L857.8,813.8 L858.2,814.7 L858.6,815.7 L859.0,816.6 L859.4,817.5 L859.9,818.3 L860.3,819.2 L860.8,820.1 L861.3,821.0 L861.9,821.8 L862.4,822.7 L863.0,823.5 L863.5,824.3 L864.1,825.1 L864.7,825.9 L865.3,826.7 L865.9,827.5 L866.6,828.3 L867.2,829.0 L867.9,829.8 L868.6,830.5 L869.3,831.2 L870.0,831.9 L870.8,832.5 L871.5,833.2 L872.3,833.8 L873.1,834.4 L873.9,835.0 L874.8,835.5 L875.6,836.1 L876.5,836.6 L877.4,837.0 L878.3,837.4 L879.2,837.8 L880.1,838.3 L881.0,838.7 L881.5,839.5 L882.1,840.4 L882.7,841.2 L883.3,842.0 L883.8,842.8 L884.3,843.7 L884.8,844.6 L885.1,845.5 L885.4,846.5 L885.7,847.4 L885.9,848.4 L886.1,849.4 L886.3,850.4 L886.4,851.4 L886.6,852.4 L886.7,853.4 L886.8,854.3 L886.9,855.3 L887.0,856.3 L887.1,857.3 L887.2,858.3 L887.3,859.3 L887.3,860.3 L887.4,861.3 L887.5,862.3 L887.6,863.3 L887.6,864.3 L887.7,865.3 L887.7,866.3 L887.8,867.3 L887.9,868.3 L887.9,869.3 L888.0,870.3 L888.1,871.3 L888.2,872.3 L888.2,873.3 L888.3,874.3 L888.4,875.3 L888.5,876.3 L888.6,877.3 L888.7,878.3 L888.8,879.3 L888.9,880.3 L889.0,881.3 L889.1,882.3 L889.2,883.3 L889.2,884.3 L889.3,885.2 L889.4,886.2 L889.5,887.2 L889.6,888.2 L889.7,889.2 L889.8,890.2 L890.0,891.2 L890.1,892.2 L890.3,893.2 L890.5,894.2 L890.7,895.1 L891.0,896.1 L891.3,897.1 L891.5,898.0 L891.8,899.0 L892.1,899.9 L892.4,900.9 L892.8,901.8 L893.3,902.7 L893.9,903.5 L894.8,903.5 L895.4,902.7 L895.8,901.8 L896.2,900.9 L896.6,899.9 L896.9,899.0 L897.3,898.1 L897.6,897.1 L897.9,896.2 L898.2,895.2 L898.5,894.3 L898.9,893.3 L899.2,892.4 L899.5,891.4 L899.8,890.5 L900.1,889.5 L900.4,888.5 L900.7,887.6 L900.9,886.6 L901.2,885.7 L901.4,884.7 L901.7,883.7 L902.0,882.8 L902.2,881.8 L902.5,880.8 L902.7,879.9 L903.0,878.9 L903.2,877.9 L903.5,877.0 L903.8,876.0 L904.1,875.0 L904.3,874.1 L904.6,873.1 L904.9,872.2 L905.1,871.2 L905.4,870.2 L905.7,869.3 L906.0,868.3 L906.2,867.3 L906.5,866.4 L906.7,865.4 L907.0,864.4 L907.2,863.5 L907.5,862.5 L907.7,861.5 L907.9,860.5 L908.2,859.6 L908.4,858.6 L908.6,857.6 L908.8,856.6 L909.0,855.7 L909.2,854.7 L909.4,853.7 L909.6,852.7 L909.8,851.7 L910.0,850.8 L910.2,849.8 L910.4,848.8 L910.6,847.8 L910.8,846.8 L911.0,845.9 L911.1,844.9 L911.3,843.9 L911.4,842.9 L911.6,841.9 L911.7,840.9 L911.9,839.9 L912.0,838.9 L912.2,837.9 L912.3,837.0 L912.5,836.0 L912.6,835.0 L912.7,834.0 L912.9,833.0 L913.0,832.0 L913.2,831.0 L913.3,830.0 L913.4,829.0 L913.6,828.0 L913.7,827.1 L913.8,826.1 L914.0,825.1 L914.1,824.1 L914.2,823.1 L914.4,822.1 L914.5,821.1 L914.6,820.1 L914.8,819.1 L914.9,818.1 L915.0,817.1 L915.2,816.1 L915.3,815.2 L915.4,814.2 L915.6,813.2 L915.7,812.2 L915.8,811.2 L915.9,810.2 L916.1,809.2 L916.2,808.2 L916.3,807.2 L916.5,806.2 L916.6,805.2 L916.7,804.2 L916.8,803.3 L917.0,802.3 L917.1,801.3 L917.2,800.3 L917.3,799.3 L917.5,798.3 L917.6,797.3 L917.7,796.3 L917.8,795.3 L917.9,794.3 L918.1,793.3 L918.2,792.3 L918.3,791.3 L918.4,790.3 L918.5,789.4 L918.7,788.4 L918.8,787.4 L918.9,786.4 L919.0,785.4 L919.1,784.4 L919.2,783.4 L919.4,782.4 L919.5,781.4 L919.6,780.4 L919.7,779.4 L919.8,778.4 L919.9,777.4 L920.0,776.4 L920.2,775.4 L920.3,774.4 L920.4,773.5 L920.5,772.5 L920.6,771.5 L920.7,770.5 L920.8,769.5 L920.9,768.5 L921.1,767.5 L921.2,766.5 L921.3,765.5 L921.4,764.5 L921.5,763.5 L921.6,762.5 L921.7,761.5 L921.8,760.5 L921.9,759.5 L922.0,758.5 L922.1,757.5 L922.2,756.6 L922.3,755.6 L922.5,754.6 L922.6,753.6 L922.7,752.6 L922.8,751.6 L922.9,750.6 L923.0,749.6 L923.1,748.6 L923.2,747.6 L923.3,746.6 L923.4,745.6 L923.5,744.6 L923.6,743.6 L923.7,742.6 L923.8,741.6 L923.9,740.6 L924.0,739.6 L924.1,738.6 L924.2,737.6 L924.3,736.7 L924.4,735.7 L924.5,734.7 L924.6,733.7 L924.7,732.7 L924.8,731.7 L924.9,730.7 L925.0,729.7 L925.1,728.7 L925.2,727.7 L925.3,726.7 L925.4,725.7 L925.5,724.7 L925.6,723.7 L925.7,722.7 L925.8,721.7 L925.9,720.7 L926.0,719.7 L926.1,718.7 L926.2,717.7 L926.2,716.7 L926.3,715.7 L926.4,714.8 L926.5,713.8 L926.6,712.8 L926.7,711.8 L926.8,710.8 L926.9,709.8 L927.0,708.8 L927.1,707.8 L927.2,706.8 L927.3,705.8 L927.4,704.8 L927.5,703.8 L927.5,702.8 L927.6,701.8 L927.7,700.8 L927.8,699.8 L927.9,698.8 L928.0,697.8 L928.1,696.8 L928.2,695.8 L928.3,694.8 L928.4,693.8 L928.5,692.8 L928.5,691.8 L928.6,690.8 L928.7,689.9 L928.8,688.9 L928.9,687.9 L929.0,686.9 L929.1,685.9 L929.2,684.9 L929.3,683.9 L929.3,682.9 L929.4,681.9 L929.5,680.9 L929.6,679.9 L929.7,678.9 L929.8,677.9 L929.9,676.9 L930.0,675.9 L930.0,674.9 L930.1,673.9 L930.2,672.9 L930.3,671.9 L930.4,670.9 L930.5,669.9 L930.6,668.9 L930.6,667.9 L930.7,666.9 L930.8,665.9 L930.9,664.9 L931.0,663.9 L931.1,662.9 L931.2,662.0 L931.2,661.0 L931.3,660.0 L931.4,659.0 L931.5,658.0 L931.6,657.0 L931.7,656.0 L931.8,655.0 L931.8,654.0 L931.9,653.0 L932.0,652.0 L932.1,651.0 L932.2,650.0 L932.3,649.0 L932.3,648.0 L932.4,647.0 L932.5,646.0 L932.6,645.0 L932.7,644.0 L932.8,643.0 L932.8,642.0 L932.9,641.0 L933.0,640.0 L933.1,639.0 L933.2,638.0 L933.3,637.0 L933.3,636.0 L933.4,635.0 L933.5,634.0 L933.6,633.0 L933.7,632.1 L933.8,631.1 L933.8,630.1 L933.9,629.1 L934.0,628.1 L934.1,627.1 L934.2,626.1 L934.3,625.1 L934.3,624.1 L934.4,623.1 L934.5,622.1 L934.6,621.1 L934.7,620.1 L934.8,619.1 L934.8,618.1 L934.9,617.1 L935.0,616.1 L935.1,615.1 L935.2,614.1 L935.3,613.1 L935.3,612.1 L935.4,611.1 L935.5,610.1 L935.6,609.1 L935.7,608.1 L935.8,607.1 L935.8,606.1 L935.9,605.1 L936.0,604.1 L936.1,603.1 L936.2,602.1 L936.3,601.2 L936.3,600.2 L936.4,599.2 L936.5,598.2 L936.6,597.2 L936.7,596.2 L936.8,595.2 L936.8,594.2 L936.9,593.2 L937.0,592.2 L937.1,591.2 L937.2,590.2 L937.3,589.2 L937.3,588.2 L937.4,587.2 L937.5,586.2 L937.6,585.2 L937.7,584.2 L937.8,583.2 L937.9,582.2 L937.9,581.2 L938.0,580.2 L938.1,579.2 L938.2,578.2 L938.3,577.2 L938.4,576.2 L938.5,575.2 L938.5,574.2 L938.6,573.2 L938.7,572.2 L938.8,571.3 L938.9,570.3 L939.0,569.3 L939.1,568.3 L939.1,567.3 L939.2,566.3 L939.3,565.3 L939.4,564.3 L939.5,563.3 L939.6,562.3 L939.7,561.3 L939.7,560.3 L939.8,559.3 L939.9,558.3 L940.0,557.3 L940.1,556.3 L940.2,555.3 L940.3,554.3 L940.4,553.3 L940.5,552.3 L940.5,551.3 L940.6,550.3 L940.7,549.3 L940.8,548.3 L940.9,547.3 L941.0,546.3 L941.1,545.3 L941.2,544.4 L941.3,543.4 L941.3,542.4 L941.4,541.4 L941.5,540.4 L941.6,539.4 L941.7,538.4 L941.8,537.4 L941.9,536.4 L942.0,535.4 L942.1,534.4 L942.2,533.4 L942.3,532.4 L942.4,531.4 L942.4,530.4 L942.5,529.4 L942.6,528.4 L942.7,527.4 L942.8,526.4 L942.9,525.4 L943.0,524.4 L943.1,523.4 L943.2,522.4 L943.3,521.4 L943.4,520.4 L943.5,519.5 L943.6,518.5 L943.7,517.5 L943.8,516.5 L943.9,515.5 L944.0,514.5 L944.1,513.5 L944.2,512.5 L944.3,511.5 L944.3,510.5 L944.4,509.5 L944.5,508.5 L944.6,507.5 L944.7,506.5 L944.8,505.5 L944.9,504.5 L945.0,503.5 L945.1,502.5 L945.2,501.5 L945.3,500.5 L945.4,499.5 L945.5,498.5 L945.6,497.6 L945.7,496.6 L945.8,495.6 L945.9,494.6 L946.1,493.6 L946.2,492.6 L946.3,491.6 L946.4,490.6 L946.5,489.6 L946.6,488.6 L946.7,487.6 L946.8,486.6 L946.9,485.6 L947.0,484.6 L947.1,483.6 L947.2,482.6 L947.3,481.6 L947.4,480.6 L947.5,479.6 L947.6,478.7 L947.7,477.7 L947.8,476.7 L948.0,475.7 L948.1,474.7 L948.2,473.7 L948.3,472.7 L948.4,471.7 L948.5,470.7 L948.6,469.7 L948.7,468.7 L948.8,467.7 L948.9,466.7 L949.1,465.7 L949.2,464.7 L949.3,463.7 L949.4,462.7 L949.5,461.8 L949.6,460.8 L949.7,459.8 L949.9,458.8 L950.0,457.8 L950.1,456.8 L950.2,455.8 L950.3,454.8 L950.4,453.8 L950.6,452.8 L950.7,451.8 L950.8,450.8 L950.9,449.8 L951.0,448.8 L951.1,447.8 L951.3,446.9 L951.4,445.9 L951.5,444.9 L951.6,443.9 L951.7,442.9 L951.9,441.9 L952.0,440.9 L952.1,439.9 L952.2,438.9 L952.4,437.9 L952.5,436.9 L952.6,435.9 L952.7,434.9 L952.9,433.9 L953.0,433.0 L953.1,432.0 L953.2,431.0 L953.4,430.0 L953.5,429.0 L953.6,428.0 L953.8,427.0 L953.9,426.0 L954.0,425.0 L954.1,424.0 L954.3,423.0 L954.4,422.0 L954.5,421.1 L954.7,420.1 L954.8,419.1 L954.9,418.1 L955.1,417.1 L955.2,416.1 L955.3,415.1 L955.5,414.1 L955.6,413.1 L955.7,412.1 L955.9,411.1 L956.0,410.2 L956.2,409.2 L956.3,408.2 L956.5,407.2 L956.6,406.2 L956.8,405.2 L957.0,404.2 L957.1,403.2 L957.3,402.3 L957.5,401.3 L957.6,400.3 L957.8,399.3 L958.0,398.3 L958.2,397.3 L958.4,396.4 L958.6,395.4 L958.8,394.4 L959.0,393.4 L959.3,392.5 L959.6,391.5 L959.9,390.5 L960.2,389.6 L960.5,388.7 L961.0,387.8 L961.8,387.4 L962.3,388.2 L962.7,389.1 L963.0,390.1 L963.3,391.0 L963.6,392.0 L963.8,393.0 L964.0,394.0 L964.1,395.0 L964.3,395.9 L964.3,396.9 L964.4,397.9 L964.5,398.9 L964.6,399.9 L964.7,400.9 L964.7,401.9 L964.8,402.9 L964.8,403.9 L964.9,404.9 L964.9,405.9 L965.0,406.9 L965.1,407.9 L965.1,408.9 L965.2,409.9 L965.3,410.9 L965.4,411.9 L965.5,412.9 L965.5,413.9 L965.6,414.9 L965.7,415.9 L965.7,416.9 L965.8,417.9 L965.9,418.9 L965.9,419.9 L966.0,420.9 L966.1,421.9 L966.1,422.9 L966.2,423.9 L966.3,424.9 L966.4,425.9 L966.5,426.9 L966.6,427.9 L966.7,428.9 L966.9,429.9 L967.0,430.8 L967.2,431.8 L967.4,432.8 L967.5,433.8 L967.8,434.8 L968.0,435.7 L968.2,436.7 L968.4,437.7 L968.7,438.7 L969.0,439.6 L969.3,440.6 L969.6,441.5 L970.1,442.4 L970.6,443.3 L971.3,444.0 L972.1,444.5 L973.1,444.3 L974.0,443.8 L974.7,443.2 L975.5,442.5 L976.2,441.9 L977.0,441.2 L977.7,440.6 L978.6,440.0 L979.4,439.5 L980.3,439.0 L981.2,438.5 L982.1,438.1 L983.0,437.7 L984.0,437.5 L985.0,437.6 L985.9,437.9 L986.8,438.4 L987.5,439.1 L988.2,439.8 L988.8,440.6 L989.4,441.4 L989.9,442.3 L990.5,443.1 L991.0,443.9 L991.6,444.8 L992.1,445.6 L992.6,446.5 L993.1,447.4 L993.5,448.2 L994.0,449.1 L994.4,450.0 L994.8,451.0 L995.2,451.9 L995.6,452.8 L996.1,453.7 L996.5,454.6 L996.9,455.5 L997.3,456.4 L997.7,457.3 L998.2,458.2 L998.6,459.1 L999.0,460.0 L999.5,460.9 L999.9,461.8 L1000.3,462.7 L1000.7,463.7 L1001.2,464.6 L1001.6,465.5 L1002.0,466.4 L1002.5,467.2 L1003.0,468.1 L1003.5,469.0 L1004.0,469.8 L1004.6,470.7 L1005.2,471.5 L1005.8,472.2 L1006.5,472.9 L1007.3,473.6 L1008.0,474.3 L1008.7,475.0 L1008.9,474.0 L1009.0,473.0 L1009.2,472.0 L1009.4,471.1 L1009.5,470.1 L1009.7,469.1 L1009.9,468.1 L1010.1,467.1 L1010.2,466.1 L1010.4,465.1 L1010.6,464.2 L1010.7,463.2 L1010.9,462.2 L1011.1,461.2 L1011.2,460.2 L1011.4,459.2 L1011.5,458.2 L1011.7,457.2 L1011.8,456.2 L1011.9,455.3 L1012.0,454.3 L1012.2,453.3 L1012.3,452.3 L1012.4,451.3 L1012.5,450.3 L1012.5,449.3 L1012.6,448.3 L1012.7,447.3 L1012.8,446.3 L1012.9,445.3 L1012.9,444.3 L1013.0,443.3 L1013.1,442.3 L1013.1,441.3 L1013.2,440.3 L1013.2,439.3 L1013.3,438.3 L1013.3,437.3 L1013.4,436.3 L1013.4,435.3 L1013.5,434.3 L1013.5,433.3 L1013.6,432.3 L1013.6,431.3 L1013.7,430.3 L1013.7,429.3 L1013.7,428.3 L1013.8,427.3 L1013.8,426.3 L1013.9,425.3 L1013.9,424.3 L1013.9,423.3 L1014.0,422.3 L1014.0,421.3 L1014.0,420.3 L1014.1,419.3 L1014.1,418.3 L1014.2,417.3 L1014.2,416.3 L1014.2,415.3 L1014.3,414.3 L1014.3,413.3 L1014.4,412.3 L1014.4,411.3 L1014.4,410.3 L1014.5,409.3 L1014.5,408.3 L1014.6,407.3 L1014.6,406.3 L1014.7,405.3 L1014.7,404.3 L1014.7,403.3 L1014.8,402.3 L1014.8,401.3 L1014.8,400.3 L1014.9,399.3 L1014.9,398.3 L1014.9,397.3 L1015.0,396.3 L1015.0,395.3 L1015.0,394.3 L1015.1,393.3 L1015.1,392.3 L1015.1,391.3 L1015.2,390.3 L1015.2,389.3 L1015.2,388.3 L1015.3,387.3 L1015.3,386.3 L1015.3,385.3 L1015.4,384.3 L1015.4,383.3 L1015.5,382.3 L1015.6,381.3 L1015.6,380.3 L1015.7,379.3 L1015.8,378.3 L1015.9,377.3 L1016.0,376.3 L1016.1,375.3 L1016.2,374.3 L1016.3,373.3 L1016.4,372.4 L1016.5,371.4 L1016.7,370.4 L1016.8,369.4 L1017.0,368.4 L1017.1,367.4 L1017.3,366.4 L1017.5,365.4 L1017.7,364.5 L1018.0,363.5 L1018.3,362.5 L1018.7,361.6 L1019.1,360.7 L1019.5,359.8 L1020.0,359.0 L1020.7,358.2 L1021.4,357.5 L1022.3,357.0 L1023.2,356.6 L1024.1,356.2 L1025.1,355.9 L1026.1,355.7 L1027.0,355.7 L1028.0,356.0 L1028.8,356.6 L1029.4,357.4 L1029.9,358.3 L1030.3,359.2 L1030.6,360.2 L1030.9,361.1 L1031.2,362.1 L1031.5,363.0 L1031.7,364.0 L1032.0,365.0 L1032.2,365.9 L1032.5,366.9 L1032.7,367.9 L1033.0,368.9 L1033.2,369.8 L1033.4,370.8 L1033.7,371.8 L1033.9,372.7 L1034.1,373.7 L1034.3,374.7 L1034.5,375.7 L1034.7,376.7 L1034.9,377.6 L1035.1,378.6 L1035.3,379.6 L1035.4,380.6 L1035.6,381.6 L1035.8,382.6 L1035.9,383.6 L1036.1,384.5 L1036.2,385.5 L1036.4,386.5 L1036.5,387.5 L1036.7,388.5 L1036.8,389.5 L1037.0,390.5 L1037.1,391.5 L1037.3,392.5 L1037.4,393.5 L1037.5,394.4 L1037.7,395.4 L1037.8,396.4 L1038.0,397.4 L1038.1,398.4 L1038.2,399.4 L1038.4,400.4 L1038.5,401.4 L1038.6,402.4 L1038.8,403.4 L1038.9,404.4 L1039.0,405.3 L1039.2,406.3 L1039.3,407.3 L1039.4,408.3 L1039.5,409.3 L1039.6,410.3 L1039.7,411.3 L1039.8,412.3 L1039.9,413.3 L1040.1,414.3 L1040.2,415.3 L1040.3,416.3 L1040.4,417.3 L1040.5,418.3 L1040.6,419.3 L1040.7,420.3 L1040.8,421.3 L1040.9,422.3 L1041.0,423.3 L1041.1,424.2 L1041.2,425.2 L1041.3,426.2 L1041.4,427.2 L1041.5,428.2 L1041.6,429.2 L1041.8,430.2 L1041.9,431.2 L1042.0,432.2 L1042.2,433.2 L1042.3,434.2 L1042.4,435.2 L1042.5,436.2 L1042.7,437.2 L1042.8,438.1 L1042.9,439.1 L1043.1,440.1 L1043.2,441.1 L1043.3,442.1 L1043.5,443.1 L1043.6,444.1 L1043.8,445.1 L1044.0,446.1 L1044.1,447.1 L1044.3,448.0 L1044.5,449.0 L1044.7,450.0 L1044.9,451.0 L1045.1,452.0 L1045.2,453.0 L1045.4,453.9 L1045.6,454.9 L1045.8,455.9 L1046.0,456.9 L1046.2,457.9 L1046.3,458.9 L1046.5,459.8 L1046.7,460.8 L1046.9,461.8 L1047.1,462.8 L1047.2,463.8 L1047.4,464.8 L1047.6,465.7 L1047.8,466.7 L1048.0,467.7 L1048.1,468.7 L1048.3,469.7 L1048.5,470.7 L1048.7,471.7 L1048.8,472.6 L1049.0,473.6 L1049.2,474.6 L1049.3,475.6 L1049.5,476.6 L1049.7,477.6 L1049.9,478.6 L1050.0,479.5 L1050.2,480.5 L1050.4,481.5 L1050.5,482.5 L1050.7,483.5 L1050.9,484.5 L1051.0,485.5 L1051.2,486.4 L1051.4,487.4 L1051.5,488.4 L1051.7,489.4 L1051.8,490.4 L1052.0,491.4 L1052.2,492.4 L1052.3,493.4 L1052.5,494.3 L1052.6,495.3 L1052.8,496.3 L1053.0,497.3 L1053.1,498.3 L1053.3,499.3 L1053.4,500.3 L1053.6,501.3 L1053.7,502.2 L1053.9,503.2 L1054.1,504.2 L1054.2,505.2 L1054.4,506.2 L1054.5,507.2 L1054.7,508.2 L1054.8,509.2 L1055.0,510.2 L1055.1,511.1 L1055.3,512.1 L1055.4,513.1 L1055.6,514.1 L1055.7,515.1 L1055.8,516.1 L1056.0,517.1 L1056.1,518.1 L1056.3,519.1 L1056.4,520.1 L1056.6,521.0 L1056.7,522.0 L1056.9,523.0 L1057.0,524.0 L1057.1,525.0 L1057.3,526.0 L1057.4,527.0 L1057.6,528.0 L1057.7,529.0 L1057.8,530.0 L1058.0,531.0 L1058.1,531.9 L1058.3,532.9 L1058.4,533.9 L1058.5,534.9 L1058.7,535.9 L1058.8,536.9 L1058.9,537.9 L1059.1,538.9 L1059.2,539.9 L1059.3,540.9 L1059.5,541.9 L1059.6,542.9 L1059.7,543.8 L1059.9,544.8 L1060.0,545.8 L1060.1,546.8 L1060.2,547.8 L1060.4,548.8 L1060.5,549.8 L1060.6,550.8 L1060.8,551.8 L1060.9,552.8 L1061.0,553.8 L1061.1,554.8 L1061.3,555.8 L1061.4,556.7 L1061.5,557.7 L1061.6,558.7 L1061.7,559.7 L1061.9,560.7 L1062.0,561.7 L1062.1,562.7 L1062.2,563.7 L1062.4,564.7 L1062.5,565.7 L1062.6,566.7 L1062.7,567.7 L1062.8,568.7 L1062.9,569.7 L1063.1,570.7 L1063.2,571.6 L1063.3,572.6 L1063.4,573.6 L1063.5,574.6 L1063.6,575.6 L1063.7,576.6 L1063.9,577.6 L1064.0,578.6 L1064.1,579.6 L1064.2,580.6 L1064.3,581.6 L1064.4,582.6 L1064.5,583.6 L1064.6,584.6 L1064.8,585.6 L1064.9,586.6 L1065.0,587.6 L1065.1,588.5 L1065.2,589.5 L1065.3,590.5 L1065.4,591.5 L1065.5,592.5 L1065.6,593.5 L1065.7,594.5 L1065.8,595.5 L1065.9,596.5 L1066.0,597.5 L1066.1,598.5 L1066.2,599.5 L1066.3,600.5 L1066.4,601.5 L1066.5,602.5 L1066.6,603.5 L1066.7,604.5 L1066.8,605.5 L1066.9,606.5 L1067.0,607.5 L1067.1,608.5 L1067.2,609.4 L1067.3,610.4 L1067.4,611.4 L1067.5,612.4 L1067.6,613.4 L1067.7,614.4 L1067.8,615.4 L1067.9,616.4 L1068.0,617.4 L1068.1,618.4 L1068.2,619.4 L1068.3,620.4 L1068.4,621.4 L1068.5,622.4 L1068.6,623.4 L1068.7,624.4 L1068.7,625.4 L1068.8,626.4 L1068.9,627.4 L1069.0,628.4 L1069.1,629.4 L1069.2,630.4 L1069.3,631.4 L1069.4,632.4 L1069.5,633.4 L1069.5,634.4 L1069.6,635.4 L1069.7,636.3 L1069.8,637.3 L1069.9,638.3 L1070.0,639.3 L1070.1,640.3 L1070.1,641.3 L1070.2,642.3 L1070.3,643.3 L1070.4,644.3 L1070.5,645.3 L1070.6,646.3 L1070.6,647.3 L1070.7,648.3 L1070.8,649.3 L1070.9,650.3 L1071.0,651.3 L1071.0,652.3 L1071.1,653.3 L1071.2,654.3 L1071.3,655.3 L1071.4,656.3 L1071.4,657.3 L1071.5,658.3 L1071.6,659.3 L1071.7,660.3 L1071.7,661.3 L1071.8,662.3 L1071.9,663.3 L1072.0,664.3 L1072.0,665.3 L1072.1,666.3 L1072.2,667.3 L1072.3,668.3 L1072.3,669.3 L1072.4,670.3 L1072.5,671.3 L1072.6,672.3 L1072.6,673.3 L1072.7,674.3 L1072.8,675.3 L1072.8,676.2 L1072.9,677.2 L1073.0,678.2 L1073.1,679.2 L1073.1,680.2 L1073.2,681.2 L1073.3,682.2 L1073.3,683.2 L1073.4,684.2 L1073.5,685.2 L1073.5,686.2 L1073.6,687.2 L1073.7,688.2 L1073.7,689.2 L1073.8,690.2 L1073.9,691.2 L1073.9,692.2 L1074.0,693.2 L1074.1,694.2 L1074.1,695.2 L1074.2,696.2 L1074.3,697.2 L1074.3,698.2 L1074.4,699.2 L1074.4,700.2 L1074.5,701.2 L1074.6,702.2 L1074.6,703.2 L1074.7,704.2 L1074.8,705.2 L1074.8,706.2 L1074.9,707.2 L1074.9,708.2 L1075.0,709.2 L1075.1,710.2 L1075.1,711.2 L1075.2,712.2 L1075.2,713.2 L1075.3,714.2 L1075.4,715.2 L1075.4,716.2 L1075.5,717.2 L1075.5,718.2 L1075.6,719.2 L1075.6,720.2 L1075.7,721.2 L1075.7,722.2 L1075.8,723.2 L1075.9,724.2 L1075.9,725.2 L1076.0,726.2 L1076.0,727.2 L1076.1,728.2 L1076.1,729.2 L1076.2,730.2 L1076.2,731.2 L1076.3,732.2 L1076.3,733.2 L1076.4,734.2 L1076.4,735.2 L1076.5,736.2 L1076.6,737.2 L1076.6,738.2 L1076.7,739.2 L1076.7,740.2 L1076.8,741.2 L1076.8,742.2 L1076.9,743.2 L1076.9,744.2 L1077.0,745.2 L1077.0,746.2 L1077.1,747.2 L1077.1,748.2 L1077.2,749.2 L1077.2,750.2 L1077.3,751.2 L1077.3,752.2 L1077.3,753.2 L1077.4,754.2 L1077.4,755.2 L1077.5,756.2 L1077.5,757.2 L1077.6,758.2 L1077.6,759.2 L1077.7,760.2 L1077.7,761.2 L1077.8,762.2 L1077.8,763.2 L1077.9,764.2 L1077.9,765.2 L1078.0,766.2 L1078.0,767.2 L1078.0,768.2 L1078.1,769.2 L1078.1,770.1 L1078.2,771.1 L1078.2,772.1 L1078.3,773.1 L1078.3,774.1 L1078.4,775.1 L1078.4,776.1 L1078.5,777.1 L1078.5,778.1 L1078.5,779.1 L1078.6,780.1 L1078.6,781.1 L1078.7,782.1 L1078.7,783.1 L1078.8,784.1 L1078.8,785.1 L1078.8,786.1 L1078.9,787.1 L1078.9,788.1 L1079.0,789.1 L1079.0,790.1 L1079.1,791.1 L1079.1,792.1 L1079.1,793.1 L1079.2,794.1 L1079.2,795.1 L1079.3,796.1 L1079.3,797.1 L1079.4,798.1 L1079.4,799.1 L1079.4,800.1 L1079.5,801.1 L1079.5,802.1 L1079.6,803.1 L1079.6,804.1 L1079.7,805.1 L1079.7,806.1 L1079.7,807.1 L1079.8,808.1 L1079.8,809.1 L1079.9,810.1 L1079.9,811.1 L1080.0,812.1 L1080.0,813.1 L1080.0,814.1 L1080.1,815.1 L1080.1,816.1 L1080.2,817.1 L1080.2,818.1 L1080.3,819.1 L1080.3,820.1 L1080.3,821.1 L1080.4,822.1 L1080.4,823.1 L1080.5,824.1 L1080.5,825.1 L1080.5,826.1 L1080.6,827.1 L1080.6,828.1 L1080.7,829.1 L1080.7,830.1 L1080.8,831.1 L1080.8,832.1 L1080.9,833.1 L1080.9,834.1 L1080.9,835.1 L1081.0,836.1 L1081.0,837.1 L1081.1,838.1 L1081.1,839.1 L1081.2,840.1 L1081.2,841.1 L1081.2,842.1 L1081.3,843.1 L1081.3,844.1 L1081.4,845.1 L1081.4,846.1 L1081.5,847.1 L1081.5,848.1 L1081.6,849.1 L1081.6,850.1 L1081.6,851.1 L1081.7,852.1 L1081.7,853.1 L1081.8,854.1 L1081.8,855.1 L1081.9,856.1 L1081.9,857.1 L1082.0,858.1 L1082.0,859.1 L1082.1,860.1 L1082.1,861.1 L1082.2,862.1 L1082.2,863.1 L1082.2,864.1 L1082.3,865.1 L1082.3,866.1 L1082.4,867.1 L1082.4,868.1 L1082.5,869.1 L1082.5,870.1 L1082.6,871.1 L1082.6,872.1 L1082.7,873.1 L1082.7,874.1 L1082.8,875.1 L1082.8,876.1 L1082.9,877.1 L1082.9,878.1 L1083.0,879.1 L1083.0,880.1 L1083.1,881.1 L1083.1,882.1 L1083.2,883.1 L1083.2,884.1 L1083.3,885.1 L1083.3,886.1 L1083.4,887.1 L1083.4,888.1 L1083.5,889.1 L1083.6,890.1 L1083.6,891.1 L1083.7,892.1 L1083.7,893.1 L1083.8,894.1 L1083.8,895.1 L1083.9,896.1 L1083.9,897.1 L1084.0,898.1 L1084.0,899.1 L1084.1,900.1 L1084.2,901.1 L1084.2,902.1 L1084.3,903.1 L1084.3,904.1 L1084.4,905.1 L1084.4,906.1 L1084.5,907.1 L1084.6,908.1 L1084.6,909.1 L1084.7,910.1 L1084.7,911.1 L1084.8,912.1 L1084.9,913.1 L1084.9,914.1 L1085.0,915.1 L1085.1,916.1 L1085.1,917.1 L1085.2,918.1 L1085.2,919.1 L1085.3,920.1 L1085.4,921.1 L1085.4,922.1 L1085.5,923.1 L1085.6,924.1 L1085.6,925.1 L1085.7,926.1 L1085.8,927.0 L1085.8,928.0 L1085.9,929.0 L1086.0,930.0 L1086.0,931.0 L1086.1,932.0 L1086.2,933.0 L1086.2,934.0 L1086.3,935.0 L1086.4,936.0 L1086.4,937.0 L1086.5,938.0 L1086.6,939.0 L1087.0,944.1 L1087.4,949.2 L1087.8,954.2 L1088.3,959.2 L1088.7,964.1 L1089.1,968.9 L1089.5,973.8 L1090.0,978.5 L1090.4,983.3 L1090.8,987.9 L1091.2,992.6 L1091.6,997.1 L1092.1,1001.6 L1092.5,1006.1 L1092.9,1010.5 L1093.3,1014.9 L1093.8,1019.2 L1094.2,1023.4 L1094.6,1027.6 L1095.0,1031.8 L1095.4,1035.8 L1095.9,1039.9 L1096.3,1043.8 L1096.7,1047.7 L1097.1,1051.6 L1097.6,1055.3 L1098.0,1059.1 L1098.4,1062.7 L1098.8,1066.3 L1099.3,1069.9 L1099.7,1073.3 L1100.1,1076.7 L1100.5,1080.1 L1100.9,1083.4 L1101.4,1086.6 L1101.8,1089.7 L1102.2,1092.8 L1102.6,1095.8 L1103.1,1098.8 L1103.5,1101.7 L1103.9,1104.5 L1104.3,1107.3 L1104.7,1109.9 L1105.2,1112.5 L1105.6,1115.1 L1106.0,1117.6 L1106.4,1120.0 L1106.9,1122.3 L1107.3,1124.6 L1107.7,1126.8 L1108.1,1128.9 L1108.5,1130.9 L1109.0,1132.9 L1109.4,1134.8 L1109.8,1136.6 L1110.2,1138.4 L1110.7,1140.1 L1111.1,1141.7 L1111.5,1143.2 L1111.9,1144.7 L1112.3,1146.1 L1112.8,1147.4 L1113.2,1148.7 L1113.6,1149.8 L1114.0,1150.9 L1114.5,1151.9 L1114.9,1152.9 L1115.3,1153.8 L1115.7,1154.6 L1116.1,1155.3 L1116.6,1155.9 L1117.0,1156.5 L1117.4,1157.0 L1118.3,1157.7 L1119.1,1158.2 L1119.9,1158.3 L1120.3,1157.4 L1120.6,1156.5 L1120.9,1155.5 L1121.2,1154.6 L1121.6,1153.6 L1121.9,1152.7 L1122.2,1151.7 L1122.5,1150.8 L1122.8,1149.8 L1123.1,1148.8 L1123.4,1147.9 L1123.6,1146.9 L1123.9,1146.0 L1124.2,1145.0 L1124.5,1144.1 L1124.8,1143.1 L1125.0,1142.1 L1125.3,1141.2 L1125.6,1140.2 L1125.8,1139.2 L1126.1,1138.3 L1126.4,1137.3 L1126.6,1136.3 L1126.9,1135.4 L1127.1,1134.4 L1127.4,1133.4 L1127.6,1132.5 L1127.8,1131.5 L1128.1,1130.5 L1128.3,1129.6 L1128.5,1128.6 L1128.8,1127.6 L1129.0,1126.6 L1129.2,1125.7 L1129.4,1124.7 L1129.7,1123.7 L1129.9,1122.7 L1130.1,1121.8 L1130.3,1120.8 L1130.5,1119.8 L1130.7,1118.8 L1130.9,1117.8 L1131.1,1116.9 L1131.3,1115.9 L1131.5,1114.9 L1131.7,1113.9 L1131.9,1112.9 L1132.1,1112.0 L1132.3,1111.0 L1132.5,1110.0 L1132.7,1109.0 L1132.8,1108.0 L1133.0,1107.0 L1133.2,1106.1 L1133.4,1105.1 L1133.5,1104.1 L1133.7,1103.1 L1133.9,1102.1 L1134.1,1101.1 L1134.2,1100.1 L1134.4,1099.2 L1134.6,1098.2 L1134.7,1097.2 L1134.9,1096.2 L1135.0,1095.2 L1135.2,1094.2 L1135.4,1093.2 L1135.5,1092.2 L1135.7,1091.3 L1135.8,1090.3 L1136.0,1089.3 L1136.1,1088.3 L1136.3,1087.3 L1136.4,1086.3 L1136.6,1085.3 L1136.7,1084.3 L1136.9,1083.3 L1137.0,1082.4 L1137.2,1081.4 L1137.3,1080.4 L1137.4,1079.4 L1137.6,1078.4 L1137.7,1077.4 L1137.9,1076.4 L1138.0,1075.4 L1138.1,1074.4 L1138.3,1073.4 L1138.4,1072.5 L1138.5,1071.5 L1138.7,1070.5 L1138.8,1069.5 L1138.9,1068.5 L1139.1,1067.5 L1139.2,1066.5 L1139.3,1065.5 L1139.5,1064.5 L1139.6,1063.5 L1139.7,1062.5 L1139.8,1061.5 L1140.0,1060.6 L1140.1,1059.6 L1140.2,1058.6 L1140.3,1057.6 L1140.4,1056.6 L1140.6,1055.6 L1140.7,1054.6 L1140.8,1053.6 L1140.9,1052.6 L1141.0,1051.6 L1141.1,1050.6 L1141.3,1049.6 L1141.4,1048.6 L1141.5,1047.6 L1141.6,1046.6 L1141.7,1045.7 L1141.8,1044.7 L1141.9,1043.7 L1142.0,1042.7 L1142.1,1041.7 L1142.2,1040.7 L1142.4,1039.7 L1142.5,1038.7 L1142.6,1037.7 L1142.7,1036.7 L1142.8,1035.7 L1142.9,1034.7 L1143.0,1033.7 L1143.1,1032.7 L1143.2,1031.7 L1143.3,1030.7 L1143.4,1029.7 L1143.5,1028.7 L1143.6,1027.7 L1143.7,1026.8 L1143.8,1025.8 L1143.9,1024.8 L1143.9,1023.8 L1144.0,1022.8 L1144.1,1021.8 L1144.2,1020.8 L1144.3,1019.8 L1144.4,1018.8 L1144.5,1017.8 L1144.6,1016.8 L1144.7,1015.8 L1144.8,1014.8 L1144.9,1013.8 L1144.9,1012.8 L1145.0,1011.8 L1145.1,1010.8 L1145.2,1009.8 L1145.3,1008.8 L1145.4,1007.8 L1145.4,1006.8 L1145.5,1005.8 L1145.6,1004.8 L1145.7,1003.8 L1145.8,1002.8 L1145.9,1001.8 L1145.9,1000.8 L1146.0,999.9 L1146.1,998.9 L1146.2,997.9 L1146.2,996.9 L1146.3,995.9 L1146.4,994.9 L1146.5,993.9 L1146.5,992.9 L1146.6,991.9 L1146.7,990.9 L1146.8,989.9 L1146.8,988.9 L1146.9,987.9 L1147.0,986.9 L1147.1,985.9 L1147.1,984.9 L1147.2,983.9 L1147.3,982.9 L1147.3,981.9 L1147.4,980.9 L1147.5,979.9 L1147.5,978.9 L1147.6,977.9 L1147.7,976.9 L1147.7,975.9 L1147.8,974.9 L1147.9,973.9 L1147.9,972.9 L1148.0,971.9 L1148.1,970.9 L1148.1,969.9 L1148.2,968.9 L1148.3,967.9 L1148.3,966.9 L1148.4,965.9 L1148.4,964.9 L1148.5,963.9 L1148.6,962.9 L1148.6,961.9 L1148.7,960.9 L1148.7,959.9 L1148.8,958.9 L1148.9,957.9 L1148.9,956.9 L1149.0,955.9 L1149.0,954.9 L1149.1,954.0 L1149.1,953.0 L1149.2,952.0 L1149.3,951.0 L1149.3,950.0 L1149.4,949.0 L1149.4,948.0 L1149.5,947.0 L1149.5,946.0 L1149.6,945.0 L1149.7,944.0 L1149.7,943.0 L1149.8,942.0 L1149.8,941.0 L1149.9,940.0 L1149.9,939.0 L1150.0,938.0 L1150.0,937.0 L1150.1,936.0 L1150.1,935.0 L1150.2,934.0 L1150.2,933.0 L1150.3,932.0 L1150.3,931.0 L1150.4,930.0 L1150.4,929.0 L1150.5,928.0 L1150.5,927.0 L1150.6,926.0 L1150.7,925.0 L1150.7,924.0 L1150.8,923.0 L1150.8,922.0 L1150.9,921.0 L1150.9,920.0 L1151.0,919.0 L1151.0,918.0 L1151.1,917.0 L1151.1,916.0 L1151.1,915.0 L1151.2,914.0 L1151.2,913.0 L1151.3,912.0 L1151.3,911.0 L1151.4,910.0 L1151.4,909.0 L1151.5,908.0 L1151.5,907.0 L1151.6,906.0 L1151.6,905.0 L1151.7,904.0 L1151.7,903.0 L1151.8,902.0 L1151.8,901.0 L1151.9,900.0 L1151.9,899.0 L1152.0,898.0 L1152.0,897.0 L1152.1,896.0 L1152.1,895.0 L1152.2,894.0 L1152.2,893.0 L1152.3,892.0 L1152.3,891.0 L1152.4,890.0 L1152.4,889.0 L1152.5,888.0 L1152.5,887.0 L1152.6,886.0 L1152.6,885.0 L1152.6,884.0 L1152.7,883.0 L1152.7,882.0 L1152.8,881.0 L1152.8,880.0 L1152.9,879.0 L1152.9,878.0 L1153.0,877.0 L1153.0,876.0 L1153.1,875.0 L1153.1,874.0 L1153.2,873.0 L1153.2,872.0 L1153.3,871.0 L1153.3,870.1 L1153.4,869.1 L1153.4,868.1 L1153.5,867.1 L1153.5,866.1 L1153.6,865.1 L1153.6,864.1 L1153.7,863.1 L1153.7,862.1 L1153.8,861.1 L1153.8,860.1 L1153.9,859.1 L1153.9,858.1 L1154.0,857.1 L1154.0,856.1 L1154.1,855.1 L1154.1,854.1 L1154.2,853.1 L1154.2,852.1 L1154.3,851.1 L1154.3,850.1 L1154.4,849.1 L1154.4,848.1 L1154.5,847.1 L1154.5,846.1 L1154.6,845.1 L1154.6,844.1 L1154.7,843.1 L1154.7,842.1 L1154.8,841.1 L1154.8,840.1 L1154.9,839.1 L1155.0,838.1 L1155.0,837.1 L1155.1,836.1 L1155.1,835.1 L1155.2,834.1 L1155.2,833.1 L1155.3,832.1 L1155.3,831.1 L1155.4,830.1 L1155.4,829.1 L1155.5,828.1 L1155.5,827.1 L1155.6,826.1 L1155.6,825.1 L1155.7,824.1 L1155.7,823.1 L1155.8,822.1 L1155.8,821.1 L1155.9,820.1 L1156.0,819.1 L1156.0,818.1 L1156.1,817.1 L1156.1,816.1 L1156.2,815.1 L1156.2,814.1 L1156.3,813.1 L1156.3,812.1 L1156.4,811.1 L1156.4,810.1 L1156.5,809.1 L1156.5,808.1 L1156.6,807.1 L1156.7,806.1 L1156.7,805.1 L1156.8,804.1 L1156.8,803.1 L1156.9,802.1 L1156.9,801.1 L1157.0,800.1 L1157.0,799.1 L1157.1,798.1 L1157.2,797.1 L1157.2,796.1 L1157.3,795.1 L1157.3,794.1 L1157.4,793.1 L1157.4,792.1 L1157.5,791.2 L1157.5,790.2 L1157.6,789.2 L1157.7,788.2 L1157.7,787.2 L1157.8,786.2 L1157.8,785.2 L1157.9,784.2 L1157.9,783.2 L1158.0,782.2 L1158.1,781.2 L1158.1,780.2 L1158.2,779.2 L1158.2,778.2 L1158.3,777.2 L1158.3,776.2 L1158.4,775.2 L1158.5,774.2 L1158.5,773.2 L1158.6,772.2 L1158.6,771.2 L1158.7,770.2 L1158.8,769.2 L1158.8,768.2 L1158.9,767.2 L1158.9,766.2 L1159.0,765.2 L1159.1,764.2 L1159.1,763.2 L1159.2,762.2 L1159.2,761.2 L1159.3,760.2 L1159.4,759.2 L1159.4,758.2 L1159.5,757.2 L1159.5,756.2 L1159.6,755.2 L1159.7,754.2 L1159.7,753.2 L1159.8,752.2 L1159.8,751.2 L1159.9,750.2 L1160.0,749.2 L1160.0,748.2 L1160.1,747.2 L1160.1,746.2 L1160.2,745.2 L1160.3,744.2 L1160.3,743.2 L1160.4,742.2 L1160.5,741.2 L1160.5,740.2 L1160.6,739.2 L1160.6,738.2 L1160.7,737.2 L1160.8,736.2 L1160.8,735.2 L1160.9,734.2 L1161.0,733.2 L1161.0,732.3 L1161.1,731.3 L1161.2,730.3 L1161.2,729.3 L1161.3,728.3 L1161.3,727.3 L1161.4,726.3 L1161.5,725.3 L1161.5,724.3 L1161.6,723.3 L1161.7,722.3 L1161.7,721.3 L1161.8,720.3 L1161.9,719.3 L1161.9,718.3 L1162.0,717.3 L1162.1,716.3 L1162.1,715.3 L1162.2,714.3 L1162.3,713.3 L1162.3,712.3 L1162.4,711.3 L1162.5,710.3 L1162.5,709.3 L1162.6,708.3 L1162.7,707.3 L1162.7,706.3 L1162.8,705.3 L1162.9,704.3 L1162.9,703.3 L1163.0,702.3 L1163.1,701.3 L1163.1,700.3 L1163.2,699.3 L1163.3,698.3 L1163.4,697.3 L1163.4,696.3 L1163.5,695.3 L1163.6,694.3 L1163.6,693.3 L1163.7,692.3 L1163.8,691.3 L1163.8,690.3 L1163.9,689.3 L1164.0,688.3 L1164.1,687.3 L1164.1,686.4 L1164.2,685.4 L1164.3,684.4 L1164.3,683.4 L1164.4,682.4 L1164.5,681.4 L1164.6,680.4 L1164.6,679.4 L1164.7,678.4 L1164.8,677.4 L1164.8,676.4 L1164.9,675.4 L1165.0,674.4 L1165.1,673.4 L1165.1,672.4 L1165.2,671.4 L1165.3,670.4 L1165.4,669.4 L1165.4,668.4 L1165.5,667.4 L1165.6,666.4 L1165.7,665.4 L1165.7,664.4 L1165.8,663.4 L1165.9,662.4 L1166.0,661.4 L1166.0,660.4 L1166.1,659.4 L1166.2,658.4 L1166.3,657.4 L1166.3,656.4 L1166.4,655.4 L1166.5,654.4 L1166.6,653.4 L1166.6,652.4 L1166.7,651.4 L1166.8,650.4 L1166.9,649.4 L1166.9,648.5 L1167.0,647.5 L1167.1,646.5 L1167.2,645.5 L1167.3,644.5 L1167.3,643.5 L1167.4,642.5 L1167.5,641.5 L1167.6,640.5 L1167.7,639.5 L1167.7,638.5 L1167.8,637.5 L1167.9,636.5 L1168.0,635.5 L1168.1,634.5 L1168.1,633.5 L1168.2,632.5 L1168.3,631.5 L1168.4,630.5 L1168.5,629.5 L1168.5,628.5 L1168.6,627.5 L1168.7,626.5 L1168.8,625.5 L1168.9,624.5 L1168.9,623.5 L1169.0,622.5 L1169.1,621.5 L1169.2,620.5 L1169.3,619.5 L1169.4,618.5 L1169.4,617.5 L1169.5,616.6 L1169.6,615.6 L1169.7,614.6 L1169.8,613.6 L1169.9,612.6 L1170.0,611.6 L1170.0,610.6 L1170.1,609.6 L1170.2,608.6 L1170.3,607.6 L1170.4,606.6 L1170.5,605.6 L1170.6,604.6 L1170.6,603.6 L1170.7,602.6 L1170.8,601.6 L1170.9,600.6 L1171.0,599.6 L1171.1,598.6 L1171.2,597.6 L1171.3,596.6 L1171.3,595.6 L1171.4,594.6 L1171.5,593.6 L1171.6,592.6 L1171.7,591.6 L1171.8,590.6 L1171.9,589.7 L1172.0,588.7 L1172.1,587.7 L1172.1,586.7 L1172.2,585.7 L1172.3,584.7 L1172.4,583.7 L1172.5,582.7 L1172.6,581.7 L1172.7,580.7 L1172.8,579.7 L1172.9,578.7 L1173.0,577.7 L1173.1,576.7 L1173.2,575.7 L1173.2,574.7 L1173.3,573.7 L1173.4,572.7 L1173.5,571.7 L1173.6,570.7 L1173.7,569.7 L1173.8,568.7 L1173.9,567.7 L1174.0,566.7 L1174.1,565.8 L1174.2,564.8 L1174.3,563.8 L1174.4,562.8 L1174.5,561.8 L1174.6,560.8 L1174.7,559.8 L1174.8,558.8 L1174.8,557.8 L1174.9,556.8 L1175.0,555.8 L1175.1,554.8 L1175.2,553.8 L1175.3,552.8 L1175.4,551.8 L1175.5,550.8 L1175.6,549.8 L1175.7,548.8 L1175.8,547.8 L1175.9,546.8 L1176.0,545.8 L1176.1,544.8 L1176.2,543.9 L1176.3,542.9 L1176.4,541.9 L1176.5,540.9 L1176.6,539.9 L1176.7,538.9 L1176.8,537.9 L1176.9,536.9 L1177.0,535.9 L1177.1,534.9 L1177.2,533.9 L1177.3,532.9 L1177.4,531.9 L1177.5,530.9 L1177.6,529.9 L1177.7,528.9 L1177.8,527.9 L1177.9,526.9 L1178.0,525.9 L1178.1,524.9 L1178.2,523.9 L1178.3,523.0 L1178.4,522.0 L1178.5,521.0 L1178.6,520.0 L1178.7,519.0 L1178.8,518.0 L1178.9,517.0 L1179.0,516.0 L1179.1,515.0 L1179.2,514.0 L1179.3,513.0 L1179.4,512.0 L1179.5,511.0 L1179.6,510.0 L1179.7,509.0 L1179.8,508.0 L1179.9,507.0 L1180.0,506.0 L1180.1,505.0 L1180.2,504.1 L1180.4,503.1 L1180.5,502.1 L1180.6,501.1 L1180.7,500.1 L1180.8,499.1 L1180.9,498.1 L1181.0,497.1 L1181.1,496.1 L1181.2,495.1 L1181.3,494.1 L1181.4,493.1 L1181.5,492.1 L1181.6,491.1 L1181.7,490.1 L1181.8,489.1 L1181.9,488.1 L1182.0,487.1 L1182.1,486.1 L1182.2,485.2 L1182.3,484.2 L1182.5,483.2 L1182.6,482.2 L1182.7,481.2 L1182.8,480.2 L1182.9,479.2 L1183.0,478.2 L1183.1,477.2 L1183.2,476.2 L1183.3,475.2 L1183.4,474.2 L1183.5,473.2 L1183.6,472.2 L1183.7,471.2 L1183.8,470.2 L1184.0,469.2 L1184.1,468.3 L1184.2,467.3 L1184.3,466.3 L1184.4,465.3 L1184.5,464.3 L1184.6,463.3 L1184.7,462.3 L1184.8,461.3 L1184.9,460.3 L1185.0,459.3 L1185.1,458.3 L1185.3,457.3 L1185.4,456.3 L1185.5,455.3 L1185.6,454.3 L1185.7,453.3 L1185.8,452.3 L1185.9,451.3 L1186.0,450.4 L1186.1,449.4 L1186.2,448.4 L1186.3,447.4 L1186.5,446.4 L1186.6,445.4 L1186.7,444.4 L1186.8,443.4 L1186.9,442.4 L1187.0,441.4 L1187.1,440.4 L1187.2,439.4 L1187.3,438.4 L1187.4,437.4 L1187.6,436.4 L1187.7,435.4 L1187.8,434.5 L1187.9,433.5 L1188.0,432.5 L1188.1,431.5 L1188.2,430.5 L1188.3,429.5 L1188.4,428.5 L1188.6,427.5 L1188.7,426.5 L1188.8,425.5 L1188.9,424.5 L1189.0,423.5 L1189.1,422.5 L1189.2,421.5 L1189.3,420.5 L1189.4,419.5 L1189.6,418.5 L1189.7,417.6 L1189.8,416.6 L1189.9,415.6 L1190.0,414.6 L1190.1,413.6 L1190.2,412.6 L1190.3,411.6 L1190.4,410.6 L1190.6,409.6 L1190.7,408.6 L1190.8,407.6 L1190.9,406.6 L1191.0,405.6 L1191.1,404.6 L1191.2,403.6 L1191.3,402.6 L1191.5,401.7 L1191.6,400.7 L1191.7,399.7 L1191.8,398.7 L1191.9,397.7 L1192.0,396.7 L1192.1,395.7 L1192.2,394.7 L1192.4,393.7 L1192.5,392.7 L1192.6,391.7 L1192.7,390.7 L1192.8,389.7 L1192.9,388.7 L1193.0,387.7 L1193.1,386.7 L1193.3,385.8 L1193.4,384.8 L1193.5,383.8 L1193.6,382.8 L1193.7,381.8 L1193.8,380.8 L1193.9,379.8 L1194.0,378.8 L1194.2,377.8 L1194.3,376.8 L1194.4,375.8 L1194.5,374.8 L1194.6,373.8 L1194.7,372.8 L1194.8,371.8 L1194.9,370.8 L1195.1,369.9 L1195.2,368.9 L1195.3,367.9 L1195.4,366.9 L1195.5,365.9 L1195.6,364.9 L1195.7,363.9 L1195.9,362.9 L1196.0,361.9 L1196.1,360.9 L1196.2,359.9 L1196.3,358.9 L1196.4,357.9 L1196.5,356.9 L1196.6,355.9 L1196.8,354.9 L1196.9,354.0 L1197.0,353.0 L1197.1,352.0 L1197.2,351.0 L1197.3,350.0 L1197.4,349.0 L1197.5,348.0 L1197.7,347.0 L1197.8,346.0 L1197.9,345.0 L1198.0,344.0 L1198.1,343.0 L1198.2,342.0 L1198.3,341.0 L1198.4,340.0 L1198.6,339.0 L1198.7,338.1 L1198.8,337.1 L1198.9,336.1 L1199.0,335.1 L1199.1,334.1 L1199.2,333.1 L1199.3,332.1 L1199.5,331.1 L1199.6,330.1 L1199.7,329.1 L1199.8,328.1 L1199.9,327.1 L1200.0,326.1 L1200.1,325.1 L1200.2,324.1 L1200.4,323.1 L1200.5,322.2 L1200.6,321.2 L1200.7,320.2 L1200.8,319.2 L1200.9,318.2 L1201.0,317.2 L1201.1,316.2 L1201.3,315.2 L1201.4,314.2 L1201.5,313.2 L1201.6,312.2 L1201.7,311.2 L1201.8,310.2 L1201.9,309.2 L1202.0,308.2 L1202.2,307.2 L1202.3,306.3 L1202.4,305.3 L1202.5,304.3 L1202.6,303.3 L1202.7,302.3 L1202.8,301.3 L1202.9,300.3 L1203.0,299.3 L1203.2,298.3 L1203.3,297.3 L1203.4,296.3 L1203.5,295.3 L1203.6,294.3 L1203.7,293.3 L1203.8,292.3 L1203.9,291.3 L1204.0,290.3 L1204.2,289.4 L1204.3,288.4 L1204.4,287.4 L1204.5,286.4 L1204.6,285.4 L1204.7,284.4 L1204.8,283.4 L1204.9,282.4 L1205.0,281.4 L1205.1,280.4 L1205.3,279.4 L1205.4,278.4 L1205.5,277.4 L1205.6,276.4 L1205.7,275.4 L1205.8,274.4 L1205.9,273.5 L1206.0,272.5 L1206.1,271.5 L1206.2,270.5 L1206.3,269.5 L1206.5,268.5 L1206.6,267.5 L1206.7,266.5 L1206.8,265.5 L1206.9,264.5 L1207.0,263.5 L1207.1,262.5 L1207.2,261.5 L1207.3,260.5 L1207.4,259.5 L1207.5,258.5 L1207.6,257.5 L1207.8,256.5 L1207.9,255.6 L1208.0,254.6 L1208.1,253.6 L1208.2,252.6 L1208.3,251.6 L1208.4,250.6 L1208.5,249.6 L1208.6,248.6 L1208.7,247.6 L1208.8,246.6 L1208.9,245.6 L1209.0,244.6 L1209.2,243.6 L1209.3,242.6 L1209.4,241.6 L1209.5,240.6 L1209.6,239.6 L1209.7,238.7 L1209.8,237.7 L1209.9,236.7 L1210.0,235.7 L1210.1,234.7 L1210.2,233.7 L1210.3,232.7 L1210.4,231.7 L1210.5,230.7 L1210.6,229.7 L1210.7,228.7 L1210.8,227.7 L1210.9,226.7 L1211.1,225.7 L1211.2,224.7 L1211.3,223.7 L1211.4,222.7 L1211.5,221.7 L1211.6,220.7 L1211.7,219.8 L1211.8,218.8 L1211.9,217.8 L1212.0,216.8 L1212.1,215.8 L1212.2,214.8 L1212.3,213.8 L1212.4,212.8 L1212.5,211.8 L1212.6,210.8 L1212.7,209.8 L1212.8,208.8 L1212.9,207.8 L1213.0,206.8 L1213.1,205.8 L1213.2,204.8 L1213.3,203.8 L1213.4,202.8 L1213.5,201.8 L1213.6,200.9 L1213.7,199.9 L1213.8,198.9 L1213.9,197.9 L1214.0,196.9 L1214.1,195.9 L1214.2,194.9 L1214.3,193.9 L1214.4,192.9 L1214.5,191.9 L1214.6,190.9 L1214.7,189.9 L1214.8,188.9 L1214.9,187.9 L1215.0,186.9 L1215.1,185.9 L1215.2,184.9 L1215.3,183.9 L1215.4,182.9 L1215.5,181.9 L1215.6,180.9 L1215.7,180.0 L1215.8,179.0 L1216.0,178.0 L1216.1,177.0 L1216.2,176.0 L1216.3,175.0 L1216.5,174.0 L1216.6,173.0 L1216.8,172.0 L1217.0,171.0 L1217.1,170.1 L1217.3,169.1 L1217.4,168.1 L1217.6,167.1 L1217.7,166.1 L1217.9,165.1 L1218.1,164.1 L1218.2,163.1 L1218.4,162.2 L1218.6,161.2 L1218.8,160.2 L1219.0,159.2 L1219.1,158.2 L1219.3,157.2 L1219.5,156.3 L1219.7,155.3 L1219.9,154.3 L1220.1,153.3 L1220.3,152.3 L1220.5,151.4 L1220.7,150.4 L1220.9,149.4 L1221.2,148.4 L1221.4,147.5 L1221.6,146.5 L1221.9,145.5 L1222.1,144.5 L1222.4,143.6 L1222.6,142.6 L1222.9,141.6 L1223.1,140.7 L1223.4,139.7 L1223.6,138.7 L1223.9,137.8 L1224.3,136.8 L1224.6,135.9 L1225.0,135.0 L1225.4,134.1 L1226.0,133.2 L1226.5,132.4 L1227.2,131.6 L1227.9,131.0 L1228.8,130.6 L1229.7,131.0 L1230.4,131.7 L1231.0,132.5 L1231.6,133.3 L1232.1,134.2 L1232.5,135.1 L1232.9,136.0 L1233.3,136.9 L1233.6,137.9 L1233.9,138.8 L1234.1,139.8 L1234.4,140.8 L1234.7,141.7 L1234.9,142.7 L1235.2,143.7 L1235.4,144.6 L1235.7,145.6 L1235.9,146.6 L1236.1,147.5 L1236.4,148.5 L1236.6,149.5 L1236.8,150.5 L1237.0,151.4 L1237.3,152.4 L1237.5,153.4 L1237.7,154.4 L1237.9,155.4 L1238.1,156.3 L1238.3,157.3 L1238.5,158.3 L1238.7,159.3 L1238.8,160.3 L1239.0,161.2 L1239.2,162.2 L1239.4,163.2 L1239.6,164.2 L1239.7,165.2 L1239.9,166.2 L1240.1,167.2 L1240.2,168.1 L1240.4,169.1 L1240.6,170.1 L1240.7,171.1 L1240.9,172.1 L1241.0,173.1 L1241.2,174.1 L1241.4,175.1 L1241.5,176.0 L1241.7,177.0 L1241.8,178.0 L1241.9,179.0 L1242.1,180.0 L1242.2,181.0 L1242.3,182.0 L1242.4,183.0 L1242.5,184.0 L1242.7,185.0 L1242.8,186.0 L1242.9,187.0 L1243.0,187.9 L1243.1,188.9 L1243.3,189.9 L1243.4,190.9 L1243.5,191.9 L1243.6,192.9 L1243.7,193.9 L1243.8,194.9 L1244.0,195.9 L1244.1,196.9 L1244.2,197.9 L1244.3,198.9 L1244.4,199.9 L1244.5,200.9 L1244.7,201.8 L1244.8,202.8 L1244.9,203.8 L1245.0,204.8 L1245.1,205.8 L1245.2,206.8 L1245.4,207.8 L1245.5,208.8 L1245.6,209.8 L1245.7,210.8 L1245.8,211.8 L1245.9,212.8 L1246.0,213.8 L1246.2,214.8 L1246.3,215.8 L1246.4,216.8 L1246.5,217.7 L1246.6,218.7 L1246.7,219.7 L1246.8,220.7 L1247.0,221.7 L1247.1,222.7 L1247.2,223.7 L1247.3,224.7 L1247.4,225.7 L1247.5,226.7 L1247.6,227.7 L1247.8,228.7 L1247.9,229.7 L1248.0,230.7 L1248.1,231.7 L1248.2,232.6 L1248.3,233.6 L1248.4,234.6 L1248.5,235.6 L1248.6,236.6 L1248.8,237.6 L1248.9,238.6 L1249.0,239.6 L1249.1,240.6 L1249.2,241.6 L1249.3,242.6 L1249.4,243.6 L1249.5,244.6 L1249.6,245.6 L1249.8,246.6 L1249.9,247.6 L1250.0,248.6 L1250.1,249.5 L1250.2,250.5 L1250.3,251.5 L1250.4,252.5 L1250.5,253.5 L1250.6,254.5 L1250.7,255.5 L1250.8,256.5 L1251.0,257.5 L1251.1,258.5 L1251.2,259.5 L1251.3,260.5 L1251.4,261.5 L1251.5,262.5 L1251.6,263.5 L1251.7,264.5 L1251.8,265.5 L1251.9,266.4 L1252.0,267.4 L1252.1,268.4 L1252.2,269.4 L1252.3,270.4 L1252.5,271.4 L1252.6,272.4 L1252.7,273.4 L1252.8,274.4 L1252.9,275.4 L1253.0,276.4 L1253.1,277.4 L1253.2,278.4 L1253.3,279.4 L1253.4,280.4 L1253.5,281.4 L1253.6,282.4 L1253.7,283.4 L1253.8,284.3 L1253.9,285.3 L1254.0,286.3 L1254.1,287.3 L1254.2,288.3 L1254.3,289.3 L1254.5,290.3 L1254.6,291.3 L1254.7,292.3 L1254.8,293.3 L1254.9,294.3 L1255.0,295.3 L1255.1,296.3 L1255.2,297.3 L1255.3,298.3 L1255.4,299.3 L1255.5,300.3 L1255.6,301.3 L1255.7,302.3 L1255.8,303.2 L1255.9,304.2 L1256.0,305.2 L1256.1,306.2 L1256.2,307.2 L1256.3,308.2 L1256.4,309.2 L1256.5,310.2 L1256.6,311.2 L1256.7,312.2 L1256.8,313.2 L1256.9,314.2 L1257.0,315.2 L1257.1,316.2 L1257.2,317.2 L1257.3,318.2 L1257.4,319.2 L1257.5,320.2 L1257.6,321.2 L1257.7,322.2 L1257.8,323.2 L1257.9,324.1 L1258.0,325.1 L1258.1,326.1 L1258.2,327.1 L1258.3,328.1 L1258.4,329.1 L1258.5,330.1 L1258.6,331.1 L1258.7,332.1 L1258.8,333.1 L1258.9,334.1 L1259.0,335.1 L1259.1,336.1 L1259.2,337.1 L1259.3,338.1 L1259.4,339.1 L1259.5,340.1 L1259.6,341.1 L1259.7,342.1 L1259.8,343.1 L1259.9,344.1 L1260.0,345.0 L1260.1,346.0 L1260.2,347.0 L1260.3,348.0 L1260.3,349.0 L1260.4,350.0 L1260.5,351.0 L1260.6,352.0 L1260.7,353.0 L1260.8,354.0 L1260.9,355.0 L1261.0,356.0 L1261.1,357.0 L1261.2,358.0 L1261.3,359.0 L1261.4,360.0 L1261.5,361.0 L1261.6,362.0 L1261.7,363.0 L1261.8,364.0 L1261.9,365.0 L1262.0,366.0 L1262.1,366.9 L1262.2,367.9 L1262.2,368.9 L1262.3,369.9 L1262.4,370.9 L1262.5,371.9 L1262.6,372.9 L1262.7,373.9 L1262.8,374.9 L1262.9,375.9 L1263.0,376.9 L1263.1,377.9 L1263.2,378.9 L1263.3,379.9 L1263.4,380.9 L1263.5,381.9 L1263.6,382.9 L1263.6,383.9 L1263.7,384.9 L1263.8,385.9 L1263.9,386.9 L1264.0,387.9 L1264.1,388.9 L1264.2,389.9 L1264.3,390.8 L1264.4,391.8 L1264.5,392.8 L1264.6,393.8 L1264.6,394.8 L1264.7,395.8 L1264.8,396.8 L1264.9,397.8 L1265.0,398.8 L1265.1,399.8 L1265.2,400.8 L1265.3,401.8 L1265.4,402.8 L1265.5,403.8 L1265.5,404.8 L1265.6,405.8 L1265.7,406.8 L1265.8,407.8 L1265.9,408.8 L1266.0,409.8 L1266.1,410.8 L1266.2,411.8 L1266.3,412.8 L1266.4,413.8 L1266.4,414.8 L1266.5,415.7 L1266.6,416.7 L1266.7,417.7 L1266.8,418.7 L1266.9,419.7 L1267.0,420.7 L1267.1,421.7 L1267.1,422.7 L1267.2,423.7 L1267.3,424.7 L1267.4,425.7 L1267.5,426.7 L1267.6,427.7 L1267.7,428.7 L1267.8,429.7 L1267.8,430.7 L1267.9,431.7 L1268.0,432.7 L1268.1,433.7 L1268.2,434.7 L1268.3,435.7 L1268.4,436.7 L1268.4,437.7 L1268.5,438.7 L1268.6,439.7 L1268.7,440.7 L1268.8,441.7 L1268.9,442.7 L1269.0,443.6 L1269.0,444.6 L1269.1,445.6 L1269.2,446.6 L1269.3,447.6 L1269.4,448.6 L1269.5,449.6 L1269.6,450.6 L1269.6,451.6 L1269.7,452.6 L1269.8,453.6 L1269.9,454.6 L1270.0,455.6 L1270.1,456.6 L1270.1,457.6 L1270.2,458.6 L1270.3,459.6 L1270.4,460.6 L1270.5,461.6 L1270.6,462.6 L1270.7,463.6 L1270.7,464.6 L1270.8,465.6 L1270.9,466.6 L1271.0,467.6 L1271.1,468.6 L1271.1,469.6 L1271.2,470.6 L1271.3,471.6 L1271.4,472.5 L1271.5,473.5 L1271.6,474.5 L1271.6,475.5 L1271.7,476.5 L1271.8,477.5 L1271.9,478.5 L1272.0,479.5 L1272.1,480.5 L1272.1,481.5 L1272.2,482.5 L1272.3,483.5 L1272.4,484.5 L1272.5,485.5 L1272.5,486.5 L1272.6,487.5 L1272.7,488.5 L1272.8,489.5 L1272.9,490.5 L1272.9,491.5 L1273.0,492.5 L1273.1,493.5 L1273.2,494.5 L1273.3,495.5 L1273.3,496.5 L1273.4,497.5 L1273.5,498.5 L1273.6,499.5 L1273.7,500.5 L1273.7,501.5 L1273.8,502.5 L1273.9,503.4 L1274.0,504.4 L1274.1,505.4 L1274.1,506.4 L1274.2,507.4 L1274.3,508.4 L1274.4,509.4 L1274.5,510.4 L1274.5,511.4 L1274.6,512.4 L1274.7,513.4 L1274.8,514.4 L1274.9,515.4 L1274.9,516.4 L1275.0,517.4 L1275.1,518.4 L1275.2,519.4 L1275.2,520.4 L1275.3,521.4 L1275.4,522.4 L1275.5,523.4 L1275.6,524.4 L1275.6,525.4 L1275.7,526.4 L1275.8,527.4 L1275.9,528.4 L1275.9,529.4 L1276.0,530.4 L1276.1,531.4 L1276.2,532.4 L1276.2,533.4 L1276.3,534.4 L1276.4,535.4 L1276.5,536.4 L1276.6,537.3 L1276.6,538.3 L1276.7,539.3 L1276.8,540.3 L1276.9,541.3 L1276.9,542.3 L1277.0,543.3 L1277.1,544.3 L1277.2,545.3 L1277.2,546.3 L1277.3,547.3 L1277.4,548.3 L1277.5,549.3 L1277.5,550.3 L1277.6,551.3 L1277.7,552.3 L1277.8,553.3 L1277.8,554.3 L1277.9,555.3 L1278.0,556.3 L1278.1,557.3 L1278.1,558.3 L1278.2,559.3 L1278.3,560.3 L1278.4,561.3 L1278.4,562.3 L1278.5,563.3 L1278.6,564.3 L1278.7,565.3 L1278.7,566.3 L1278.8,567.3 L1278.9,568.3 L1279.0,569.3 L1279.0,570.3 L1279.1,571.3 L1279.2,572.3 L1279.3,573.3 L1279.3,574.2 L1279.4,575.2 L1279.5,576.2 L1279.5,577.2 L1279.6,578.2 L1279.7,579.2 L1279.8,580.2 L1279.8,581.2 L1279.9,582.2 L1280.0,583.2 L1280.1,584.2 L1280.1,585.2 L1280.2,586.2 L1280.3,587.2 L1280.3,588.2 L1280.4,589.2 L1280.5,590.2 L1280.6,591.2 L1280.6,592.2 L1280.7,593.2 L1280.8,594.2 L1280.8,595.2 L1280.9,596.2 L1281.0,597.2 L1281.1,598.2 L1281.1,599.2 L1281.2,600.2 L1282.0,611.8 L1282.8,623.5 L1283.6,635.2 L1284.4,646.9 L1285.1,658.5 L1285.9,670.2 L1286.7,681.9 L1287.5,693.5 L1288.3,705.1 L1289.1,716.7 L1289.9,728.2 L1290.7,739.7 L1291.4,751.2 L1292.2,762.5 L1293.0,773.9 L1293.8,785.1 L1294.6,796.3 L1295.4,807.4 L1296.2,818.5 L1297.0,829.4 L1297.8,840.2 L1298.5,851.0 L1299.3,861.6 L1300.1,872.1 L1300.9,882.5 L1301.7,892.8 L1302.5,902.9 L1303.3,912.9 L1304.1,922.8 L1304.8,932.5 L1305.6,942.1 L1306.4,951.6 L1307.2,960.8 L1308.0,969.9 L1308.8,978.9 L1309.6,987.6 L1310.4,996.2 L1311.2,1004.6 L1311.9,1012.9 L1312.7,1020.9 L1313.5,1028.7 L1314.3,1036.4 L1315.1,1043.8 L1315.9,1051.1 L1316.7,1058.1 L1317.5,1064.9 L1318.2,1071.5 L1319.0,1077.9 L1319.8,1084.0 L1320.6,1089.9 L1321.4,1095.6 L1322.2,1101.1 L1323.0,1106.3 L1323.8,1111.3 L1324.6,1116.1 L1325.3,1120.6 L1326.1,1124.8 L1326.9,1128.9 L1327.7,1132.6 L1328.5,1136.1 L1329.3,1139.4 L1330.1,1142.4 L1330.9,1145.2 L1331.6,1147.7 L1332.4,1149.9 L1333.2,1151.9 L1334.0,1153.6 L1334.8,1155.0 L1335.6,1156.2 L1336.4,1157.2 L1337.2,1157.8 L1338.0,1158.2 L1338.7,1158.3 L1339.5,1158.2 L1340.3,1157.8 L1341.1,1157.2 L1341.9,1156.2 L1342.7,1155.1 L1343.5,1153.6 L1344.3,1151.9 L1345.0,1149.9 L1345.8,1147.7 L1346.6,1145.2 L1347.4,1142.5 L1348.2,1139.5 L1349.0,1136.2 L1349.8,1132.7 L1350.6,1128.9 L1351.4,1124.9 L1352.1,1120.7 L1352.9,1116.2 L1353.7,1111.4 L1354.5,1106.4 L1355.3,1101.2 L1356.1,1095.7 L1356.9,1090.0 L1357.7,1084.1 L1358.4,1078.0 L1359.2,1071.6 L1360.0,1065.0 L1360.8,1058.2 L1361.6,1051.2 L1362.4,1044.0 L1363.2,1036.5 L1364.0,1028.9 L1364.7,1021.0 L1365.5,1013.0 L1366.3,1004.8 L1367.1,996.4 L1367.9,987.8 L1368.7,979.0 L1369.5,970.1 L1370.3,961.0 L1371.1,951.7 L1371.8,942.3 L1372.6,932.7 L1373.4,923.0 L1374.2,913.1 L1375.0,903.1 L1375.8,893.0 L1376.6,882.7 L1377.4,872.3 L1378.1,861.8 L1378.9,851.2 L1379.7,840.4 L1380.5,829.6 L1381.3,818.7 L1382.1,807.6 L1382.9,796.5 L1383.7,785.3 L1384.5,774.1 L1385.2,762.8 L1386.0,751.4 L1386.8,739.9 L1387.6,728.4 L1388.4,716.9 L1389.2,705.3 L1390.0,693.7 L1390.8,682.1 L1391.5,670.4 L1392.3,658.8 L1393.1,647.1 L1393.9,635.4 L1394.7,623.7 L1395.5,612.0 L1396.3,600.4 L1397.1,588.8 L1397.9,577.2 L1398.6,565.6 L1399.4,554.1 L1400.2,542.6 L1401.0,531.1 L1401.8,519.8 L1402.6,508.5 L1403.4,497.2 L1404.2,486.0 L1404.9,474.9 L1405.7,463.9 L1406.5,453.0 L1407.3,442.2 L1408.1,431.5 L1408.9,420.9 L1409.7,410.4 L1410.5,400.0 L1411.3,389.8 L1412.0,379.6 L1412.8,369.7 L1413.6,359.8 L1414.4,350.1 L1415.2,340.6 L1416.0,331.2 L1416.8,321.9 L1417.6,312.9 L1418.3,303.9 L1419.1,295.2 L1419.9,286.7 L1420.7,278.3 L1421.5,270.1 L1422.3,262.1 L1423.1,254.3 L1423.9,246.7 L1424.7,239.3 L1425.4,232.1 L1426.2,225.1 L1427.0,218.4 L1427.8,211.8 L1428.6,205.5 L1429.4,199.4 L1430.2,193.5 L1431.0,187.8 L1431.7,182.4 L1432.5,177.2 L1433.3,172.3 L1434.1,167.6 L1434.9,163.1 L1435.7,158.9 L1436.5,155.0 L1437.3,151.2 L1438.1,147.8 L1438.8,144.6 L1439.6,141.6 L1440.4,138.9 L1441.2,136.5 L1442.0,134.3 L1442.8,132.3 L1443.6,130.7 L1444.4,129.3 L1445.1,128.1 L1445.9,127.3 L1446.7,126.7 L1447.5,126.3 L1448.3,126.2 L1449.1,126.4 L1449.9,126.9 L1450.7,127.6 L1451.4,128.5 L1452.2,129.8 L1453.0,131.3 L1453.8,133.0 L1454.6,135.1 L1455.4,137.4 L1456.2,139.9 L1457.0,142.7 L1457.8,145.7 L1458.5,149.1 L1459.3,152.6 L1460.1,156.4 L1460.9,160.5 L1461.7,164.8 L1462.5,169.4 L1463.3,174.1 L1464.1,179.2 L1464.8,184.5 L1465.6,190.0 L1466.4,195.7 L1467.2,201.7 L1468.0,207.9 L1468.8,214.3 L1469.6,220.9 L1470.4,227.8 L1471.2,234.8 L1471.9,242.1 L1472.7,249.6 L1473.5,257.3 L1474.3,265.1 L1475.1,273.2 L1475.9,281.5 L1476.7,289.9 L1477.5,298.5 L1478.2,307.3 L1479.0,316.3 L1479.8,325.4 L1480.6,334.7 L1481.4,344.2 L1482.2,353.8 L1483.0,363.5 L1483.8,373.4 L1484.6,383.5 L1485.3,393.7 L1486.1,404.0 L1486.9,414.4 L1487.7,424.9 L1488.5,435.6 L1489.3,446.3 L1490.1,457.2 L1490.9,468.1 L1491.6,479.2 L1492.4,490.3 L1493.2,501.5 L1494.0,512.8 L1494.8,524.1 L1495.6,535.5 L1496.4,546.9 L1497.2,558.4 L1498.0,570.0 L1498.7,581.6 L1499.5,593.2 L1500.3,604.8 L1501.1,616.5 L1501.9,628.2 L1502.7,639.8 L1503.5,651.5 L1504.3,663.2 L1505.0,674.9 L1505.8,686.5 L1506.6,698.1 L1507.4,709.7 L1508.2,721.3 L1509.0,732.8 L1509.8,744.3 L1510.6,755.7 L1511.4,767.1 L1512.1,778.4 L1512.9,789.6 L1513.7,800.8 L1514.5,811.8 L1515.3,822.8 L1516.1,833.7 L1516.9,844.5 L1517.7,855.2 L1518.4,865.8 L1519.2,876.3 L1520.0,886.6 L1520.8,896.8 L1521.6,906.9 L1522.4,916.9 L1523.2,926.7 L1524.0,936.4 L1524.8,945.9 L1525.5,955.3 L1526.3,964.5 L1527.1,973.5 L1527.9,982.4 L1528.7,991.1 L1529.5,999.6 L1530.3,1007.9 L1531.1,1016.1 L1531.8,1024.0 L1532.6,1031.8 L1533.4,1039.4 L1534.2,1046.7 L1535.0,1053.9 L1535.8,1060.8 L1536.6,1067.5 L1537.4,1074.1 L1538.1,1080.3 L1538.9,1086.4 L1539.7,1092.2 L1540.5,1097.8 L1541.3,1103.2 L1542.1,1108.3 L1542.9,1113.2 L1543.7,1117.9 L1544.5,1122.3 L1545.2,1126.5 L1546.0,1130.4 L1546.8,1134.1 L1547.6,1137.5 L1548.4,1140.6 L1549.2,1143.5 L1550.0,1146.2 L1550.8,1148.6 L1551.5,1150.7 L1552.3,1152.6 L1553.1,1154.2 L1553.9,1155.5 L1554.7,1156.6 L1555.5,1157.4 L1556.3,1158.0 L1557.1,1158.3 L1557.9,1158.3 L1558.6,1158.1 L1559.4,1157.6 L1560.2,1156.8 L1561.0,1155.8 L1561.8,1154.5 L1562.6,1153.0 L1563.4,1151.1 L1564.2,1149.1 L1564.9,1146.7 L1565.7,1144.1 L1566.5,1141.3 L1567.3,1138.2 L1568.1,1134.8 L1568.9,1131.2 L1569.7,1127.4 L1570.5,1123.2 L1571.3,1118.9 L1572.0,1114.3 L1572.8,1109.4 L1573.6,1104.4 L1574.4,1099.0 L1575.2,1093.5 L1576.0,1087.7 L1576.8,1081.7 L1577.6,1075.5 L1578.3,1069.0 L1579.1,1062.3 L1579.9,1055.4 L1580.7,1048.3 L1581.5,1041.0 L1582.3,1033.5 L1583.1,1025.8 L1583.9,1017.9 L1584.7,1009.8 L1585.4,1001.5 L1586.2,993.0 L1587.0,984.3 L1587.8,975.5 L1588.6,966.5 L1589.4,957.3 L1590.2,948.0 L1591.0,938.5 L1591.7,928.9 L1592.5,919.1 L1593.3,909.1 L1594.1,899.1 L1594.9,888.9 L1595.7,878.6 L1596.5,868.1 L1597.3,857.6 L1598.1,846.9 L1598.8,836.1 L1599.6,825.2 L1600.4,814.3 L1601.2,803.2 L1602.0,792.1 L1602.8,780.9 L1603.6,769.6 L1604.4,758.2 L1605.1,746.8 L1605.9,735.3 L1606.7,723.8 L1607.5,712.3 L1608.3,700.7 L1609.1,689.1 L1609.9,677.4 L1610.7,665.8 L1611.5,654.1 L1612.2,642.4 L1613.0,630.7 L1613.8,619.1 L1614.6,607.4 L1615.4,595.8 L1616.2,584.1 L1617.0,572.5 L1617.8,561.0 L1618.5,549.5 L1619.3,538.0 L1620.1,526.6 L1620.9,515.3 L1621.7,504.0 L1622.5,492.7 L1623.3,481.6 L1624.1,470.5 L1624.8,459.6 L1625.6,448.7 L1626.4,437.9 L1627.2,427.3 L1628.0,416.7 L1628.8,406.2 L1629.6,395.9 L1630.4,385.7 L1631.2,375.7 L1631.9,365.7 L1632.7,355.9 L1633.5,346.3 L1634.3,336.8 L1635.1,327.5 L1635.9,318.3 L1636.7,309.3 L1637.5,300.4 L1638.2,291.8 L1639.0,283.3 L1639.8,275.0 L1640.6,266.9 L1641.4,259.0 L1642.2,251.3 L1643.0,243.7 L1643.8,236.4 L1644.6,229.3 L1645.3,222.4 L1646.1,215.7 L1646.9,209.3 L1647.7,203.0 L1648.5,197.0 L1649.3,191.2 L1650.1,185.7 L1650.9,180.3 L1651.6,175.2 L1652.4,170.4 L1653.2,165.8 L1654.0,161.4 L1654.8,157.3 L1655.6,153.4 L1656.4,149.8 L1657.2,146.5 L1658.0,143.3 L1658.7,140.5 L1659.5,137.9 L1660.3,135.6 L1661.1,133.5 L1661.9,131.7 L1662.7,130.1 L1663.5,128.8 L1664.3,127.8 L1665.0,127.0 L1665.8,126.5 L1666.6,126.3 L1667.4,126.3 L1668.2,126.6 L1669.0,127.1 L1669.8,127.9 L1670.6,129.0 L1671.4,130.4 L1672.1,132.0 L1672.9,133.8 L1673.7,136.0 L1674.5,138.3 L1675.3,141.0 L1676.1,143.9 L1676.9,147.0 L1677.7,150.4 L1678.4,154.1 L1679.2,158.0 L1680.0,162.2 L1680.8,166.6 L1681.6,171.2 L1682.4,176.1 L1683.2,181.3 L1684.0,186.6 L1684.8,192.2 L1685.5,198.1 L1686.3,204.1 L1687.1,210.4 L1687.9,216.9 L1688.7,223.6 L1689.5,230.6 L1690.3,237.7 L1691.1,245.1 L1691.8,252.6 L1692.6,260.4 L1693.4,268.3 L1694.2,276.5 L1695.0,284.8 L1695.8,293.3 L1696.6,302.0 L1697.4,310.9 L1698.2,319.9 L1698.9,329.1 L1699.7,338.5 L1700.5,348.0 L1701.3,357.7 L1702.1,367.5 L1702.9,377.4 L1703.7,387.5 L1704.5,397.7 L1705.2,408.1 L1706.0,418.6 L1706.8,429.1 L1707.6,439.8 L1708.4,450.6 L1709.2,461.5 L1710.0,472.5 L1710.8,483.6 L1711.5,494.7 L1712.3,506.0 L1713.1,517.3 L1713.9,528.6 L1714.7,540.1 L1715.5,551.5 L1716.3,563.0 L1717.1,574.6 L1717.9,586.2 L1718.6,597.8 L1719.4,609.5 L1720.2,621.1 L1721.0,632.8 L1721.8,644.5 L1722.6,656.2 L1723.4,667.8 L1724.2,679.5 L1724.9,691.1 L1725.7,702.8 L1726.5,714.3 L1727.3,725.9 L1728.1,737.4 L1728.9,748.8 L1729.7,760.2 L1730.5,771.6 L1731.3,782.9 L1732.0,794.1 L1732.8,805.2 L1733.6,816.2 L1734.4,827.2 L1735.2,838.0 L1736.0,848.8 L1736.8,859.4 L1737.6,870.0 L1738.3,880.4 L1739.1,890.7 L1739.9,900.9 L1740.7,910.9 L1741.5,920.8 L1742.3,930.6 L1743.1,940.2 L1743.9,949.7 L1744.7,959.0 L1745.4,968.1 L1746.2,977.1 L1747.0,985.9 L1747.8,994.5 L1748.6,1003.0 L1749.4,1011.2 L1750.2,1019.3 L1751.0,1027.2 L1751.7,1034.8 L1752.5,1042.3 L1753.3,1049.6 L1754.1,1056.7 L1754.9,1063.5 L1755.7,1070.2 L1756.5,1076.6 L1757.3,1082.8 L1758.1,1088.8 L1758.8,1094.5 L1759.6,1100.0 L1760.4,1105.3 L1761.2,1110.3 L1762.0,1115.1 L1762.8,1119.7 L1763.6,1124.0 L1764.4,1128.1 L1765.1,1131.9 L1765.9,1135.4 L1766.7,1138.8 L1767.5,1141.8 L1768.3,1144.6 L1769.1,1147.2 L1769.9,1149.5 L1770.7,1151.5 L1771.5,1153.3 L1772.2,1154.8 L1773.0,1156.0 L1773.8,1157.0 L1774.6,1157.7 L1775.4,1158.2 L1776.2,1158.3 L1777.0,1158.3 L1777.8,1157.9 L1778.5,1157.3 L1779.3,1156.5 L1780.1,1155.3 L1780.9,1153.9 L1781.7,1152.3 L1782.5,1150.4 L1783.3,1148.2 L1784.1,1145.7 L1784.9,1143.0 L1785.6,1140.1 L1786.4,1136.9 L1787.2,1133.4 L1788.0,1129.7 L1788.8,1125.7 L1789.6,1121.5 L1790.4,1117.1 L1791.2,1112.4 L1791.9,1107.4 L1792.7,1102.3 L1793.5,1096.9 L1794.3,1091.2 L1795.1,1085.3 L1795.9,1079.2 L1796.7,1072.9 L1797.5,1066.4 L1798.2,1059.6 L1799.0,1052.6 L1799.8,1045.4 L1800.6,1038.0 L1801.4,1030.4 L1802.2,1022.6 L1803.0,1014.7 L1803.8,1006.5 L1804.6,998.1 L1805.3,989.6 L1806.1,980.8 L1806.9,971.9 L1807.7,962.9 L1808.5,953.6 L1809.3,944.2 L1810.1,934.7 L1810.9,925.0 L1811.6,915.1 L1812.4,905.1 L1813.2,895.0 L1814.0,884.8 L1814.8,874.4 L1815.6,863.9 L1816.4,853.3 L1817.2,842.6 L1818.0,831.8 L1818.7,820.9 L1819.5,809.9 L1820.3,798.8 L1821.1,787.6 L1821.9,776.4 L1822.7,765.1 L1823.5,753.7 L1824.3,742.2 L1825.0,730.8 L1825.8,719.2 L1826.6,707.7 L1827.4,696.1 L1828.2,684.4 L1829.0,672.8 L1829.8,661.1 L1830.6,649.4 L1831.4,637.8 L1832.1,626.1"/>
<path stroke="#ff0000" d="M187.1,201.4 L187.7,196.6 L188.4,191.9 L189.0,187.3 L189.7,182.9 L190.3,178.7 L190.9,174.6 L191.6,170.6 L192.2,166.9 L192.9,163.3 L193.5,159.8 L194.1,156.5 L194.8,153.4 L195.4,150.4 L196.1,147.7 L196.7,145.0 L197.3,142.6 L198.0,140.3 L198.6,138.2 L199.3,136.2 L199.9,134.5 L200.5,132.9 L201.2,131.4 L201.8,130.2 L202.5,129.1 L203.1,128.2 L203.7,127.4 L204.4,126.9 L205.0,126.5 L205.7,126.3 L206.3,126.2 L206.9,126.4 L207.6,126.7 L208.2,127.2 L208.9,127.8 L209.5,128.7 L210.1,129.7 L210.8,130.8 L211.4,132.2 L212.1,133.7 L212.7,135.4 L213.4,137.3 L214.0,139.3 L214.6,141.5 L215.3,143.9 L215.9,146.5 L216.6,149.2 L217.2,152.1 L217.8,155.1 L218.5,158.3 L219.1,161.7 L219.8,165.2 L220.4,168.9 L221.0,172.8 L221.7,176.8 L222.3,181.0 L223.0,185.3 L223.6,189.8 L224.2,194.5 L224.9,199.2 L225.5,204.2 L226.2,209.3 L226.8,214.5 L227.4,219.9 L228.1,225.4 L228.7,231.1 L229.4,236.9 L230.0,242.8 L230.6,248.9 L231.3,255.1 L231.9,261.5 L232.6,267.9 L233.2,274.5 L233.8,281.2 L234.5,288.1 L235.1,295.0 L235.8,302.1 L236.4,309.3 L237.0,316.6 L237.7,324.0 L238.3,331.6 L239.0,339.2 L239.6,346.9 L240.2,354.8 L240.9,362.7 L241.5,370.7 L242.2,378.8 L242.8,387.0 L243.5,395.3 L244.1,403.7 L244.7,412.2 L245.4,420.7 L246.0,429.3 L246.7,438.0 L247.3,446.7 L247.9,455.5 L248.6,464.4 L249.2,473.4 L249.9,482.4 L250.5,491.4 L251.1,500.5 L251.8,509.7 L252.4,518.9 L253.1,528.1 L253.7,537.4 L254.3,546.7 L255.0,556.0 L255.6,565.4 L256.3,574.8 L256.9,584.2 L257.5,593.6 L258.2,603.1 L258.8,612.6 L259.5,622.0 L260.1,631.5 L260.7,641.0 L261.4,650.5 L262.0,660.0 L262.7,669.5 L263.3,679.0 L263.9,688.4 L264.6,697.9 L265.2,707.3 L265.9,716.7 L266.5,726.1 L267.1,735.4 L267.8,744.7 L268.4,754.0 L269.1,763.3 L269.7,772.5 L270.3,781.6 L271.0,790.8 L271.6,799.8 L272.3,808.8 L272.9,817.8 L273.6,826.7 L274.2,835.5 L274.8,844.3 L275.5,853.0 L276.1,861.6 L276.8,870.2 L277.4,878.6 L278.0,887.0 L278.7,895.3 L279.3,903.6 L280.0,911.7 L280.6,919.8 L281.2,927.7 L281.9,935.6 L282.5,943.3 L283.2,951.0 L283.8,958.5 L284.4,966.0 L285.1,973.3 L285.7,980.5 L286.4,987.7 L287.0,994.7 L287.6,1001.5 L288.3,1008.3 L288.9,1014.9 L289.6,1021.4 L290.2,1027.8 L290.8,1034.0 L291.5,1040.1 L292.1,1046.1 L292.8,1052.0 L293.4,1057.7 L294.0,1063.2 L294.7,1068.6 L295.3,1073.9 L296.0,1079.0 L296.6,1084.0 L297.2,1088.9 L297.9,1093.5 L298.5,1098.1 L299.2,1102.4 L299.8,1106.7 L300.5,1110.7 L301.1,1114.6 L301.7,1118.4 L302.4,1122.0 L303.0,1125.4 L303.7,1128.6 L304.3,1131.7 L304.9,1134.6 L305.6,1137.4 L306.2,1140.0 L306.9,1142.4 L307.5,1144.7 L308.1,1146.8 L308.8,1148.7 L309.4,1150.4 L310.1,1152.0 L310.7,1153.4 L311.3,1154.6 L312.0,1155.7 L312.6,1156.5 L313.3,1157.3 L313.9,1157.8 L314.5,1158.1 L315.2,1158.3 L315.8,1158.3 L316.5,1158.2 L317.1,1157.8 L317.7,1157.3 L318.4,1156.6 L319.0,1155.8 L319.7,1154.7 L320.3,1153.5 L320.9,1152.1 L321.6,1150.6 L322.2,1148.8 L322.9,1146.9 L323.5,1144.9 L324.1,1142.6 L324.8,1140.2 L325.4,1137.6 L326.1,1134.9 L326.7,1132.0 L327.3,1128.9 L328.0,1125.7 L328.6,1122.3 L329.3,1118.7 L329.9,1115.0 L330.6,1111.1 L331.2,1107.0 L331.8,1102.8 L332.5,1098.5 L333.1,1093.9 L333.8,1089.3 L334.4,1084.5 L335.0,1079.5 L335.7,1074.4 L336.3,1069.1 L337.0,1063.7 L337.6,1058.2 L338.2,1052.5 L338.9,1046.6 L339.5,1040.7 L340.2,1034.6 L340.8,1028.3 L341.4,1022.0 L342.1,1015.5 L342.7,1008.9 L343.4,1002.1 L344.0,995.3 L344.6,988.3 L345.3,981.2 L345.9,974.0 L346.6,966.6 L347.2,959.2 L347.8,951.7 L348.5,944.0 L349.1,936.3 L349.8,928.4 L350.4,920.5 L351.0,912.4 L351.7,904.3 L352.3,896.1 L353.0,887.8 L353.6,879.4 L354.2,870.9 L354.9,862.4 L355.5,853.7 L356.2,845.0 L356.8,836.3 L357.4,827.5 L358.1,818.6 L358.7,809.6 L359.4,800.6 L360.0,791.5 L360.7,782.4 L361.3,773.3 L361.9,764.1 L362.6,754.8 L363.2,745.6 L363.9,736.2 L364.5,726.9 L365.1,717.5 L365.8,708.1 L366.4,698.7 L367.1,689.2 L367.7,679.8 L368.3,670.3 L369.0,660.8 L369.6,651.3 L370.3,641.9 L370.9,632.4 L371.5,622.9 L372.2,613.4 L372.8,603.9 L373.5,594.5 L374.1,585.0 L374.7,575.6 L375.4,566.2 L376.0,556.8 L376.7,547.5 L377.3,538.2 L377.9,528.9 L378.6,519.7 L379.2,510.5 L379.9,501.3 L380.5,492.2 L381.1,483.1 L381.8,474.1 L382.4,465.2 L383.1,456.3 L383.7,447.5 L384.3,438.7 L385.0,430.1 L385.6,421.4 L386.3,412.9 L386.9,404.4 L387.5,396.1 L388.2,387.8 L388.8,379.5 L389.5,371.4 L390.1,363.4 L390.8,355.5 L391.4,347.6 L392.0,339.9 L392.7,332.2 L393.3,324.7 L394.0,317.3 L394.6,310.0 L395.2,302.7 L395.9,295.7 L396.5,288.7 L397.2,281.8 L397.8,275.1 L398.4,268.5 L399.1,262.0 L399.7,255.7 L400.4,249.4 L401.0,243.4 L401.6,237.4 L402.3,231.6 L402.9,225.9 L403.6,220.4 L404.2,215.0 L404.8,209.7 L405.5,204.6 L406.1,199.7 L406.8,194.9 L407.4,190.2 L408.0,185.7 L408.7,181.4 L409.3,177.2 L410.0,173.1 L410.6,169.3 L411.2,165.6 L411.9,162.0 L412.5,158.6 L413.2,155.4 L413.8,152.3 L414.4,149.4 L415.1,146.7 L415.7,144.1 L416.4,141.7 L417.0,139.5 L417.7,137.5 L418.3,135.6 L418.9,133.9 L419.6,132.3 L420.2,131.0 L420.9,129.8 L421.5,128.7 L422.1,127.9 L422.8,127.2 L423.4,126.7 L424.1,126.4 L424.7,126.2 L425.3,126.3 L426.0,126.5 L426.6,126.8 L427.3,127.4 L427.9,128.1 L428.5,129.0 L429.2,130.1 L429.8,131.3 L430.5,132.7 L431.1,134.3 L431.7,136.1 L432.4,138.0 L433.0,140.1 L433.7,142.4 L434.3,144.8 L434.9,147.4 L435.6,150.2 L436.2,153.1 L436.9,156.2 L437.5,159.5 L438.1,162.9 L438.8,166.5 L439.4,170.3 L440.1,174.2 L440.7,178.3 L441.3,182.5 L442.0,186.9 L442.6,191.5 L443.3,196.2 L443.9,201.0 L444.5,206.0 L445.2,211.1 L445.8,216.4 L446.5,221.9 L447.1,227.4 L447.8,233.1 L448.4,239.0 L449.0,245.0 L449.7,251.1 L450.3,257.4 L451.0,263.8 L451.6,270.3 L452.2,276.9 L452.9,283.7 L453.5,290.6 L454.2,297.6 L454.8,304.7 L455.4,311.9 L456.1,319.3 L456.7,326.7 L457.4,334.3 L458.0,341.9 L458.6,349.7 L459.3,357.6 L459.9,365.5 L460.6,373.6 L461.2,381.8 L461.8,390.0 L462.5,398.3 L463.1,406.7 L463.8,415.2 L464.4,423.8 L465.0,432.4 L465.7,441.1 L466.3,449.9 L467.0,458.7 L467.6,467.6 L468.2,476.6 L468.9,485.6 L469.5,494.7 L470.2,503.8 L470.8,512.9 L471.4,522.1 L472.1,531.4 L472.7,540.7 L473.4,550.0 L474.0,559.4 L474.6,568.7 L475.3,578.1 L475.9,587.6 L476.6,597.0 L477.2,606.5 L477.9,616.0 L478.5,625.4 L479.1,634.9 L479.8,644.4 L480.4,653.9 L481.1,663.4 L481.7,672.9 L482.3,682.3 L483.0,691.8 L483.6,701.2 L484.3,710.7 L484.9,720.0 L485.5,729.4 L486.2,738.8 L486.8,748.1 L487.5,757.3 L488.1,766.6 L488.7,775.8 L489.4,784.9 L490.0,794.0 L490.7,803.0 L491.3,812.0 L491.9,821.0 L492.6,829.8 L493.2,838.7 L493.9,847.4 L494.5,856.1 L495.1,864.7 L495.8,873.2 L496.4,881.6 L497.1,890.0 L497.7,898.3 L498.3,906.5 L499.0,914.6 L499.6,922.6 L500.3,930.5 L500.9,938.4 L501.5,946.1 L502.2,953.7 L502.8,961.2 L503.5,968.6 L504.1,975.9 L504.7,983.1 L505.4,990.2 L506.0,997.1 L506.7,1004.0 L507.3,1010.7 L508.0,1017.3 L508.6,1023.7 L509.2,1030.0 L509.9,1036.2 L510.5,1042.3 L511.2,1048.2 L511.8,1054.0 L512.4,1059.7 L513.1,1065.2 L513.7,1070.5 L514.4,1075.8 L515.0,1080.8 L515.6,1085.8 L516.3,1090.6 L516.9,1095.2 L517.6,1099.7 L518.2,1104.0 L518.8,1108.1 L519.5,1112.1 L520.1,1116.0 L520.8,1119.7 L521.4,1123.2 L522.0,1126.6 L522.7,1129.8 L523.3,1132.8 L524.0,1135.7 L524.6,1138.4 L525.2,1140.9 L525.9,1143.2 L526.5,1145.4 L527.2,1147.5 L527.8,1149.3 L528.4,1151.0 L529.1,1152.5 L529.7,1153.8 L530.4,1155.0 L531.0,1156.0 L531.6,1156.8 L532.3,1157.5 L532.9,1157.9 L533.6,1158.2 L534.2,1158.3 L534.8,1158.3 L535.5,1158.1 L536.1,1157.7 L536.8,1157.1 L537.4,1156.3 L538.1,1155.4 L538.7,1154.3 L539.3,1153.0 L540.0,1151.6 L540.6,1150.0 L541.3,1148.2 L541.9,1146.2 L542.5,1144.1 L543.2,1141.8 L543.8,1139.3 L544.5,1136.7 L545.1,1133.9 L545.7,1130.9 L546.4,1127.8 L547.0,1124.5 L547.7,1121.0 L548.3,1117.4 L548.9,1113.6 L549.6,1109.6 L550.2,1105.5 L550.9,1101.3 L551.5,1096.9 L552.1,1092.3 L552.8,1087.6 L553.4,1082.7 L554.1,1077.7 L554.7,1072.5 L555.3,1067.2 L556.0,1061.7 L556.6,1056.1 L557.3,1050.4 L557.9,1044.5 L558.5,1038.5 L559.2,1032.4 L559.8,1026.1 L560.5,1019.7 L561.1,1013.1 L561.7,1006.5 L562.4,999.7 L563.0,992.8 L563.7,985.8 L564.3,978.6 L565.0,971.4 L565.6,964.0 L566.2,956.5 L566.9,948.9 L567.5,941.2 L568.2,933.5 L568.8,925.6 L569.4,917.6 L570.1,909.5 L570.7,901.4 L571.4,893.1 L572.0,884.8 L572.6,876.4 L573.3,867.9 L573.9,859.3 L574.6,850.6 L575.2,841.9 L575.8,833.1 L576.5,824.3 L577.1,815.4 L577.8,806.4 L578.4,797.4 L579.0,788.3 L579.7,779.2 L580.3,770.0 L581.0,760.8 L581.6,751.5 L582.2,742.2 L582.9,732.9 L583.5,723.5 L584.2,714.2 L584.8,704.7 L585.4,695.3 L586.1,685.9 L586.7,676.4 L587.4,666.9 L588.0,657.4 L588.6,648.0 L589.3,638.5 L589.9,629.0 L590.6,619.5 L591.2,610.0 L591.8,600.5 L592.5,591.1 L593.1,581.7 L593.8,572.2 L594.4,562.9 L595.1,553.5 L595.7,544.2 L596.3,534.9 L597.0,525.6 L597.6,516.4 L598.3,507.2 L598.9,498.0 L599.5,489.0 L600.2,479.9 L600.8,470.9 L601.5,462.0 L602.1,453.2 L602.7,444.4 L603.4,435.6 L604.0,427.0 L604.7,418.4 L605.3,409.9 L605.9,401.4 L606.6,393.1 L607.2,384.8 L607.9,376.6 L608.5,368.5 L609.1,360.5 L609.8,352.6 L610.4,344.8 L611.1,337.1 L611.7,329.5 L612.3,322.0 L613.0,314.6 L613.6,307.4 L614.3,300.2 L614.9,293.2 L615.5,286.2 L616.2,279.4 L616.8,272.7 L617.5,266.2 L618.1,259.7 L618.7,253.4 L619.4,247.3 L620.0,241.2 L620.7,235.3 L621.3,229.5 L621.9,223.9 L622.6,218.4 L623.2,213.1 L623.9,207.9 L624.5,202.8 L625.2,197.9 L625.8,193.2 L626.4,188.6 L627.1,184.1 L627.7,179.9 L628.4,175.7 L629.0,171.7 L629.6,167.9 L630.3,164.3 L630.9,160.8 L631.6,157.4 L632.2,154.3 L632.8,151.3 L633.5,148.4 L634.1,145.8 L634.8,143.3 L635.0,141.7 L635.3,140.1 L635.5,138.6 L635.8,137.0 L636.0,135.4 L636.3,133.9 L636.6,132.4 L637.0,131.0 L637.4,129.8 L637.7,128.7 L638.1,127.7 L638.6,126.6 L639.0,125.6 L639.4,124.6 L639.9,123.5 L640.3,122.5 L640.5,126.6 L640.8,130.7 L641.0,134.7 L641.2,138.8 L641.5,142.9 L641.7,147.1 L641.9,151.4 L642.1,156.0 L642.3,162.0 L642.5,168.3 L642.7,174.9 L642.9,181.6 L643.1,188.4 L643.3,195.4 L643.4,202.3 L643.6,209.3 L643.8,216.9 L644.0,224.6 L644.1,232.4 L644.3,240.2 L644.5,248.2 L644.6,256.3 L644.8,264.5 L644.9,273.0 L645.1,283.2 L645.2,293.8 L645.4,304.8 L645.5,315.9 L645.7,326.9 L645.8,337.9 L645.9,348.5 L646.0,358.6 L646.1,366.9 L646.1,374.9 L646.2,382.7 L646.2,390.4 L646.3,398.0 L646.3,405.6 L646.4,413.3 L646.4,421.0 L646.6,422.0 L646.8,422.9 L647.1,423.9 L647.3,424.9 L647.5,425.9 L647.7,426.9 L647.9,427.8 L648.1,428.8 L648.4,429.8 L648.6,430.8 L648.8,431.7 L649.0,432.7 L649.2,433.7 L649.4,434.7 L649.6,435.6 L649.8,436.6 L650.0,437.6 L650.2,438.6 L650.4,439.6 L650.6,440.5 L650.8,441.5 L651.0,442.5 L651.2,443.5 L651.4,444.5 L651.6,445.4 L651.8,446.4 L652.0,447.4 L652.2,448.4 L652.4,449.4 L652.6,450.3 L652.8,451.3 L653.0,452.3 L653.2,453.3 L653.4,454.3 L653.6,455.2 L653.8,456.2 L653.9,457.2 L654.1,458.2 L654.3,459.2 L654.5,460.2 L654.7,461.1 L654.9,462.1 L655.0,463.1 L655.2,464.1 L655.4,465.1 L655.6,466.1 L655.8,467.0 L655.9,468.0 L656.1,469.0 L656.3,470.0 L656.5,471.0 L656.6,472.0 L656.8,472.9 L657.0,473.9 L657.2,474.9 L657.3,475.9 L657.5,476.9 L657.7,477.9 L657.8,478.9 L658.0,479.8 L658.2,480.8 L658.4,481.8 L658.5,482.8 L658.7,483.8 L658.8,484.8 L659.0,485.8 L659.2,486.7 L659.3,487.7 L659.5,488.7 L659.7,489.7 L659.8,490.7 L660.0,491.7 L660.1,492.7 L660.3,493.6 L660.5,494.6 L660.6,495.6 L660.8,496.6 L660.9,497.6 L661.1,498.6 L661.2,499.6 L661.4,500.6 L661.6,501.5 L661.7,502.5 L661.9,503.5 L662.0,504.5 L662.2,505.5 L662.3,506.5 L662.5,507.5 L662.6,508.5 L662.8,509.5 L662.9,510.4 L663.1,511.4 L663.2,512.4 L663.4,513.4 L663.5,514.4 L663.7,515.4 L663.8,516.4 L664.0,517.4 L664.1,518.4 L664.2,519.3 L664.4,520.3 L664.5,521.3 L664.7,522.3 L664.8,523.3 L665.0,524.3 L665.1,525.3 L665.3,526.3 L665.4,527.3 L665.5,528.2 L665.7,529.2 L665.8,530.2 L666.0,531.2 L666.1,532.2 L666.2,533.2 L666.4,534.2 L666.5,535.2 L666.7,536.2 L666.8,537.2 L666.9,538.1 L667.1,539.1 L667.2,540.1 L667.3,541.1 L667.5,542.1 L667.6,543.1 L667.8,544.1 L667.9,545.1 L668.0,546.1 L668.2,547.1 L668.3,548.0 L668.4,549.0 L668.6,550.0 L668.7,551.0 L668.8,552.0 L669.0,553.0 L669.1,554.0 L669.2,555.0 L669.4,556.0 L669.5,557.0 L669.6,558.0 L669.8,558.9 L669.9,559.9 L670.0,560.9 L670.2,561.9 L670.3,562.9 L670.4,563.9 L670.6,564.9 L670.7,565.9 L670.8,566.9 L671.0,567.9 L671.1,568.9 L671.2,569.8 L671.4,570.8 L671.5,571.8 L671.6,572.8 L671.8,573.8 L671.9,574.8 L672.0,575.8 L672.2,576.8 L672.3,577.8 L672.4,578.8 L672.6,579.8 L672.7,580.7 L672.8,581.7 L673.0,582.7 L673.1,583.7 L673.2,584.7 L673.4,585.7 L673.5,586.7 L673.6,587.7 L673.7,588.7 L673.9,589.7 L674.0,590.7 L674.1,591.6 L674.3,592.6 L674.4,593.6 L674.5,594.6 L674.7,595.6 L674.8,596.6 L674.9,597.6 L675.1,598.6 L675.2,599.6 L675.3,600.6 L675.5,601.6 L675.6,602.5 L675.7,603.5 L675.9,604.5 L676.0,605.5 L676.1,606.5 L676.3,607.5 L676.4,608.5 L676.5,609.5 L676.7,610.5 L676.8,611.5 L676.9,612.5 L677.1,613.4 L677.2,614.4 L677.4,615.4 L677.5,616.4 L677.6,617.4 L677.8,618.4 L677.9,619.4 L678.0,620.4 L678.2,621.4 L678.3,622.4 L678.5,623.4 L678.6,624.3 L678.7,625.3 L678.9,626.3 L679.0,627.3 L679.1,628.3 L679.3,629.3 L679.4,630.3 L679.6,631.3 L679.7,632.3 L679.8,633.2 L680.0,634.2 L680.1,635.2 L680.3,636.2 L680.4,637.2 L680.6,638.2 L680.7,639.2 L680.9,640.2 L681.0,641.2 L681.1,642.2 L681.3,643.1 L681.4,644.1 L681.6,645.1 L681.7,646.1 L681.9,647.1 L682.0,648.1 L682.2,649.1 L682.3,650.1 L682.5,651.1 L682.6,652.0 L682.8,653.0 L682.9,654.0 L683.1,655.0 L683.2,656.0 L683.4,657.0 L683.5,658.0 L683.7,659.0 L683.8,659.9 L684.0,660.9 L684.1,661.9 L684.3,662.9 L684.5,663.9 L684.6,664.9 L684.8,665.9 L684.9,666.9 L685.1,667.8 L685.2,668.8 L685.4,669.8 L685.6,670.8 L685.7,671.8 L685.9,672.8 L686.0,673.8 L686.2,674.8 L686.4,675.7 L686.5,676.7 L686.7,677.7 L686.9,678.7 L687.0,679.7 L687.2,680.7 L687.4,681.7 L687.5,682.6 L687.7,683.6 L687.9,684.6 L688.1,685.6 L688.2,686.6 L688.4,687.6 L688.6,688.5 L688.7,689.5 L688.9,690.5 L689.1,691.5 L689.3,692.5 L689.4,693.5 L689.6,694.5 L689.8,695.4 L690.0,696.4 L690.2,697.4 L690.3,698.4 L690.5,699.4 L690.7,700.4 L690.9,701.3 L691.1,702.3 L691.3,703.3 L691.4,704.3 L691.6,705.3 L691.8,706.2 L692.0,707.2 L692.2,708.2 L692.4,709.2 L692.6,710.2 L692.8,711.2 L693.0,712.1 L693.2,713.1 L693.4,714.1 L693.6,715.1 L693.7,716.1 L693.9,717.0 L694.1,718.0 L694.3,719.0 L694.5,720.0 L694.7,721.0 L695.0,721.9 L695.2,722.9 L695.4,723.9 L695.6,724.9 L695.8,725.8 L696.0,726.8 L696.2,727.8 L696.4,728.8 L696.6,729.8 L696.8,730.7 L697.0,731.7 L697.3,732.7 L697.5,733.7 L697.7,734.6 L697.9,735.6 L698.1,736.6 L698.3,737.6 L698.6,738.5 L698.8,739.5 L699.0,740.5 L699.2,741.5 L699.5,742.4 L699.7,743.4 L699.9,744.4 L700.1,745.4 L700.4,746.3 L700.6,747.3 L700.8,748.3 L701.1,749.3 L701.3,750.2 L701.5,751.2 L701.8,752.2 L702.0,753.1 L702.2,754.1 L702.5,755.1 L702.7,756.0 L703.0,757.0 L703.2,758.0 L703.5,759.0 L703.7,759.9 L704.0,760.9 L704.2,761.9 L704.5,762.8 L704.7,763.8 L705.0,764.8 L705.2,765.7 L705.5,766.7 L705.7,767.7 L706.0,768.6 L706.2,769.6 L706.5,770.6 L706.8,771.5 L707.0,772.5 L707.3,773.5 L707.6,774.4 L707.8,775.4 L708.1,776.3 L708.4,777.3 L708.6,778.3 L708.9,779.2 L709.2,780.2 L709.5,781.2 L709.7,782.1 L710.0,783.1 L710.3,784.0 L710.6,785.0 L710.9,786.0 L711.1,786.9 L711.4,787.9 L711.7,788.8 L712.0,789.8 L712.3,790.7 L712.6,791.7 L712.9,792.6 L713.3,793.6 L713.6,794.5 L714.0,795.4 L714.3,796.4 L714.7,797.3 L715.1,798.2 L715.6,799.1 L716.0,800.0 L716.4,800.9 L716.8,801.8 L717.3,802.7 L717.7,803.6 L718.1,804.5 L718.6,805.4 L719.1,806.3 L719.5,807.2 L720.0,808.0 L720.5,808.9 L721.0,809.8 L721.5,810.6 L722.1,811.5 L722.6,812.3 L723.1,813.2 L723.7,814.0 L724.4,814.8 L725.0,815.5 L725.7,816.2 L726.5,816.9 L727.2,817.5 L728.0,818.1 L728.8,818.7 L729.7,819.1 L730.7,819.4 L731.7,819.5 L732.6,819.2 L733.5,818.8 L734.4,818.2 L735.2,817.6 L735.9,817.0 L736.7,816.3 L737.4,815.6 L738.1,814.9 L738.7,814.1 L739.2,813.2 L739.8,812.4 L740.3,811.6 L740.8,810.7 L741.4,809.9 L741.9,809.0 L742.4,808.2 L742.9,807.3 L743.4,806.4 L743.9,805.6 L744.4,804.7 L744.9,803.8 L745.4,803.0 L745.9,802.1 L746.4,801.2 L746.9,800.3 L747.4,799.5 L747.9,798.6 L748.3,797.7 L748.8,796.8 L749.2,795.9 L749.6,795.0 L750.0,794.1 L750.4,793.2 L750.7,792.3 L751.1,791.3 L751.4,790.4 L751.7,789.4 L752.0,788.5 L752.3,787.5 L752.6,786.6 L752.9,785.6 L753.2,784.6 L753.5,783.7 L753.8,782.7 L754.1,781.8 L754.3,780.8 L754.6,779.9 L754.9,778.9 L755.2,778.0 L755.5,777.0 L755.8,776.0 L756.1,775.1 L756.3,774.1 L756.6,773.2 L756.9,772.2 L757.2,771.2 L757.4,770.3 L757.7,769.3 L758.0,768.3 L758.3,767.4 L758.5,766.4 L758.8,765.5 L759.1,764.5 L759.3,763.5 L759.6,762.6 L759.9,761.6 L760.1,760.6 L760.4,759.7 L760.6,758.7 L760.9,757.7 L761.2,756.8 L761.4,755.8 L761.7,754.8 L761.9,753.9 L762.2,752.9 L762.4,751.9 L762.7,751.0 L762.9,750.0 L763.2,749.0 L763.4,748.1 L763.7,747.1 L763.9,746.1 L764.2,745.2 L764.4,744.2 L764.6,743.2 L764.9,742.3 L765.1,741.3 L765.4,740.3 L765.6,739.3 L765.8,738.4 L766.1,737.4 L766.3,736.4 L766.6,735.5 L766.8,734.5 L767.0,733.5 L767.2,732.5 L767.5,731.6 L767.7,730.6 L767.9,729.6 L768.2,728.6 L768.4,727.7 L768.6,726.7 L768.8,725.7 L769.1,724.8 L769.3,723.8 L769.5,722.8 L769.7,721.8 L770.0,720.9 L770.2,719.9 L770.4,718.9 L770.6,717.9 L770.8,716.9 L771.0,716.0 L771.3,715.0 L771.5,714.0 L771.7,713.0 L771.9,712.1 L772.1,711.1 L772.3,710.1 L772.5,709.1 L772.8,708.2 L773.0,707.2 L773.2,706.2 L773.4,705.2 L773.6,704.2 L773.8,703.3 L774.0,702.3 L774.2,701.3 L774.4,700.3 L774.6,699.4 L774.8,698.4 L775.0,697.4 L775.2,696.4 L775.4,695.4 L775.6,694.5 L775.8,693.5 L776.0,692.5 L776.2,691.5 L776.4,690.5 L776.6,689.6 L776.8,688.6 L777.0,687.6 L777.2,686.6 L777.4,685.6 L777.6,684.7 L777.8,683.7 L778.0,682.7 L778.2,681.7 L778.4,680.7 L778.6,679.8 L778.8,678.8 L779.0,677.8 L779.2,676.8 L779.4,675.8 L779.6,674.9 L779.8,673.9 L780.0,672.9 L780.2,671.9 L780.4,670.9 L780.5,670.0 L780.7,669.0 L780.9,668.0 L781.1,667.0 L781.3,666.0 L781.5,665.0 L781.7,664.1 L781.9,663.1 L782.1,662.1 L782.2,661.1 L782.4,660.1 L782.6,659.2 L782.8,658.2 L783.0,657.2 L783.2,656.2 L783.4,655.2 L783.6,654.2 L783.7,653.3 L783.9,652.3 L784.1,651.3 L784.3,650.3 L784.5,649.3 L784.7,648.4 L784.9,647.4 L785.1,646.4 L785.2,645.4 L785.4,644.4 L785.6,643.4 L785.8,642.5 L786.0,641.5 L786.2,640.5 L786.4,639.5 L786.5,638.5 L786.7,637.5 L786.9,636.6 L787.1,635.6 L787.3,634.6 L787.5,633.6 L787.7,632.6 L787.8,631.7 L788.0,630.7 L788.2,629.7 L788.4,628.7 L788.6,627.7 L788.8,626.7 L789.0,625.8 L789.1,624.8 L789.3,623.8 L789.5,622.8 L789.7,621.8 L789.9,620.8 L790.1,619.9 L790.3,618.9 L790.4,617.9 L790.6,616.9 L790.8,615.9 L791.0,615.0 L791.2,614.0 L791.4,613.0 L791.6,612.0 L791.8,611.0 L791.9,610.0 L792.1,609.1 L792.3,608.1 L792.5,607.1 L792.7,606.1 L792.9,605.1 L793.1,604.2 L793.3,603.2 L793.5,602.2 L793.7,601.2 L793.9,600.2 L794.0,599.3 L794.2,598.3 L794.4,597.3 L794.6,596.3 L794.8,595.3 L795.0,594.3 L795.2,593.4 L795.4,592.4 L795.6,591.4 L795.8,590.4 L796.0,589.4 L796.2,588.5 L796.4,587.5 L796.6,586.5 L796.8,585.5 L797.0,584.5 L797.2,583.6 L797.4,582.6 L797.6,581.6 L797.8,580.6 L798.0,579.6 L798.2,578.7 L798.4,577.7 L798.6,576.7 L798.8,575.7 L799.0,574.8 L799.2,573.8 L799.4,572.8 L799.6,571.8 L799.8,570.8 L800.0,569.9 L800.2,568.9 L800.4,567.9 L800.7,566.9 L800.9,566.0 L801.1,565.0 L801.3,564.0 L801.5,563.0 L801.7,562.0 L801.9,561.1 L802.1,560.1 L802.4,559.1 L802.6,558.1 L802.8,557.2 L803.0,556.2 L803.2,555.2 L803.4,554.2 L803.7,553.3 L803.9,552.3 L804.1,551.3 L804.3,550.3 L804.5,549.4 L804.8,548.4 L805.0,547.4 L805.2,546.4 L805.4,545.5 L805.7,544.5 L805.9,543.5 L806.1,542.5 L806.4,541.6 L806.6,540.6 L806.8,539.6 L807.1,538.7 L807.3,537.7 L807.5,536.7 L807.8,535.7 L808.0,534.8 L808.2,533.8 L808.5,532.8 L808.7,531.9 L809.0,530.9 L809.2,529.9 L809.4,528.9 L809.7,528.0 L809.9,527.0 L810.2,526.0 L810.4,525.1 L810.7,524.1 L810.9,523.1 L811.2,522.2 L811.4,521.2 L811.7,520.2 L811.9,519.3 L812.2,518.3 L812.4,517.3 L812.7,516.4 L812.9,515.4 L813.2,514.4 L813.5,513.5 L813.7,512.5 L814.0,511.5 L814.3,510.6 L814.5,509.6 L814.8,508.6 L815.1,507.7 L815.3,506.7 L815.6,505.8 L815.9,504.8 L816.1,503.8 L816.4,502.9 L816.7,501.9 L817.0,500.9 L817.2,500.0 L817.5,499.0 L817.8,498.1 L818.1,497.1 L818.4,496.1 L818.6,495.2 L818.9,494.2 L819.2,493.3 L819.5,492.3 L819.8,491.4 L820.1,490.4 L820.4,489.4 L820.7,488.5 L821.0,487.5 L821.3,486.6 L821.6,485.6 L821.9,484.7 L822.2,483.7 L822.5,482.8 L822.8,481.8 L823.1,480.9 L823.4,479.9 L823.7,479.0 L824.1,478.0 L824.4,477.1 L824.8,476.2 L825.1,475.2 L825.5,474.3 L825.9,473.4 L826.3,472.5 L826.7,471.6 L827.1,470.6 L827.5,469.7 L827.9,468.8 L828.3,467.9 L828.7,467.0 L829.1,466.1 L829.6,465.2 L830.1,464.3 L830.6,463.5 L831.2,462.6 L831.8,461.8 L832.4,461.1 L833.1,460.3 L833.7,459.6 L834.4,458.9 L835.2,458.2 L835.9,457.5 L836.7,456.9 L837.6,456.4 L838.5,456.0 L839.4,455.7 L840.4,455.6 L841.4,455.8 L842.3,456.2 L843.2,456.7 L844.0,457.3 L844.7,457.9 L845.5,458.6 L846.2,459.3 L846.8,460.1 L847.5,460.8 L848.1,461.6 L848.7,462.4 L849.3,463.2 L849.9,464.0 L850.5,464.8 L851.0,465.7 L851.6,466.5 L852.1,467.4 L852.6,468.3 L853.0,469.1 L853.4,470.0 L853.8,471.0 L854.2,471.9 L854.6,472.8 L854.9,473.8 L855.2,474.7 L855.6,475.7 L855.9,476.6 L856.2,477.6 L856.5,478.5 L856.8,479.5 L857.1,480.4 L857.4,481.4 L857.7,482.3 L858.1,483.2 L858.4,484.2 L858.7,485.1 L859.1,486.1 L859.5,487.0 L859.8,487.9 L860.1,488.9 L860.5,489.8 L860.8,490.8 L861.2,491.7 L861.5,492.6 L861.9,493.6 L862.2,494.5 L862.6,495.4 L862.9,496.4 L863.2,497.3 L863.6,498.3 L863.9,499.2 L864.3,500.1 L864.6,501.1 L864.9,502.0 L865.3,503.0 L865.6,503.9 L865.9,504.9 L866.3,505.8 L866.6,506.7 L866.9,507.7 L867.2,508.6 L867.6,509.6 L867.9,510.5 L868.2,511.5 L868.6,512.4 L868.9,513.4 L869.2,514.3 L869.5,515.3 L869.8,516.2 L870.2,517.1 L870.5,518.1 L870.8,519.0 L871.1,520.0 L871.4,520.9 L871.8,521.9 L872.1,522.8 L872.4,523.8 L872.7,524.7 L873.0,525.7 L873.3,526.6 L873.6,527.6 L873.9,528.5 L874.3,529.5 L874.6,530.4 L874.9,531.4 L875.2,532.3 L875.5,533.3 L875.8,534.2 L876.1,535.2 L876.4,536.2 L876.7,537.1 L877.0,538.1 L877.3,539.0 L877.5,540.0 L877.8,540.9 L878.1,541.9 L878.4,542.8 L878.7,543.8 L879.0,544.8 L879.3,545.7 L879.5,546.7 L879.8,547.6 L880.1,548.6 L880.4,549.6 L880.7,550.5 L881.0,551.5 L881.2,552.4 L881.5,553.4 L881.8,554.4 L882.1,555.3 L882.4,556.3 L882.6,557.2 L882.9,558.2 L883.2,559.2 L883.5,560.1 L883.7,561.1 L884.0,562.0 L884.3,563.0 L884.7,562.1 L885.0,561.1 L885.4,560.2 L885.8,559.3 L886.2,558.4 L886.5,557.4 L886.8,556.5 L887.1,555.5 L887.4,554.6 L887.6,553.6 L887.8,552.6 L888.0,551.6 L888.2,550.6 L888.4,549.7 L888.6,548.7 L888.8,547.7 L889.1,546.7 L889.3,545.8 L889.6,544.8 L889.9,543.9 L890.2,542.9 L890.5,541.9 L890.8,541.0 L891.1,540.0 L891.5,539.1 L891.9,538.2 L892.5,537.4 L893.4,537.6 L894.1,538.3 L894.6,539.2 L895.0,540.1 L895.4,541.0 L895.8,541.9 L896.1,542.9 L896.3,543.9 L896.5,544.8 L896.7,545.8 L896.9,546.8 L897.0,547.8 L897.1,548.8 L897.2,549.8 L897.3,550.8 L897.4,551.8 L897.5,552.8 L897.6,553.8 L897.7,554.8 L897.8,555.8 L897.9,556.8 L898.0,557.8 L898.1,558.7 L898.3,559.7 L898.4,560.7 L898.6,561.7 L898.7,562.7 L898.9,563.7 L899.1,564.7 L899.3,565.7 L899.5,566.6 L899.7,567.6 L899.9,568.6 L900.1,569.6 L900.3,570.6 L900.5,571.5 L900.7,572.5 L900.9,573.5 L901.1,574.5 L901.3,575.5 L901.5,576.4 L901.7,577.4 L901.9,578.4 L902.1,579.4 L902.3,580.3 L902.6,581.3 L902.8,582.3 L903.0,583.3 L903.2,584.2 L903.4,585.2 L903.6,586.2 L903.9,587.2 L904.1,588.2 L904.3,589.1 L904.5,590.1 L904.7,591.1 L905.0,592.1 L905.2,593.0 L905.4,594.0 L905.6,595.0 L905.8,596.0 L906.0,596.9 L906.3,597.9 L906.5,598.9 L906.7,599.9 L906.9,600.8 L907.1,601.8 L907.3,602.8 L907.5,603.8 L907.7,604.8 L907.9,605.7 L908.1,606.7 L908.3,607.7 L908.5,608.7 L908.7,609.7 L908.9,610.7 L909.0,611.6 L909.2,612.6 L909.4,613.6 L909.6,614.6 L909.8,615.6 L909.9,616.6 L910.1,617.5 L910.3,618.5 L910.4,619.5 L910.6,620.5 L910.8,621.5 L910.9,622.5 L911.1,623.5 L911.3,624.4 L911.4,625.4 L911.6,626.4 L911.8,627.4 L911.9,628.4 L912.1,629.4 L912.2,630.4 L912.4,631.4 L912.5,632.3 L912.7,633.3 L912.8,634.3 L913.0,635.3 L913.2,636.3 L913.3,637.3 L913.5,638.3 L913.6,639.3 L913.7,640.3 L913.9,641.2 L914.0,642.2 L914.2,643.2 L914.3,644.2 L914.5,645.2 L914.6,646.2 L914.8,647.2 L914.9,648.2 L915.0,649.2 L915.2,650.2 L915.3,651.1 L915.4,652.1 L915.6,653.1 L915.7,654.1 L915.8,655.1 L916.0,656.1 L916.1,657.1 L916.2,658.1 L916.4,659.1 L916.5,660.1 L916.6,661.1 L916.8,662.0 L916.9,663.0 L917.0,664.0 L917.2,665.0 L917.3,666.0 L917.4,667.0 L917.5,668.0 L917.7,669.0 L917.8,670.0 L917.9,671.0 L918.0,672.0 L918.2,673.0 L918.3,674.0 L918.4,674.9 L918.5,675.9 L918.7,676.9 L918.8,677.9 L918.9,678.9 L919.0,679.9 L919.2,680.9 L919.3,681.9 L919.4,682.9 L919.5,683.9 L919.6,684.9 L919.8,685.9 L919.9,686.9 L920.0,687.8 L920.1,688.8 L920.2,689.8 L920.3,690.8 L920.5,691.8 L920.6,692.8 L920.7,693.8 L920.8,694.8 L920.9,695.8 L921.1,696.8 L921.2,697.8 L921.3,698.8 L921.4,699.8 L921.5,700.8 L921.7,701.8 L921.8,702.7 L921.9,703.7 L922.0,704.7 L922.1,705.7 L922.2,706.7 L922.4,707.7 L922.5,708.7 L922.6,709.7 L922.7,710.7 L922.8,711.7 L923.0,712.7 L923.1,713.7 L923.2,714.7 L923.3,715.7 L923.4,716.6 L923.6,717.6 L923.7,718.6 L923.8,719.6 L923.9,720.6 L924.0,721.6 L924.2,722.6 L924.3,723.6 L924.4,724.6 L924.5,725.6 L924.7,726.6 L924.8,727.6 L924.9,728.6 L925.0,729.6 L925.1,730.5 L925.3,731.5 L925.4,732.5 L925.5,733.5 L925.7,734.5 L925.8,735.5 L925.9,736.5 L926.0,737.5 L926.2,738.5 L926.3,739.5 L926.4,740.5 L926.6,741.5 L926.7,742.4 L926.8,743.4 L926.9,744.4 L927.1,745.4 L927.2,746.4 L927.3,747.4 L927.5,748.4 L927.6,749.4 L927.7,750.4 L927.9,751.4 L928.0,752.4 L928.1,753.4 L928.3,754.3 L928.4,755.3 L928.5,756.3 L928.7,757.3 L928.8,758.3 L928.9,759.3 L929.1,760.3 L929.2,761.3 L929.4,762.3 L929.5,763.3 L929.6,764.3 L929.8,765.2 L929.9,766.2 L930.0,767.2 L930.2,768.2 L930.3,769.2 L930.4,770.2 L930.6,771.2 L930.7,772.2 L930.9,773.2 L931.0,774.2 L931.1,775.2 L931.3,776.1 L931.4,777.1 L931.5,778.1 L931.7,779.1 L931.8,780.1 L932.0,781.1 L932.1,782.1 L932.2,783.1 L932.4,784.1 L932.5,785.1 L932.6,786.0 L932.8,787.0 L932.9,788.0 L933.1,789.0 L933.2,790.0 L933.3,791.0 L933.5,792.0 L933.6,793.0 L933.7,794.0 L933.9,795.0 L934.0,796.0 L934.1,796.9 L934.3,797.9 L934.4,798.9 L934.6,799.9 L934.7,800.9 L934.8,801.9 L935.0,802.9 L935.1,803.9 L935.2,804.9 L935.4,805.9 L935.5,806.9 L935.6,807.8 L935.8,808.8 L935.9,809.8 L936.0,810.8 L936.2,811.8 L936.3,812.8 L936.4,813.8 L936.6,814.8 L936.7,815.8 L936.8,816.8 L936.9,817.8 L937.1,818.8 L937.2,819.7 L937.3,820.7 L937.5,821.7 L937.6,822.7 L937.7,823.7 L937.8,824.7 L938.0,825.7 L938.1,826.7 L938.2,827.7 L938.3,828.7 L938.5,829.7 L938.6,830.7 L938.7,831.7 L938.8,832.6 L939.0,833.6 L939.1,834.6 L939.2,835.6 L939.3,836.6 L939.4,837.6 L939.6,838.6 L939.7,839.6 L939.8,840.6 L939.9,841.6 L940.0,842.6 L940.2,843.6 L940.3,844.6 L940.4,845.6 L940.5,846.5 L940.6,847.5 L940.7,848.5 L940.8,849.5 L940.9,850.5 L941.1,851.5 L941.2,852.5 L941.3,853.5 L941.4,854.5 L941.5,855.5 L941.6,856.5 L941.7,857.5 L941.8,858.5 L941.9,859.5 L942.0,860.5 L942.1,861.5 L942.2,862.5 L942.3,863.5 L942.4,864.4 L942.5,865.4 L942.6,866.4 L942.7,867.4 L942.8,868.4 L942.9,869.4 L943.0,870.4 L943.1,871.4 L943.2,872.4 L943.3,873.4 L943.4,874.4 L943.5,875.4 L943.6,876.4 L943.7,877.4 L943.8,878.4 L943.9,879.4 L944.0,880.4 L944.1,881.4 L944.2,882.4 L944.3,883.4 L944.3,884.4 L944.4,885.4 L944.5,886.3 L944.6,887.3 L944.7,888.3 L944.8,889.3 L944.9,890.3 L944.9,891.3 L945.0,892.3 L945.1,893.3 L945.2,894.3 L945.3,895.3 L945.4,896.3 L945.4,897.3 L945.5,898.3 L945.6,899.3 L945.7,900.3 L945.8,901.3 L945.8,902.3 L945.9,903.3 L946.0,904.3 L946.1,905.3 L946.1,906.3 L946.2,907.3 L946.3,908.3 L946.4,909.3 L946.4,910.3 L946.5,911.3 L946.6,912.3 L946.7,913.3 L946.7,914.3 L946.8,915.3 L946.9,916.3 L946.9,917.3 L947.0,918.3 L947.1,919.3 L947.1,920.3 L947.2,921.3 L947.3,922.2 L947.3,923.2 L947.4,924.2 L947.5,925.2 L947.5,926.2 L947.6,927.2 L947.7,928.2 L947.7,929.2 L947.8,930.2 L947.8,931.2 L947.9,932.2 L948.0,933.2 L948.0,934.2 L948.1,935.2 L948.1,936.2 L948.2,937.2 L948.3,938.2 L948.3,939.2 L948.4,940.2 L948.4,941.2 L948.5,942.2 L948.5,943.2 L948.6,944.2 L948.6,945.2 L948.7,946.2 L948.7,947.2 L948.8,948.2 L948.8,949.2 L948.9,950.2 L948.9,951.2 L949.0,952.2 L949.0,953.2 L949.1,954.2 L949.1,955.2 L949.2,956.2 L949.2,957.2 L949.3,958.2 L949.3,959.2 L949.4,960.2 L949.4,961.2 L949.5,962.2 L949.5,963.2 L949.5,964.2 L949.6,965.2 L949.6,966.2 L949.7,967.2 L949.7,968.2 L949.8,969.2 L949.8,970.2 L949.8,971.2 L949.9,972.2 L949.9,973.2 L949.9,974.2 L950.0,975.2 L950.0,976.2 L950.1,977.2 L950.1,978.2 L950.1,979.2 L950.2,980.2 L950.2,981.2 L950.2,982.2 L950.3,983.2 L950.3,984.2 L950.3,985.2 L950.4,986.2 L950.4,987.2 L950.4,988.2 L950.5,989.2 L950.5,990.2 L950.5,991.2 L950.6,992.2 L950.6,993.2 L950.6,994.2 L950.6,995.2 L950.7,996.2 L950.7,997.2 L950.7,998.2 L950.8,999.2 L950.8,1000.2 L950.8,1001.2 L950.9,1002.2 L950.9,1003.2 L950.9,1004.2 L951.0,1005.2 L951.0,1006.2 L951.0,1007.2 L951.1,1008.2 L951.1,1009.2 L951.1,1010.2 L951.2,1011.2 L951.2,1012.2 L951.2,1013.2 L951.3,1014.2 L951.3,1015.2 L951.4,1016.2 L951.4,1017.2 L951.4,1018.2 L951.5,1019.2 L951.5,1020.2 L951.6,1021.2 L951.6,1022.2 L951.6,1023.2 L951.7,1024.2 L951.7,1025.2 L951.8,1026.2 L951.8,1027.2 L951.9,1028.2 L951.9,1029.2 L951.9,1030.2 L952.0,1031.2 L952.0,1032.2 L952.1,1033.2 L952.1,1034.2 L952.2,1035.2 L952.3,1036.1 L952.3,1037.1 L952.4,1038.1 L952.4,1039.1 L952.5,1040.1 L952.5,1041.1 L952.6,1042.1 L952.7,1043.1 L952.7,1044.1 L952.8,1045.1 L952.9,1046.1 L952.9,1047.1 L953.0,1048.1 L953.1,1049.1 L953.1,1050.1 L953.2,1051.1 L953.3,1052.1 L953.3,1053.1 L953.4,1054.1 L953.5,1055.1 L953.6,1056.1 L953.7,1057.1 L953.7,1058.1 L953.8,1059.1 L953.9,1060.1 L954.0,1061.1 L954.1,1062.1 L954.2,1063.1 L954.3,1064.1 L954.4,1065.1 L954.6,1066.1 L954.7,1067.1 L954.8,1068.0 L954.9,1069.0 L955.1,1070.0 L955.2,1071.0 L955.3,1072.0 L955.4,1073.0 L955.6,1074.0 L955.7,1075.0 L955.8,1076.0 L955.9,1077.0 L956.1,1078.0 L956.2,1079.0 L956.3,1080.0 L956.5,1080.9 L956.6,1081.9 L956.7,1082.9 L956.9,1083.9 L957.0,1084.9 L957.2,1085.9 L957.3,1086.9 L957.5,1087.9 L957.7,1088.9 L957.8,1089.8 L958.0,1090.8 L958.2,1091.8 L958.4,1092.8 L958.6,1093.8 L958.8,1094.7 L959.0,1095.7 L959.3,1096.7 L959.5,1097.7 L959.7,1098.6 L959.9,1099.6 L960.1,1100.6 L960.4,1099.1 L960.8,1097.6 L961.1,1096.1 L961.4,1094.6 L961.8,1093.0 L962.1,1091.5 L962.4,1089.8 L962.7,1088.0 L963.1,1085.4 L963.5,1082.6 L963.9,1079.7 L964.3,1076.7 L964.6,1073.5 L965.0,1070.2 L965.3,1066.8 L965.6,1063.3 L966.0,1058.2 L966.2,1052.7 L966.5,1047.0 L966.7,1041.1 L966.9,1035.0 L967.1,1028.9 L967.3,1022.9 L967.5,1017.0 L967.7,1016.0 L967.9,1015.0 L968.0,1014.1 L968.2,1013.1 L968.4,1012.1 L968.6,1011.1 L968.8,1010.1 L969.0,1009.1 L969.1,1008.1 L969.3,1007.2 L969.5,1006.2 L969.7,1005.2 L969.8,1004.2 L970.0,1003.2 L970.2,1002.2 L970.4,1001.3 L970.5,1000.3 L970.7,999.3 L970.9,998.3 L971.1,997.3 L971.2,996.3 L971.4,995.3 L971.6,994.4 L971.8,993.4 L971.9,992.4 L972.1,991.4 L972.3,990.4 L972.4,989.4 L972.6,988.4 L972.8,987.5 L972.9,986.5 L973.1,985.5 L973.3,984.5 L973.4,983.5 L973.6,982.5 L973.8,981.5 L973.9,980.6 L974.1,979.6 L974.3,978.6 L974.4,977.6 L974.6,976.6 L974.8,975.6 L974.9,974.6 L975.1,973.7 L975.2,972.7 L975.4,971.7 L975.6,970.7 L975.7,969.7 L975.9,968.7 L976.0,967.7 L976.2,966.7 L976.3,965.8 L976.5,964.8 L976.7,963.8 L976.8,962.8 L977.0,961.8 L977.1,960.8 L977.3,959.8 L977.4,958.8 L977.6,957.8 L977.7,956.9 L977.9,955.9 L978.0,954.9 L978.2,953.9 L978.3,952.9 L978.5,951.9 L978.6,950.9 L978.8,949.9 L978.9,948.9 L979.1,948.0 L979.2,947.0 L979.4,946.0 L979.5,945.0 L979.7,944.0 L979.8,943.0 L980.0,942.0 L980.1,941.0 L980.3,940.0 L980.4,939.1 L980.6,938.1 L980.7,937.1 L980.8,936.1 L981.0,935.1 L981.1,934.1 L981.3,933.1 L981.4,932.1 L981.6,931.1 L981.7,930.1 L981.8,929.2 L982.0,928.2 L982.1,927.2 L982.2,926.2 L982.4,925.2 L982.5,924.2 L982.7,923.2 L982.8,922.2 L982.9,921.2 L983.1,920.2 L983.2,919.2 L983.3,918.3 L983.5,917.3 L983.6,916.3 L983.7,915.3 L983.9,914.3 L984.0,913.3 L984.1,912.3 L984.3,911.3 L984.4,910.3 L984.5,909.3 L984.7,908.3 L984.8,907.4 L984.9,906.4 L985.1,905.4 L985.2,904.4 L985.3,903.4 L985.4,902.4 L985.6,901.4 L985.7,900.4 L985.8,899.4 L985.9,898.4 L986.1,897.4 L986.2,896.4 L986.3,895.4 L986.4,894.5 L986.6,893.5 L986.7,892.5 L986.8,891.5 L986.9,890.5 L987.1,889.5 L987.2,888.5 L987.3,887.5 L987.4,886.5 L987.5,885.5 L987.7,884.5 L987.8,883.5 L987.9,882.5 L988.0,881.5 L988.1,880.6 L988.3,879.6 L988.4,878.6 L988.5,877.6 L988.6,876.6 L988.7,875.6 L988.8,874.6 L989.0,873.6 L989.1,872.6 L989.2,871.6 L989.3,870.6 L989.4,869.6 L989.5,868.6 L989.6,867.6 L989.8,866.6 L989.9,865.7 L990.0,864.7 L990.1,863.7 L990.2,862.7 L990.3,861.7 L990.4,860.7 L990.5,859.7 L990.6,858.7 L990.8,857.7 L990.9,856.7 L991.0,855.7 L991.1,854.7 L991.2,853.7 L991.3,852.7 L991.4,851.7 L991.5,850.7 L991.6,849.7 L991.7,848.8 L991.8,847.8 L991.9,846.8 L992.0,845.8 L992.1,844.8 L992.2,843.8 L992.3,842.8 L992.5,841.8 L992.6,840.8 L992.7,839.8 L992.8,838.8 L992.9,837.8 L993.0,836.8 L993.1,835.8 L993.2,834.8 L993.3,833.8 L993.4,832.8 L993.5,831.8 L993.6,830.8 L993.7,829.8 L993.8,828.9 L993.9,827.9 L994.0,826.9 L994.1,825.9 L994.1,824.9 L994.2,823.9 L994.3,822.9 L994.4,821.9 L994.5,820.9 L994.6,819.9 L994.7,818.9 L994.8,817.9 L994.9,816.9 L995.0,815.9 L995.1,814.9 L995.2,813.9 L995.3,812.9 L995.4,811.9 L995.5,810.9 L995.6,809.9 L995.7,808.9 L995.7,807.9 L995.8,806.9 L995.9,806.0 L996.0,805.0 L996.1,804.0 L996.2,803.0 L996.3,802.0 L996.4,801.0 L996.5,800.0 L996.5,799.0 L996.6,798.0 L996.7,797.0 L996.8,796.0 L996.9,795.0 L997.0,794.0 L997.1,793.0 L997.2,792.0 L997.2,791.0 L997.3,790.0 L997.4,789.0 L997.5,788.0 L997.6,787.0 L997.7,786.0 L997.7,785.0 L997.8,784.0 L997.9,783.0 L998.0,782.0 L998.1,781.0 L998.2,780.0 L998.2,779.0 L998.3,778.1 L998.4,777.1 L998.5,776.1 L998.6,775.1 L998.7,774.1 L998.7,773.1 L998.8,772.1 L998.9,771.1 L999.0,770.1 L999.1,769.1 L999.1,768.1 L999.2,767.1 L999.3,766.1 L999.4,765.1 L999.5,764.1 L999.5,763.1 L999.6,762.1 L999.7,761.1 L999.8,760.1 L999.9,759.1 L999.9,758.1 L1000.0,757.1 L1000.1,756.1 L1000.2,755.1 L1000.2,754.1 L1000.3,753.1 L1000.4,752.1 L1000.5,751.1 L1000.6,750.1 L1000.6,749.1 L1000.7,748.1 L1000.8,747.1 L1000.9,746.1 L1000.9,745.1 L1001.0,744.2 L1001.1,743.2 L1001.2,742.2 L1001.2,741.2 L1001.3,740.2 L1001.4,739.2 L1001.5,738.2 L1001.6,737.2 L1001.6,736.2 L1001.7,735.2 L1001.8,734.2 L1001.9,733.2 L1001.9,732.2 L1002.0,731.2 L1002.1,730.2 L1002.2,729.2 L1002.2,728.2 L1002.3,727.2 L1002.4,726.2 L1002.5,725.2 L1002.6,724.2 L1002.6,723.2 L1002.7,722.2 L1002.8,721.2 L1002.9,720.2 L1002.9,719.2 L1003.0,718.2 L1003.1,717.2 L1003.2,716.2 L1003.2,715.2 L1003.3,714.2 L1003.4,713.2 L1003.5,712.2 L1003.6,711.2 L1003.6,710.2 L1003.7,709.3 L1003.8,708.3 L1003.9,707.3 L1003.9,706.3 L1004.0,705.3 L1004.1,704.3 L1004.2,703.3 L1004.3,702.3 L1004.3,701.3 L1004.4,700.3 L1004.5,699.3 L1004.6,698.3 L1004.7,697.3 L1004.7,696.3 L1004.8,695.3 L1004.9,694.3 L1005.0,693.3 L1005.1,692.3 L1005.1,691.3 L1005.2,690.3 L1005.3,689.3 L1005.4,688.3 L1005.5,687.3 L1005.5,686.3 L1005.6,685.3 L1005.7,684.3 L1005.8,683.3 L1005.9,682.3 L1005.9,681.3 L1006.0,680.3 L1006.1,679.3 L1006.2,678.3 L1006.3,677.3 L1006.4,676.4 L1006.4,675.4 L1006.5,674.4 L1006.6,673.4 L1006.7,672.4 L1006.8,671.4 L1006.9,670.4 L1007.0,669.4 L1007.0,668.4 L1007.1,667.4 L1007.2,666.4 L1007.3,665.4 L1007.4,664.4 L1007.5,663.4 L1007.6,662.4 L1007.7,661.4 L1007.7,660.4 L1007.8,659.4 L1007.9,658.4 L1008.0,657.4 L1008.1,656.4 L1008.2,655.4 L1008.3,654.4 L1008.4,653.4 L1008.5,652.4 L1008.6,651.4 L1008.6,650.4 L1008.7,649.5 L1008.8,648.5 L1008.9,647.5 L1009.0,646.5 L1009.1,645.5 L1009.2,644.5 L1009.3,643.5 L1009.4,642.5 L1009.5,641.5 L1009.6,640.5 L1009.7,639.5 L1009.8,638.5 L1009.9,637.5 L1010.0,636.5 L1010.1,635.5 L1010.2,634.5 L1010.3,633.5 L1010.4,632.5 L1010.5,631.5 L1010.6,630.5 L1010.7,629.5 L1010.8,628.5 L1010.9,627.6 L1011.0,626.6 L1011.1,625.6 L1011.2,624.6 L1011.3,623.6 L1011.4,622.6 L1011.5,621.6 L1011.6,620.6 L1011.7,619.6 L1011.8,618.6 L1011.9,617.6 L1012.0,616.6 L1012.1,615.6 L1012.3,614.6 L1012.4,613.6 L1012.5,612.6 L1012.6,611.6 L1012.7,610.6 L1012.8,609.7 L1012.9,608.7 L1013.0,607.7 L1013.1,606.7 L1013.3,605.7 L1013.4,604.7 L1013.5,603.7 L1013.6,602.7 L1013.7,601.7 L1013.8,600.7 L1013.9,599.7 L1014.1,598.7 L1014.2,597.7 L1014.3,596.7 L1014.4,595.7 L1014.5,594.8 L1014.7,593.8 L1014.8,592.8 L1014.9,591.8 L1015.0,590.8 L1015.1,589.8 L1015.2,588.8 L1015.4,587.8 L1015.5,586.8 L1015.6,585.8 L1015.7,584.8 L1015.9,583.8 L1016.0,582.8 L1016.1,581.8 L1016.2,580.9 L1016.3,579.9 L1016.5,578.9 L1016.6,577.9 L1016.7,576.9 L1016.8,575.9 L1017.0,574.9 L1017.1,573.9 L1017.2,572.9 L1017.3,571.9 L1017.5,570.9 L1017.6,569.9 L1017.7,568.9 L1017.8,568.0 L1018.0,567.0 L1018.1,566.0 L1018.2,565.0 L1018.3,564.0 L1018.5,563.0 L1018.6,562.0 L1018.7,561.0 L1018.8,560.0 L1019.0,559.0 L1019.1,558.0 L1019.2,557.0 L1019.4,556.0 L1019.5,555.1 L1019.6,554.1 L1019.7,553.1 L1019.9,552.1 L1020.0,551.1 L1020.1,550.1 L1020.3,549.1 L1020.4,548.1 L1020.5,547.1 L1020.6,546.1 L1020.8,545.1 L1020.9,544.1 L1021.0,543.2 L1021.2,542.2 L1021.3,541.2 L1021.4,540.2 L1021.6,539.2 L1021.7,538.2 L1021.8,537.2 L1021.9,536.2 L1022.1,535.2 L1022.2,534.2 L1022.3,533.2 L1022.5,532.2 L1022.6,531.3 L1022.7,530.3 L1022.9,529.3 L1023.0,528.3 L1023.1,527.3 L1023.2,526.3 L1023.4,525.3 L1023.5,524.3 L1023.6,523.3 L1023.8,522.3 L1023.9,521.3 L1024.0,520.3 L1024.2,519.4 L1024.3,518.4 L1024.4,517.4 L1024.5,516.4 L1024.7,515.4 L1024.8,514.4 L1024.9,513.4 L1025.1,512.4 L1025.2,511.4 L1025.3,510.4 L1025.5,509.4 L1025.6,508.4 L1025.7,507.5 L1025.8,506.5 L1026.0,505.5 L1026.1,504.5 L1026.2,503.5 L1026.4,502.5 L1026.5,501.5 L1026.6,500.5 L1026.7,499.5 L1026.9,498.5 L1027.0,497.5 L1027.1,496.5 L1027.2,495.5 L1027.4,494.6 L1027.5,493.6 L1027.6,492.6 L1027.7,491.6 L1027.9,490.6 L1028.0,489.6 L1028.1,488.6 L1028.3,487.6 L1028.4,486.6 L1028.5,485.6 L1028.6,484.6 L1028.7,483.6 L1028.9,482.6 L1029.0,481.7 L1029.1,480.7 L1029.2,479.7 L1029.4,478.7 L1029.5,477.7 L1029.6,476.7 L1029.7,475.7 L1029.9,474.7 L1030.0,473.7 L1030.1,472.7 L1030.2,471.7 L1030.3,470.7 L1030.5,469.7 L1030.6,468.8 L1030.7,467.8 L1030.8,466.8 L1030.9,465.8 L1031.0,464.8 L1031.2,463.8 L1031.3,462.8 L1031.4,461.8 L1031.5,460.8 L1031.6,459.8 L1031.7,458.8 L1031.9,457.8 L1032.0,456.8 L1032.1,455.8 L1032.2,454.8 L1032.3,453.8 L1032.4,452.9 L1032.5,451.9 L1032.7,450.9 L1032.8,449.9 L1032.9,448.9 L1033.0,447.9 L1033.1,446.9 L1033.2,445.9 L1033.3,444.9 L1033.4,443.9 L1033.5,442.9 L1033.6,441.9 L1033.8,440.9 L1033.9,439.9 L1034.0,438.9 L1034.1,437.9 L1034.2,436.9 L1034.3,436.0 L1034.4,435.0 L1034.5,434.0 L1034.6,433.0 L1034.7,432.0 L1034.8,431.0 L1034.9,430.0 L1035.0,429.0 L1035.1,428.0 L1035.2,427.0 L1035.3,426.0 L1035.4,425.0 L1035.5,424.0 L1035.6,423.0 L1035.7,422.0 L1035.8,421.0 L1035.9,420.0 L1036.0,419.0 L1036.1,418.0 L1036.2,417.0 L1036.2,416.0 L1036.3,415.1 L1036.4,414.1 L1036.5,413.1 L1036.6,412.1 L1036.7,411.1 L1036.8,410.1 L1036.9,409.1 L1037.0,408.1 L1037.0,407.1 L1037.1,406.1 L1037.2,405.1 L1037.3,404.1 L1037.4,403.1 L1037.5,402.1 L1037.6,401.1 L1037.6,400.1 L1037.7,399.1 L1037.8,398.1 L1037.9,397.1 L1038.0,396.1 L1038.1,395.1 L1038.1,394.1 L1038.2,393.1 L1038.3,392.1 L1038.4,391.1 L1038.5,390.1 L1038.5,389.1 L1038.6,388.1 L1038.7,387.1 L1038.8,386.2 L1038.9,385.2 L1038.9,384.2 L1039.0,383.2 L1039.1,382.2 L1039.2,381.2 L1039.3,380.2 L1039.3,379.2 L1039.4,378.2 L1039.5,377.2 L1039.6,376.2 L1039.7,375.2 L1039.7,374.2 L1039.8,373.2 L1039.9,372.2 L1040.0,371.2 L1040.1,370.2 L1040.2,369.2 L1040.2,368.2 L1040.3,367.2 L1040.4,366.2 L1040.5,365.2 L1040.6,364.2 L1040.7,363.2 L1040.7,362.2 L1040.8,361.2 L1040.9,360.2 L1041.0,359.2 L1041.1,358.2 L1041.2,357.2 L1041.3,356.2 L1041.4,355.3 L1041.4,354.3 L1041.5,353.3 L1041.6,352.3 L1041.7,351.3 L1041.8,350.3 L1041.9,349.3 L1042.0,348.3 L1042.1,347.3 L1042.2,346.3 L1042.3,345.3 L1042.4,344.3 L1042.5,343.3 L1042.6,342.3 L1042.7,341.3 L1042.8,340.3 L1042.9,339.3 L1043.0,338.3 L1043.1,337.3 L1043.2,336.3 L1043.3,335.3 L1043.4,334.3 L1043.5,333.4 L1043.6,332.4 L1043.7,331.4 L1043.8,330.4 L1043.9,329.4 L1044.0,328.4 L1044.2,327.4 L1044.3,326.4 L1044.4,325.4 L1044.5,324.4 L1044.6,323.4 L1044.8,322.4 L1044.9,321.4 L1045.0,320.4 L1045.1,319.4 L1045.2,318.5 L1045.4,317.5 L1045.5,316.5 L1045.6,315.5 L1045.8,314.5 L1045.9,313.5 L1046.0,312.5 L1046.2,311.5 L1046.3,310.5 L1046.4,309.5 L1046.6,308.5 L1046.7,307.6 L1046.9,306.6 L1047.0,305.6 L1047.2,304.6 L1047.3,303.6 L1047.5,302.6 L1047.6,301.6 L1047.8,300.6 L1047.9,299.6 L1048.1,298.7 L1048.2,297.7 L1048.4,296.7 L1048.6,295.7 L1048.7,294.7 L1048.9,293.7 L1049.1,292.7 L1049.2,291.7 L1049.4,290.8 L1049.5,289.8 L1049.7,288.8 L1049.8,287.8 L1050.0,286.8 L1050.1,285.8 L1050.3,284.8 L1050.5,283.8 L1050.6,282.9 L1050.8,281.9 L1051.0,280.9 L1051.2,279.9 L1051.4,278.9 L1051.6,277.9 L1051.8,277.0 L1052.0,276.0 L1052.3,275.0 L1052.5,274.1 L1052.8,273.1 L1053.1,272.2 L1053.5,271.2 L1053.9,270.3 L1054.3,269.4 L1054.8,268.5 L1055.4,267.7 L1056.2,267.2 L1056.9,267.8 L1057.4,268.7 L1057.8,269.7 L1058.1,270.6 L1058.4,271.6 L1058.6,272.5 L1058.8,273.5 L1059.0,274.5 L1059.2,275.5 L1059.3,276.5 L1059.4,277.5 L1059.5,278.5 L1059.6,279.5 L1059.7,280.5 L1059.8,281.4 L1059.8,282.4 L1059.9,283.4 L1060.0,284.4 L1060.0,285.4 L1060.1,286.4 L1060.2,287.4 L1060.2,288.4 L1060.3,289.4 L1060.4,290.4 L1060.4,291.4 L1060.5,292.4 L1060.6,293.4 L1060.6,294.4 L1060.7,295.4 L1060.8,296.4 L1060.8,297.4 L1060.9,298.4 L1060.9,299.4 L1061.0,300.4 L1061.0,301.4 L1061.1,302.4 L1061.1,303.4 L1061.2,304.4 L1061.2,305.4 L1061.3,306.4 L1061.3,307.4 L1061.4,308.4 L1061.4,309.4 L1061.4,310.4 L1061.5,311.4 L1061.5,312.4 L1061.6,313.4 L1061.6,314.4 L1061.7,315.4 L1061.7,316.4 L1061.7,317.4 L1061.8,318.4 L1061.8,319.4 L1061.9,320.4 L1061.9,321.4 L1062.0,322.4 L1062.0,323.4 L1062.1,324.4 L1062.1,325.4 L1062.2,326.4 L1062.2,327.4 L1062.3,328.4 L1062.3,329.4 L1062.4,330.4 L1062.4,331.4 L1062.5,332.4 L1062.5,333.4 L1062.6,334.4 L1062.6,335.4 L1062.7,336.4 L1062.7,337.4 L1062.8,338.4 L1062.8,339.4 L1062.9,340.4 L1062.9,341.4 L1063.0,342.4 L1063.0,343.4 L1063.1,344.4 L1063.1,345.4 L1063.2,346.4 L1063.2,347.4 L1063.3,348.4 L1063.3,349.4 L1063.4,350.4 L1063.4,351.4 L1063.5,352.4 L1063.5,353.4 L1063.5,354.4 L1063.6,355.4 L1063.6,356.4 L1063.7,357.4 L1063.7,358.4 L1063.8,359.4 L1063.8,360.4 L1063.8,361.4 L1063.9,362.4 L1063.9,363.4 L1064.0,364.4 L1064.0,365.4 L1064.1,366.4 L1064.1,367.4 L1064.2,368.3 L1064.2,369.3 L1064.3,370.3 L1064.3,371.3 L1064.4,372.3 L1064.4,373.3 L1064.5,374.3 L1064.6,375.3 L1064.6,376.3 L1064.7,377.3 L1064.8,378.3 L1064.8,379.3 L1064.9,380.3 L1065.0,381.3 L1065.0,382.3 L1065.1,383.3 L1065.2,384.3 L1065.2,385.3 L1065.3,386.3 L1065.4,387.3 L1065.5,388.3 L1065.5,389.3 L1065.6,390.3 L1065.7,391.3 L1065.8,392.3 L1065.8,393.3 L1065.9,394.3 L1066.0,395.3 L1066.1,396.3 L1066.2,397.3 L1066.3,398.3 L1066.4,399.3 L1066.5,400.3 L1066.6,401.3 L1066.7,402.3 L1066.8,403.3 L1066.9,404.2 L1067.0,405.2 L1067.2,406.2 L1067.3,407.2 L1067.4,408.2 L1067.6,409.2 L1067.7,410.2 L1067.8,411.2 L1068.0,412.2 L1068.2,413.2 L1068.3,414.1 L1068.5,415.1 L1068.8,416.1 L1069.0,417.1 L1069.3,418.0 L1069.6,419.0 L1070.0,419.9 L1070.4,420.8 L1070.8,421.7 L1071.4,422.5 L1072.2,422.6 L1072.8,421.8 L1073.2,420.9 L1073.6,419.9 L1073.9,419.0 L1074.3,418.1 L1074.6,417.1 L1074.9,416.2 L1075.2,415.2 L1075.4,414.2 L1075.6,413.2 L1075.9,412.3 L1076.1,411.3 L1076.2,410.3 L1076.4,409.3 L1076.6,408.3 L1076.8,407.4 L1076.9,406.4 L1077.1,405.4 L1077.2,404.4 L1077.3,403.4 L1077.4,402.4 L1077.5,401.4 L1077.6,400.4 L1077.7,399.4 L1077.8,398.4 L1077.9,397.4 L1078.0,396.4 L1078.0,395.4 L1078.1,394.4 L1078.2,393.4 L1078.2,392.4 L1078.3,391.4 L1078.4,390.4 L1078.4,389.4 L1078.5,388.4 L1078.6,387.4 L1078.6,386.4 L1078.7,385.4 L1078.7,384.4 L1078.8,383.4 L1078.9,382.4 L1078.9,381.4 L1079.0,380.5 L1079.1,379.5 L1079.1,378.5 L1079.2,377.5 L1079.3,376.5 L1079.4,375.5 L1079.4,374.5 L1079.5,373.5 L1079.6,372.5 L1079.6,371.5 L1079.7,370.5 L1079.8,369.5 L1079.9,368.5 L1079.9,367.5 L1080.0,366.5 L1080.1,365.5 L1080.1,364.5 L1080.2,363.5 L1080.3,362.5 L1080.3,361.5 L1080.4,360.5 L1080.5,359.5 L1080.6,358.5 L1080.6,357.5 L1080.7,356.5 L1080.8,355.5 L1080.9,354.5 L1080.9,353.5 L1081.0,352.5 L1081.1,351.5 L1081.2,350.5 L1081.3,349.5 L1081.4,348.5 L1081.4,347.5 L1081.5,346.5 L1081.6,345.5 L1081.7,344.5 L1081.8,343.6 L1081.9,342.6 L1081.9,341.6 L1082.0,340.6 L1082.1,339.6 L1082.2,338.6 L1082.3,337.6 L1082.4,336.6 L1082.5,335.6 L1082.6,334.6 L1082.7,333.6 L1082.8,332.6 L1082.9,331.6 L1083.0,330.6 L1083.2,329.6 L1083.3,328.6 L1083.5,327.6 L1083.6,326.6 L1083.7,325.7 L1083.9,324.7 L1084.0,323.7 L1084.2,322.7 L1084.4,321.7 L1084.5,320.7 L1084.7,319.7 L1084.9,318.8 L1085.1,317.8 L1085.3,316.8 L1085.6,315.8 L1085.8,314.9 L1086.1,313.9 L1086.5,313.0 L1086.8,312.0 L1087.2,311.1 L1087.7,310.2 L1088.2,309.4 L1088.9,308.6 L1089.7,308.0 L1090.6,307.6 L1091.6,307.4 L1092.6,307.4 L1093.5,307.6 L1094.5,308.0 L1095.3,308.5 L1096.1,309.1 L1096.8,309.8 L1097.4,310.6 L1097.9,311.5 L1098.4,312.4 L1098.8,313.3 L1099.2,314.2 L1099.5,315.1 L1099.7,316.1 L1100.0,317.1 L1100.2,318.1 L1100.4,319.0 L1100.5,320.0 L1100.7,321.0 L1100.9,322.0 L1101.0,323.0 L1101.2,324.0 L1101.3,325.0 L1101.5,326.0 L1101.6,327.0 L1101.8,327.9 L1102.0,328.9 L1102.1,329.9 L1102.3,330.9 L1102.4,331.9 L1102.6,332.9 L1102.7,333.9 L1102.9,334.9 L1103.0,335.8 L1103.2,336.8 L1103.3,337.8 L1103.5,338.8 L1103.6,339.8 L1103.8,340.8 L1103.9,341.8 L1104.1,342.8 L1104.2,343.8 L1104.3,344.7 L1104.5,345.7 L1104.6,346.7 L1104.8,347.7 L1105.0,348.7 L1105.1,349.7 L1105.3,350.7 L1105.4,351.7 L1105.6,352.7 L1105.7,353.6 L1105.9,354.6 L1106.1,355.6 L1106.2,356.6 L1106.4,357.6 L1106.6,358.6 L1106.7,359.6 L1106.9,360.5 L1107.0,361.5 L1107.2,362.5 L1107.4,363.5 L1107.5,364.5 L1107.7,365.5 L1107.9,366.5 L1108.0,367.5 L1108.2,368.4 L1108.4,369.4 L1108.5,370.4 L1108.7,371.4 L1108.8,372.4 L1109.0,373.4 L1109.2,374.4 L1109.3,375.3 L1109.5,376.3 L1109.7,377.3 L1109.8,378.3 L1110.0,379.3 L1110.2,380.3 L1110.3,381.3 L1110.5,382.3 L1110.7,383.2 L1110.8,384.2 L1111.0,385.2 L1111.2,386.2 L1111.3,387.2 L1111.5,388.2 L1111.7,389.2 L1111.8,390.1 L1112.0,391.1 L1112.2,392.1 L1112.3,393.1 L1112.5,394.1 L1112.7,395.1 L1112.8,396.1 L1113.0,397.0 L1113.1,398.0 L1113.3,399.0 L1113.5,400.0 L1113.6,401.0 L1113.8,402.0 L1114.0,403.0 L1114.1,403.9 L1114.3,404.9 L1114.5,405.9 L1114.6,406.9 L1114.8,407.9 L1115.0,408.9 L1115.1,409.9 L1115.3,410.9 L1115.5,411.8 L1115.6,412.8 L1115.8,413.8 L1116.0,414.8 L1116.1,415.8 L1116.3,416.8 L1116.5,417.8 L1116.6,418.7 L1116.8,419.7 L1117.0,420.7 L1117.1,421.7 L1117.3,422.7 L1117.5,423.7 L1117.6,424.7 L1117.8,425.7 L1117.9,426.6 L1118.1,427.6 L1118.3,428.6 L1118.4,429.6 L1118.6,430.6 L1118.8,431.6 L1118.9,432.6 L1119.1,433.5 L1119.3,434.5 L1119.4,435.5 L1119.6,436.5 L1119.8,437.5 L1119.9,438.5 L1120.1,439.5 L1120.3,440.4 L1120.4,441.4 L1120.6,442.4 L1120.8,443.4 L1121.0,444.4 L1121.1,445.4 L1121.3,446.3 L1121.5,447.3 L1121.7,448.3 L1121.9,449.3 L1122.1,450.3 L1122.3,451.2 L1122.5,452.2 L1122.8,453.2 L1123.0,454.2 L1123.2,455.2 L1123.4,456.1 L1123.5,457.1 L1123.7,458.1 L1123.9,459.1 L1124.1,460.1 L1124.3,461.1 L1124.5,462.0 L1124.7,463.0 L1124.9,464.0 L1125.1,465.0 L1125.3,466.0 L1125.5,466.9 L1125.6,467.9 L1125.8,468.9 L1126.0,469.9 L1126.2,470.9 L1126.4,471.9 L1126.6,472.8 L1126.7,473.8 L1126.9,474.8 L1127.1,475.8 L1127.3,476.8 L1127.4,477.8 L1127.6,478.8 L1127.8,479.7 L1127.9,480.7 L1128.1,481.7 L1128.3,482.7 L1128.4,483.7 L1128.6,484.7 L1128.8,485.7 L1128.9,486.6 L1129.1,487.6 L1129.3,488.6 L1129.4,489.6 L1129.6,490.6 L1129.8,491.6 L1129.9,492.6 L1130.1,493.6 L1130.2,494.5 L1130.4,495.5 L1130.5,496.5 L1130.7,497.5 L1130.8,498.5 L1131.0,499.5 L1131.1,500.5 L1131.3,501.5 L1131.4,502.4 L1131.6,503.4 L1131.7,504.4 L1131.9,505.4 L1132.0,506.4 L1132.2,507.4 L1132.3,508.4 L1132.4,509.4 L1132.6,510.4 L1132.7,511.4 L1132.9,512.3 L1133.0,513.3 L1133.1,514.3 L1133.3,515.3 L1133.4,516.3 L1133.5,517.3 L1133.7,518.3 L1133.8,519.3 L1133.9,520.3 L1134.1,521.3 L1134.2,522.3 L1134.3,523.3 L1134.4,524.2 L1134.6,525.2 L1134.7,526.2 L1134.8,527.2 L1134.9,528.2 L1135.1,529.2 L1135.2,530.2 L1135.3,531.2 L1135.4,532.2 L1135.5,533.2 L1135.7,534.2 L1135.8,535.2 L1135.9,536.2 L1136.0,537.2 L1136.1,538.1 L1136.2,539.1 L1136.4,540.1 L1136.5,541.1 L1136.6,542.1 L1136.7,543.1 L1136.8,544.1 L1136.9,545.1 L1137.0,546.1 L1137.1,547.1 L1137.2,548.1 L1137.3,549.1 L1137.4,550.1 L1137.5,551.1 L1137.7,552.1 L1137.8,553.1 L1137.9,554.1 L1138.0,555.0 L1138.1,556.0 L1138.2,557.0 L1138.3,558.0 L1138.4,559.0 L1138.5,560.0 L1138.5,561.0 L1138.6,562.0 L1138.7,563.0 L1138.8,564.0 L1138.9,565.0 L1139.0,566.0 L1139.1,567.0 L1139.2,568.0 L1139.3,569.0 L1139.4,570.0 L1139.5,571.0 L1139.6,572.0 L1139.7,573.0 L1139.7,574.0 L1139.8,575.0 L1139.9,576.0 L1140.0,577.0 L1140.1,578.0 L1140.2,578.9 L1140.2,579.9 L1140.3,580.9 L1140.4,581.9 L1140.5,582.9 L1140.6,583.9 L1140.7,584.9 L1140.7,585.9 L1140.8,586.9 L1140.9,587.9 L1141.0,588.9 L1141.0,589.9 L1141.1,590.9 L1141.2,591.9 L1141.3,592.9 L1141.3,593.9 L1141.4,594.9 L1141.5,595.9 L1141.6,596.9 L1141.6,597.9 L1141.7,598.9 L1141.8,599.9 L1141.8,600.9 L1141.9,601.9 L1142.0,602.9 L1142.1,603.9 L1142.1,604.9 L1142.2,605.9 L1142.3,606.9 L1142.3,607.9 L1142.4,608.9 L1142.5,609.9 L1142.5,610.9 L1142.6,611.9 L1142.6,612.9 L1142.7,613.9 L1142.8,614.9 L1142.8,615.9 L1142.9,616.9 L1143.0,617.9 L1143.0,618.9 L1143.1,619.9 L1143.1,620.8 L1143.2,621.8 L1143.3,622.8 L1143.3,623.8 L1143.4,624.8 L1143.4,625.8 L1143.5,626.8 L1143.5,627.8 L1143.6,628.8 L1143.6,629.8 L1143.7,630.8 L1143.8,631.8 L1143.8,632.8 L1143.9,633.8 L1143.9,634.8 L1144.0,635.8 L1144.0,636.8 L1144.1,637.8 L1144.1,638.8 L1144.2,639.8 L1144.2,640.8 L1144.3,641.8 L1144.3,642.8 L1144.4,643.8 L1144.4,644.8 L1144.5,645.8 L1144.5,646.8 L1144.6,647.8 L1144.6,648.8 L1144.7,649.8 L1144.7,650.8 L1144.8,651.8 L1144.8,652.8 L1144.8,653.8 L1144.9,654.8 L1144.9,655.8 L1145.0,656.8 L1145.0,657.8 L1145.1,658.8 L1145.1,659.8 L1145.2,660.8 L1145.2,661.8 L1145.2,662.8 L1145.3,663.8 L1145.3,664.8 L1145.4,665.8 L1145.4,666.8 L1145.4,667.8 L1145.5,668.8 L1145.5,669.8 L1145.6,670.8 L1145.6,671.8 L1145.6,672.8 L1145.7,673.8 L1145.7,674.8 L1145.8,675.8 L1145.8,676.8 L1145.8,677.8 L1145.9,678.8 L1145.9,679.8 L1145.9,680.8 L1146.0,681.8 L1146.0,682.8 L1146.1,683.8 L1146.1,684.8 L1146.1,685.8 L1146.2,686.8 L1146.2,687.8 L1146.2,688.8 L1146.3,689.8 L1146.3,690.8 L1146.3,691.8 L1146.4,692.8 L1146.4,693.8 L1146.4,694.8 L1146.5,695.8 L1146.5,696.8 L1146.5,697.8 L1146.6,698.8 L1146.6,699.8 L1146.6,700.8 L1146.7,701.8 L1146.7,702.8 L1146.7,703.8 L1146.8,704.8 L1146.8,705.8 L1146.8,706.8 L1146.9,707.8 L1146.9,708.8 L1146.9,709.8 L1147.0,710.8 L1147.0,711.8 L1147.0,712.8 L1147.1,713.8 L1147.1,714.8 L1147.1,715.8 L1147.1,716.8 L1147.2,717.8 L1147.2,718.8 L1147.2,719.8 L1147.3,720.8 L1147.3,721.8 L1147.3,722.8 L1147.4,723.8 L1147.4,724.8 L1147.4,725.8 L1147.5,726.8 L1147.5,727.8 L1147.5,728.8 L1147.5,729.8 L1147.6,730.8 L1147.6,731.8 L1147.6,732.8 L1147.7,733.8 L1147.7,734.8 L1147.7,735.8 L1147.8,736.8 L1147.8,737.8 L1147.8,738.8 L1147.8,739.8 L1147.9,740.8 L1147.9,741.8 L1147.9,742.8 L1148.0,743.8 L1148.0,744.8 L1148.0,745.8 L1148.0,746.8 L1148.1,747.8 L1148.1,748.8 L1148.1,749.8 L1148.2,750.8 L1148.2,751.8 L1148.2,752.8 L1148.3,753.8 L1148.3,754.8 L1148.3,755.8 L1148.3,756.8 L1148.4,757.8 L1148.4,758.8 L1148.4,759.8 L1148.5,760.8 L1148.5,761.8 L1148.5,762.8 L1148.6,763.8 L1148.6,764.8 L1148.6,765.8 L1148.6,766.8 L1148.7,767.8 L1148.7,768.8 L1148.7,769.8 L1148.8,770.8 L1148.8,771.8 L1148.8,772.8 L1148.9,773.8 L1148.9,774.8 L1148.9,775.8 L1149.0,776.8 L1149.0,777.8 L1149.0,778.8 L1149.1,779.8 L1149.1,780.8 L1149.1,781.8 L1149.2,782.8 L1149.2,783.8 L1149.2,784.8 L1149.3,785.8 L1149.3,786.8 L1149.3,787.8 L1149.4,788.8 L1149.4,789.8 L1149.4,790.8 L1149.5,791.8 L1149.5,792.8 L1149.5,793.8 L1149.6,794.8 L1149.6,795.8 L1149.6,796.8 L1149.7,797.8 L1149.7,798.7 L1149.8,799.7 L1149.8,800.7 L1149.8,801.7 L1149.9,802.7 L1149.9,803.7 L1149.9,804.7 L1150.0,805.7 L1150.0,806.7 L1150.1,807.7 L1150.1,808.7 L1150.1,809.7 L1150.2,810.7 L1150.2,811.7 L1150.2,812.7 L1150.3,813.7 L1150.3,814.7 L1150.4,815.7 L1150.4,816.7 L1150.5,817.7 L1150.5,818.7 L1150.5,819.7 L1150.6,820.7 L1150.6,821.7 L1150.7,822.7 L1150.7,823.7 L1150.7,824.7 L1150.8,825.7 L1150.8,826.7 L1150.9,827.7 L1150.9,828.7 L1151.0,829.7 L1151.0,830.7 L1151.1,831.7 L1151.1,832.7 L1151.2,833.7 L1151.2,834.7 L1151.3,835.7 L1151.3,836.7 L1151.3,837.7 L1151.4,838.7 L1151.4,839.7 L1151.5,840.7 L1151.5,841.7 L1151.6,842.7 L1151.6,843.7 L1151.7,844.7 L1151.7,845.7 L1151.8,846.7 L1151.9,847.7 L1151.9,848.7 L1152.0,849.7 L1152.0,850.7 L1152.1,851.7 L1152.1,852.7 L1152.2,853.7 L1152.2,854.7 L1152.3,855.7 L1152.3,856.7 L1152.4,857.7 L1152.5,858.7 L1152.5,859.7 L1152.6,860.7 L1152.6,861.7 L1152.7,862.7 L1152.7,863.7 L1152.8,864.7 L1152.9,865.7 L1152.9,866.7 L1153.0,867.7 L1153.0,868.7 L1153.1,869.7 L1153.2,870.7 L1153.2,871.7 L1153.3,872.7 L1153.4,873.7 L1153.4,874.7 L1153.5,875.7 L1153.5,876.7 L1153.6,877.7 L1153.7,878.7 L1153.7,879.7 L1153.8,880.7 L1153.9,881.7 L1153.9,882.7 L1154.0,883.7 L1154.0,884.7 L1154.1,885.6 L1154.2,886.6 L1154.2,887.6 L1154.3,888.6 L1154.4,889.6 L1154.4,890.6 L1154.5,891.6 L1154.6,892.6 L1154.6,893.6 L1154.7,894.6 L1154.8,895.6 L1154.8,896.6 L1154.9,897.6 L1155.0,898.6 L1155.0,899.6 L1155.1,900.6 L1155.2,901.6 L1155.2,902.6 L1155.3,903.6 L1155.4,904.6 L1155.4,905.6 L1155.5,906.6 L1155.6,907.6 L1155.7,908.6 L1155.7,909.6 L1155.8,910.6 L1155.9,911.6 L1155.9,912.6 L1156.0,913.6 L1156.1,914.6 L1156.1,915.6 L1156.2,916.6 L1156.3,917.6 L1156.3,918.6 L1156.4,919.6 L1156.5,920.6 L1156.6,921.6 L1156.6,922.6 L1156.7,923.6 L1156.8,924.6 L1156.8,925.6 L1156.9,926.6 L1157.0,927.6 L1157.0,928.6 L1157.1,929.6 L1157.2,930.6 L1157.3,931.5 L1157.3,932.5 L1157.4,933.5 L1157.5,934.5 L1157.5,935.5 L1157.6,936.5 L1157.7,937.5 L1157.7,938.5 L1157.8,939.5 L1157.9,940.5 L1157.9,941.5 L1158.0,942.5 L1158.1,943.5 L1158.2,944.5 L1158.2,945.5 L1158.3,946.5 L1158.4,947.5 L1158.4,948.5 L1158.5,949.5 L1158.6,950.5 L1158.6,951.5 L1158.7,952.5 L1158.8,953.5 L1158.8,954.5 L1158.9,955.5 L1159.0,956.5 L1159.0,957.5 L1159.1,958.5 L1159.2,959.5 L1159.2,960.5 L1159.3,961.5 L1159.4,962.5 L1159.4,963.5 L1159.5,964.5 L1159.6,965.5 L1159.6,966.5 L1159.7,967.5 L1159.8,968.5 L1159.8,969.5 L1159.9,970.5 L1160.0,971.5 L1160.0,972.5 L1160.1,973.5 L1160.2,974.5 L1160.2,975.5 L1160.3,976.5 L1160.4,977.4 L1160.4,978.4 L1160.5,979.4 L1160.6,980.4 L1160.6,981.4 L1160.7,982.4 L1160.8,983.4 L1160.8,984.4 L1160.9,985.4 L1161.0,986.4 L1161.0,987.4 L1161.1,988.4 L1161.2,989.4 L1161.2,990.4 L1161.3,991.4 L1161.4,992.4 L1161.5,993.4 L1161.5,994.4 L1161.6,995.4 L1161.7,996.4 L1161.7,997.4 L1161.8,998.4 L1161.9,999.4 L1161.9,1000.4 L1162.0,1001.4 L1162.1,1002.4 L1162.2,1003.4 L1162.2,1004.4 L1162.3,1005.4 L1162.4,1006.4 L1162.5,1007.4 L1162.5,1008.4 L1162.6,1009.4 L1162.7,1010.4 L1162.8,1011.4 L1162.8,1012.4 L1162.9,1013.4 L1163.0,1014.4 L1163.1,1015.4 L1163.2,1016.4 L1163.2,1017.4 L1163.3,1018.3 L1163.4,1019.3 L1163.5,1020.3 L1163.6,1021.3 L1163.6,1022.3 L1163.7,1023.3 L1163.8,1024.3 L1163.9,1025.3 L1164.0,1026.3 L1164.1,1027.3 L1164.2,1028.3 L1164.2,1029.3 L1164.3,1030.3 L1164.4,1031.3 L1164.5,1032.3 L1164.6,1033.3 L1164.7,1034.3 L1164.8,1035.3 L1164.9,1036.3 L1165.0,1037.3 L1165.1,1038.3 L1165.2,1039.3 L1165.3,1040.3 L1165.4,1041.3 L1165.5,1042.3 L1165.6,1043.3 L1165.7,1044.2 L1165.8,1045.2 L1165.9,1046.2 L1166.0,1047.2 L1166.1,1048.2 L1166.2,1049.2 L1166.3,1050.2 L1166.4,1051.2 L1166.5,1052.2 L1166.7,1053.2 L1166.8,1054.2 L1166.9,1055.2 L1167.0,1056.2 L1167.1,1057.2 L1167.2,1058.2 L1167.4,1059.2 L1167.5,1060.1 L1167.6,1061.1 L1167.8,1062.1 L1167.9,1063.1 L1168.0,1064.1 L1168.2,1065.1 L1168.3,1066.1 L1168.4,1067.1 L1168.6,1068.1 L1168.7,1069.1 L1168.8,1070.1 L1169.0,1071.0 L1169.1,1072.0 L1169.3,1073.0 L1169.4,1074.0 L1169.6,1075.0 L1169.8,1076.0 L1169.9,1077.0 L1170.1,1078.0 L1170.2,1078.9 L1170.4,1079.9 L1170.6,1080.9 L1170.7,1081.9 L1170.9,1082.9 L1171.1,1083.9 L1171.3,1084.9 L1171.4,1085.8 L1171.6,1086.8 L1171.8,1087.8 L1172.0,1088.8 L1172.2,1089.8 L1172.4,1090.8 L1172.6,1091.7 L1172.7,1092.7 L1172.9,1093.7 L1173.1,1094.7 L1173.4,1095.7 L1173.6,1096.6 L1173.8,1097.6 L1174.0,1098.6 L1174.2,1099.6 L1174.4,1100.5 L1174.6,1101.5 L1174.9,1102.5 L1175.1,1103.5 L1175.3,1104.4 L1175.5,1105.4 L1175.8,1106.4 L1176.0,1107.4 L1176.2,1108.3 L1176.5,1109.3 L1176.7,1110.3 L1177.0,1111.2 L1177.2,1112.2 L1177.5,1113.2 L1177.8,1114.1 L1178.0,1115.1 L1178.3,1116.1 L1178.5,1117.0 L1178.8,1118.0 L1179.1,1119.0 L1179.4,1119.9 L1179.6,1120.9 L1179.9,1121.8 L1180.2,1122.8 L1180.5,1123.8 L1180.8,1124.7 L1181.1,1125.7 L1181.4,1126.6 L1181.7,1127.6 L1182.0,1128.5 L1182.3,1129.5 L1182.6,1130.4 L1182.9,1131.4 L1183.3,1132.3 L1183.6,1133.3 L1183.9,1134.2 L1184.2,1135.2 L1184.6,1136.1 L1184.9,1137.1 L1185.2,1138.0 L1185.6,1138.9 L1185.9,1139.9 L1186.3,1140.8 L1186.6,1141.7 L1187.0,1142.7 L1187.3,1143.6 L1187.7,1144.5 L1188.1,1145.5 L1188.4,1146.4 L1188.8,1147.3 L1189.2,1148.3 L1189.6,1149.2 L1190.0,1150.1 L1190.3,1151.0 L1190.7,1151.9 L1191.1,1152.9 L1191.5,1153.8 L1191.9,1154.7 L1192.3,1155.6 L1192.7,1156.5 L1193.2,1157.4 L1193.6,1158.3 L1194.4,1158.2 L1195.2,1157.8 L1196.0,1157.1 L1196.8,1156.2 L1197.6,1155.0 L1198.4,1153.5 L1199.2,1151.7 L1200.0,1149.7 L1200.8,1147.4 L1201.6,1144.8 L1202.4,1142.0 L1203.2,1138.9 L1204.0,1135.6 L1204.8,1132.0 L1205.6,1128.1 L1206.4,1124.0 L1207.2,1119.6 L1207.9,1115.0 L1208.7,1110.1 L1209.5,1105.0 L1210.3,1099.6 L1211.1,1094.0 L1211.9,1088.2 L1212.7,1082.1 L1213.5,1075.8 L1214.3,1069.3 L1215.1,1062.5 L1215.9,1055.5 L1216.7,1048.4 L1217.5,1040.9 L1218.3,1033.3 L1219.1,1025.5 L1219.9,1017.5 L1220.7,1009.2 L1221.5,1000.8 L1222.3,992.2 L1223.1,983.4 L1223.9,974.5 L1224.7,965.3 L1225.5,956.0 L1226.3,946.5 L1227.1,936.9 L1227.9,927.1 L1228.7,917.1 L1229.5,907.1 L1230.3,896.8 L1231.1,886.5 L1231.9,876.0 L1232.7,865.4 L1233.5,854.6 L1234.3,843.8 L1235.1,832.8 L1235.9,821.8 L1236.7,810.6 L1237.5,799.4 L1238.3,788.1 L1239.1,776.7 L1239.9,765.2 L1240.7,753.7 L1241.5,742.1 L1242.3,730.5 L1243.1,718.8 L1243.9,707.1 L1244.7,695.3 L1245.5,683.5 L1246.3,671.7 L1247.1,659.9 L1247.9,648.1 L1248.7,636.2 L1249.5,624.4 L1250.3,612.6 L1251.1,600.8 L1251.9,589.0 L1252.7,577.2 L1253.5,565.5 L1254.3,553.8 L1255.1,542.2 L1255.9,530.6 L1256.7,519.1 L1257.5,507.6 L1258.3,496.2 L1259.1,484.9 L1259.9,473.7 L1260.7,462.6 L1261.5,451.5 L1262.3,440.6 L1263.1,429.7 L1263.9,419.0 L1264.7,408.4 L1265.5,397.9 L1266.3,387.5 L1267.1,377.3 L1267.8,367.2 L1268.6,357.3 L1269.4,347.5 L1270.2,337.9 L1271.0,328.4 L1271.8,319.1 L1272.6,309.9 L1273.4,301.0 L1274.2,292.2 L1275.0,283.6 L1275.8,275.2 L1276.6,266.9 L1277.4,258.9 L1278.2,251.1 L1279.0,243.5 L1279.8,236.1 L1280.6,228.9 L1281.4,221.9 L1282.2,215.2 L1283.0,208.6 L1283.8,202.3 L1284.6,196.3 L1285.4,190.4 L1286.2,184.8 L1287.0,179.5 L1287.8,174.4 L1288.6,169.5 L1289.4,164.9 L1290.2,160.5 L1291.0,156.4 L1291.8,152.5 L1292.6,148.9 L1293.4,145.6 L1294.2,142.5 L1295.0,139.7 L1295.8,137.1 L1296.6,134.8 L1297.4,132.8 L1298.2,131.1 L1299.0,129.6 L1299.8,128.4 L1300.6,127.4 L1301.4,126.8 L1302.2,126.4 L1303.0,126.2 L1303.8,126.4 L1304.6,126.8 L1305.4,127.5 L1306.2,128.4 L1307.0,129.6 L1307.8,131.1 L1308.6,132.9 L1309.4,134.9 L1310.2,137.2 L1311.0,139.8 L1311.8,142.6 L1312.6,145.7 L1313.4,149.1 L1314.2,152.7 L1315.0,156.6 L1315.8,160.7 L1316.6,165.1 L1317.4,169.7 L1318.2,174.6 L1319.0,179.7 L1319.8,185.1 L1320.6,190.7 L1321.4,196.5 L1322.2,202.6 L1323.0,208.9 L1323.8,215.4 L1324.6,222.2 L1325.4,229.2 L1326.2,236.4 L1326.9,243.8 L1327.7,251.4 L1328.5,259.2 L1329.3,267.3 L1330.1,275.5 L1330.9,283.9 L1331.7,292.5 L1332.5,301.3 L1333.3,310.3 L1334.1,319.5 L1334.9,328.8 L1335.7,338.3 L1336.5,347.9 L1337.3,357.7 L1338.1,367.6 L1338.9,377.7 L1339.7,388.0 L1340.5,398.3 L1341.3,408.8 L1342.1,419.4 L1342.9,430.2 L1343.7,441.0 L1344.5,452.0 L1345.3,463.0 L1346.1,474.2 L1346.9,485.4 L1347.7,496.7 L1348.5,508.1 L1349.3,519.6 L1350.1,531.1 L1350.9,542.7 L1351.7,554.3 L1352.5,566.0 L1353.3,577.7 L1354.1,589.5 L1354.9,601.3 L1355.7,613.1 L1356.5,624.9 L1357.3,636.7 L1358.1,648.6 L1358.9,660.4 L1359.7,672.2 L1360.5,684.0 L1361.3,695.8 L1362.1,707.6 L1362.9,719.3 L1363.7,731.0 L1364.5,742.6 L1365.3,754.2 L1366.1,765.7 L1366.9,777.2 L1367.7,788.6 L1368.5,799.9 L1369.3,811.1 L1370.1,822.2 L1370.9,833.3 L1371.7,844.2 L1372.5,855.1 L1373.3,865.8 L1374.1,876.4 L1374.9,886.9 L1375.7,897.3 L1376.5,907.5 L1377.3,917.6 L1378.1,927.5 L1378.9,937.3 L1379.7,946.9 L1380.5,956.4 L1381.3,965.7 L1382.1,974.8 L1382.9,983.8 L1383.7,992.6 L1384.5,1001.2 L1385.3,1009.6 L1386.1,1017.8 L1386.8,1025.8 L1387.6,1033.6 L1388.4,1041.3 L1389.2,1048.7 L1390.0,1055.8 L1390.8,1062.8 L1391.6,1069.6 L1392.4,1076.1 L1393.2,1082.4 L1394.0,1088.4 L1394.8,1094.3 L1395.6,1099.9 L1396.4,1105.2 L1397.2,1110.3 L1398.0,1115.2 L1398.8,1119.8 L1399.6,1124.2 L1400.4,1128.3 L1401.2,1132.1 L1402.0,1135.7 L1402.8,1139.1 L1403.6,1142.1 L1404.4,1144.9 L1405.2,1147.5 L1406.0,1149.8 L1406.8,1151.8 L1407.6,1153.5 L1408.4,1155.0 L1409.2,1156.2 L1410.0,1157.2 L1410.8,1157.8 L1411.6,1158.2 L1412.4,1158.3 L1413.2,1158.2 L1414.0,1157.8 L1414.8,1157.1 L1415.6,1156.1 L1416.4,1154.9 L1417.2,1153.4 L1418.0,1151.6 L1418.8,1149.6 L1419.6,1147.3 L1420.4,1144.7 L1421.2,1141.9 L1422.0,1138.8 L1422.8,1135.4 L1423.6,1131.8 L1424.4,1127.9 L1425.2,1123.8 L1426.0,1119.4 L1426.8,1114.8 L1427.6,1109.9 L1428.4,1104.8 L1429.2,1099.4 L1430.0,1093.8 L1430.8,1088.0 L1431.6,1081.9 L1432.4,1075.6 L1433.2,1069.0 L1434.0,1062.2 L1434.8,1055.3 L1435.6,1048.0 L1436.4,1040.6 L1437.2,1033.0 L1438.0,1025.2 L1438.8,1017.1 L1439.6,1008.9 L1440.4,1000.5 L1441.2,991.9 L1442.0,983.1 L1442.8,974.1 L1443.6,964.9 L1444.4,955.6 L1445.2,946.1 L1446.0,936.5 L1446.7,926.7 L1447.5,916.7 L1448.3,906.6 L1449.1,896.4 L1449.9,886.0 L1450.7,875.5 L1451.5,864.9 L1452.3,854.2 L1453.1,843.3 L1453.9,832.4 L1454.7,821.3 L1455.5,810.2 L1456.3,798.9 L1457.1,787.6 L1457.9,776.2 L1458.7,764.8 L1459.5,753.2 L1460.3,741.7 L1461.1,730.0 L1461.9,718.3 L1462.7,706.6 L1463.5,694.8 L1464.3,683.1 L1465.1,671.3 L1465.9,659.4 L1466.7,647.6 L1467.5,635.8 L1468.3,623.9 L1469.1,612.1 L1469.9,600.3 L1470.7,588.5 L1471.5,576.8 L1472.3,565.0 L1473.1,553.4 L1473.9,541.7 L1474.7,530.1 L1475.5,518.6 L1476.3,507.2 L1477.1,495.8 L1477.9,484.5 L1478.7,473.2 L1479.5,462.1 L1480.3,451.1 L1481.1,440.1 L1481.9,429.3 L1482.7,418.6 L1483.5,408.0 L1484.3,397.5 L1485.1,387.1 L1485.9,376.9 L1486.7,366.8 L1487.5,356.9 L1488.3,347.1 L1489.1,337.5 L1489.9,328.0 L1490.7,318.7 L1491.5,309.6 L1492.3,300.6 L1493.1,291.8 L1493.9,283.2 L1494.7,274.8 L1495.5,266.6 L1496.3,258.6 L1497.1,250.8 L1497.9,243.2 L1498.7,235.8 L1499.5,228.6 L1500.3,221.6 L1501.1,214.9 L1501.9,208.4 L1502.7,202.1 L1503.5,196.0 L1504.3,190.2 L1505.1,184.6 L1505.8,179.2 L1506.6,174.1 L1507.4,169.3 L1508.2,164.7 L1509.0,160.3 L1509.8,156.2 L1510.6,152.4 L1511.4,148.8 L1512.2,145.5 L1513.0,142.4 L1513.8,139.6 L1514.6,137.0 L1515.4,134.8 L1516.2,132.7 L1517.0,131.0 L1517.8,129.5 L1518.6,128.3 L1519.4,127.4 L1520.2,126.7 L1521.0,126.3 L1521.8,126.2 L1522.6,126.4 L1523.4,126.8 L1524.2,127.5 L1525.0,128.5 L1525.8,129.7 L1526.6,131.2 L1527.4,133.0 L1528.2,135.0 L1529.0,137.3 L1529.8,139.9 L1530.6,142.8 L1531.4,145.9 L1532.2,149.2 L1533.0,152.8 L1533.8,156.7 L1534.6,160.9 L1535.4,165.2 L1536.2,169.9 L1537.0,174.8 L1537.8,179.9 L1538.6,185.3 L1539.4,190.9 L1540.2,196.8 L1541.0,202.8 L1541.8,209.2 L1542.6,215.7 L1543.4,222.5 L1544.2,229.5 L1545.0,236.7 L1545.8,244.1 L1546.6,251.7 L1547.4,259.6 L1548.2,267.6 L1549.0,275.9 L1549.8,284.3 L1550.6,292.9 L1551.4,301.7 L1552.2,310.7 L1553.0,319.8 L1553.8,329.2 L1554.6,338.7 L1555.4,348.3 L1556.2,358.1 L1557.0,368.1 L1557.8,378.2 L1558.6,388.4 L1559.4,398.8 L1560.2,409.3 L1561.0,419.9 L1561.8,430.6 L1562.6,441.5 L1563.4,452.4 L1564.2,463.5 L1565.0,474.6 L1565.7,485.9 L1566.5,497.2 L1567.3,508.6 L1568.1,520.0 L1568.9,531.6 L1569.7,543.2 L1570.5,554.8 L1571.3,566.5 L1572.1,578.2 L1572.9,590.0 L1573.7,601.8 L1574.5,613.6 L1575.3,625.4 L1576.1,637.2 L1576.9,649.1 L1577.7,660.9 L1578.5,672.7 L1579.3,684.5 L1580.1,696.3 L1580.9,708.1 L1581.7,719.8 L1582.5,731.5 L1583.3,743.1 L1584.1,754.7 L1584.9,766.2 L1585.7,777.7 L1586.5,789.0 L1587.3,800.3 L1588.1,811.6 L1588.9,822.7 L1589.7,833.8 L1590.5,844.7 L1591.3,855.5 L1592.1,866.2 L1592.9,876.8 L1593.7,887.3 L1594.5,897.7 L1595.3,907.9 L1596.1,918.0 L1596.9,927.9 L1597.7,937.7 L1598.5,947.3 L1599.3,956.8 L1600.1,966.1 L1600.9,975.2 L1601.7,984.2 L1602.5,992.9 L1603.3,1001.5 L1604.1,1009.9 L1604.9,1018.1 L1605.7,1026.2 L1606.5,1034.0 L1607.3,1041.6 L1608.1,1049.0 L1608.9,1056.1 L1609.7,1063.1 L1610.5,1069.8 L1611.3,1076.4 L1612.1,1082.6 L1612.9,1088.7 L1613.7,1094.5 L1614.5,1100.1 L1615.3,1105.4 L1616.1,1110.5 L1616.9,1115.4 L1617.7,1120.0 L1618.5,1124.3 L1619.3,1128.4 L1620.1,1132.3 L1620.9,1135.9 L1621.7,1139.2 L1622.5,1142.3 L1623.3,1145.1 L1624.1,1147.6 L1624.9,1149.9 L1625.6,1151.9 L1626.4,1153.6 L1627.2,1155.1 L1628.0,1156.3 L1628.8,1157.2 L1629.6,1157.9 L1630.4,1158.2 L1631.2,1158.3 L1632.0,1158.2 L1632.8,1157.8 L1633.6,1157.1 L1634.4,1156.1 L1635.2,1154.8 L1636.0,1153.3 L1636.8,1151.6 L1637.6,1149.5 L1638.4,1147.2 L1639.2,1144.6 L1640.0,1141.8 L1640.8,1138.7 L1641.6,1135.3 L1642.4,1131.7 L1643.2,1127.8 L1644.0,1123.6 L1644.8,1119.2 L1645.6,1114.6 L1646.4,1109.7 L1647.2,1104.6 L1648.0,1099.2 L1648.8,1093.6 L1649.6,1087.7 L1650.4,1081.6 L1651.2,1075.3 L1652.0,1068.7 L1652.8,1062.0 L1653.6,1055.0 L1654.4,1047.7 L1655.2,1040.3 L1656.0,1032.7 L1656.8,1024.8 L1657.6,1016.8 L1658.4,1008.6 L1659.2,1000.1 L1660.0,991.5 L1660.8,982.7 L1661.6,973.7 L1662.4,964.5 L1663.2,955.2 L1664.0,945.7 L1664.8,936.1 L1665.6,926.3 L1666.4,916.3 L1667.2,906.2 L1668.0,896.0 L1668.8,885.6 L1669.6,875.1 L1670.4,864.5 L1671.2,853.7 L1672.0,842.9 L1672.8,831.9 L1673.6,820.9 L1674.4,809.7 L1675.2,798.5 L1676.0,787.2 L1676.8,775.8 L1677.6,764.3 L1678.4,752.8 L1679.2,741.2 L1680.0,729.5 L1680.8,717.8 L1681.6,706.1 L1682.4,694.4 L1683.2,682.6 L1684.0,670.8 L1684.7,658.9 L1685.5,647.1 L1686.3,635.3 L1687.1,623.4 L1687.9,611.6 L1688.7,599.8 L1689.5,588.0 L1690.3,576.3 L1691.1,564.5 L1691.9,552.9 L1692.7,541.2 L1693.5,529.7 L1694.3,518.1 L1695.1,506.7 L1695.9,495.3 L1696.7,484.0 L1697.5,472.8 L1698.3,461.6 L1699.1,450.6 L1699.9,439.7 L1700.7,428.8 L1701.5,418.1 L1702.3,407.5 L1703.1,397.0 L1703.9,386.7 L1704.7,376.5 L1705.5,366.4 L1706.3,356.5 L1707.1,346.7 L1707.9,337.1 L1708.7,327.6 L1709.5,318.3 L1710.3,309.2 L1711.1,300.2 L1711.9,291.5 L1712.7,282.9 L1713.5,274.5 L1714.3,266.3 L1715.1,258.3 L1715.9,250.5 L1716.7,242.9 L1717.5,235.5 L1718.3,228.3 L1719.1,221.3 L1719.9,214.6 L1720.7,208.1 L1721.5,201.8 L1722.3,195.8 L1723.1,189.9 L1723.9,184.4 L1724.7,179.0 L1725.5,173.9 L1726.3,169.1 L1727.1,164.5 L1727.9,160.1 L1728.7,156.1 L1729.5,152.2 L1730.3,148.6 L1731.1,145.3 L1731.9,142.3 L1732.7,139.5 L1733.5,136.9 L1734.3,134.7 L1735.1,132.7 L1735.9,130.9 L1736.7,129.5 L1737.5,128.3 L1738.3,127.4 L1739.1,126.7 L1739.9,126.3 L1740.7,126.2 L1741.5,126.4 L1742.3,126.8 L1743.1,127.5 L1743.9,128.5 L1744.6,129.8 L1745.4,131.3 L1746.2,133.1 L1747.0,135.1 L1747.8,137.4 L1748.6,140.0 L1749.4,142.9 L1750.2,146.0 L1751.0,149.4 L1751.8,153.0 L1752.6,156.9 L1753.4,161.0 L1754.2,165.4 L1755.0,170.1 L1755.8,175.0 L1756.6,180.1 L1757.4,185.5 L1758.2,191.1 L1759.0,197.0 L1759.8,203.1 L1760.6,209.4 L1761.4,216.0 L1762.2,222.8 L1763.0,229.8 L1763.8,237.0 L1764.6,244.4 L1765.4,252.1 L1766.2,259.9 L1767.0,268.0 L1767.8,276.2 L1768.6,284.6 L1769.4,293.3 L1770.2,302.1 L1771.0,311.1 L1771.8,320.2 L1772.6,329.6 L1773.4,339.1 L1774.2,348.7 L1775.0,358.5 L1775.8,368.5 L1776.6,378.6 L1777.4,388.8 L1778.2,399.2 L1779.0,409.7 L1779.8,420.3 L1780.6,431.1 L1781.4,441.9 L1782.2,452.9 L1783.0,463.9 L1783.8,475.1 L1784.6,486.3 L1785.4,497.7 L1786.2,509.1 L1787.0,520.5 L1787.8,532.1 L1788.6,543.6 L1789.4,555.3 L1790.2,567.0 L1791.0,578.7 L1791.8,590.5 L1792.6,602.3 L1793.4,614.1 L1794.2,625.9 L1795.0,637.7 L1795.8,649.6 L1796.6,661.4 L1797.4,673.2 L1798.2,685.0 L1799.0,696.8 L1799.8,708.6 L1800.6,720.3 L1801.4,732.0 L1802.2,743.6 L1803.0,755.2 L1803.8,766.7 L1804.5,778.1 L1805.3,789.5 L1806.1,800.8 L1806.9,812.0 L1807.7,823.2 L1808.5,834.2 L1809.3,845.1 L1810.1,856.0 L1810.9,866.7 L1811.7,877.3 L1812.5,887.8 L1813.3,898.1 L1814.1,908.3 L1814.9,918.4 L1815.7,928.3 L1816.5,938.1 L1817.3,947.7 L1818.1,957.2 L1818.9,966.5 L1819.7,975.6 L1820.5,984.5 L1821.3,993.3 L1822.1,1001.9 L1822.9,1010.3 L1823.7,1018.5 L1824.5,1026.5 L1825.3,1034.3 L1826.1,1041.9 L1826.9,1049.3 L1827.7,1056.4 L1828.5,1063.4 L1829.3,1070.1 L1830.1,1076.6 L1830.9,1082.9 L1831.7,1088.9"/>
</g>
<g fill-rule="evenodd" stroke="none">
<path fill="#ff8c42" d="M1027.8,199.0 H1115.4 L1119.4,203.0 V436.6 L1115.4,440.6 H1027.8 L1023.8,436.6 V203.0 Z M1035.8,211.0 V428.6 H1107.4 V211.0 Z"/>
<path fill="#216575" d="M1119.9,140.0 H1183.0 L1187.0,144.0 V439.6 L1183.0,443.6 H1119.9 L1115.9,439.6 V144.0 Z M1127.9,152.0 V431.6 H1175.0 V152.0 Z"/>
</g>
<rect x="189.5" y="32.5" width="1641.0" height="1224.0" fill="none" stroke="#000" stroke-width="5"/>
<g fill="#000">
<rect x="174" y="67.0" width="14" height="5"/>
<rect x="174" y="250.0" width="14" height="5"/>
<rect x="174" y="433.0" width="14" height="5"/>
<rect x="174" y="616.0" width="14" height="5"/>
<rect x="174" y="799.0" width="14" height="5"/>
<rect x="174" y="982.0" width="14" height="5"/>
<rect x="174" y="1165.0" width="14" height="5"/>
<rect x="296.4" y="1258" width="5" height="15"/>
<rect x="515.2" y="1258" width="5" height="15"/>
<rect x="734.0" y="1258" width="5" height="15"/>
<rect x="952.8" y="1258" width="5" height="15"/>
<rect x="1171.6" y="1258" width="5" height="15"/>
<rect x="1390.4" y="1258" width="5" height="15"/>
<rect x="1609.2" y="1258" width="5" height="15"/>
<rect x="1828.0" y="1258" width="5" height="15"/>
</g>
<g font-family="'Liberation Serif', 'Times New Roman', serif" fill="#000">
<text transform="scale(0.9460,1)" x="118.07 140.85" y="86.62" font-size="47.73">30</text>
<text transform="scale(0.9460,1)" x="119.18 140.85" y="269.62" font-size="47.73">20</text>
<text transform="scale(0.9460,1)" x="119.33 140.85" y="452.62" font-size="47.73">10</text>
<text transform="scale(0.9460,1)" x="142.86" y="635.62" font-size="47.73">0</text>
<g><text transform="translate(77.67,827.39) scale(1.4221,1.5000)" font-size="44.00">−</text><text transform="scale(0.9460,1)" x="119.33 140.85" y="818.62" font-size="47.73">10</text></g>
<g><text transform="translate(77.67,1010.39) scale(1.4221,1.5000)" font-size="44.00">−</text><text transform="scale(0.9460,1)" x="119.18 140.85" y="1001.62" font-size="47.73">20</text></g>
<g><text transform="translate(77.67,1193.39) scale(1.4221,1.5000)" font-size="44.00">−</text><text transform="scale(0.9460,1)" x="118.07 140.74" y="1184.62" font-size="47.73">30</text></g>
<g><text transform="translate(258.61,1330.19) scale(1.4026,1.5000)" font-size="44.00">−</text><text transform="scale(0.9460,1)" x="310.15 332.72" y="1321.52" font-size="47.59">40</text></g>
<g><text transform="translate(478.18,1330.19) scale(1.3734,1.5000)" font-size="44.00">−</text><text transform="scale(0.9460,1)" x="540.43 564.11" y="1321.52" font-size="47.59">20</text></g>
<text transform="scale(0.9460,1)" x="765.49" y="1321.52" font-size="47.59">0</text>
<text transform="scale(0.9460,1)" x="984.62 1007.66" y="1321.52" font-size="47.59">20</text>
<text transform="scale(0.9460,1)" x="1217.12 1239.06" y="1321.52" font-size="47.59">40</text>
<text transform="scale(0.9460,1)" x="1446.99 1469.71" y="1321.52" font-size="47.59">60</text>
<text transform="scale(0.9460,1)" x="1678.91 1701.11" y="1321.52" font-size="47.59">80</text>
<text transform="scale(0.9460,1)" x="1898.41 1920.88 1943.08" y="1321.52" font-size="47.59">100</text>
<text transform="scale(0.9300,1)" x="980.08 1011.00 1023.80 1060.49 1074.53 1096.35 1108.85 1145.33 1160.00" y="1381.90" font-size="46.80">Time [ms]</text>
<g transform="translate(49,655.8) rotate(-90)"><text transform="scale(0.8800,1)" x="-4.23 8.32 32.57 64.76" y="0.00" font-size="50.00">[kV]</text></g>
<text transform="translate(763.96,179.32) scale(1.0282,1)" font-size="53.82" font-weight="bold" fill="#ff6600">camel humps</text>
<text transform="translate(1083.87,106.45) scale(1.0221,1)" font-size="54.31" font-weight="bold" fill="#216575">Doge's hat</text>
</g>
</svg>
</body></html>
